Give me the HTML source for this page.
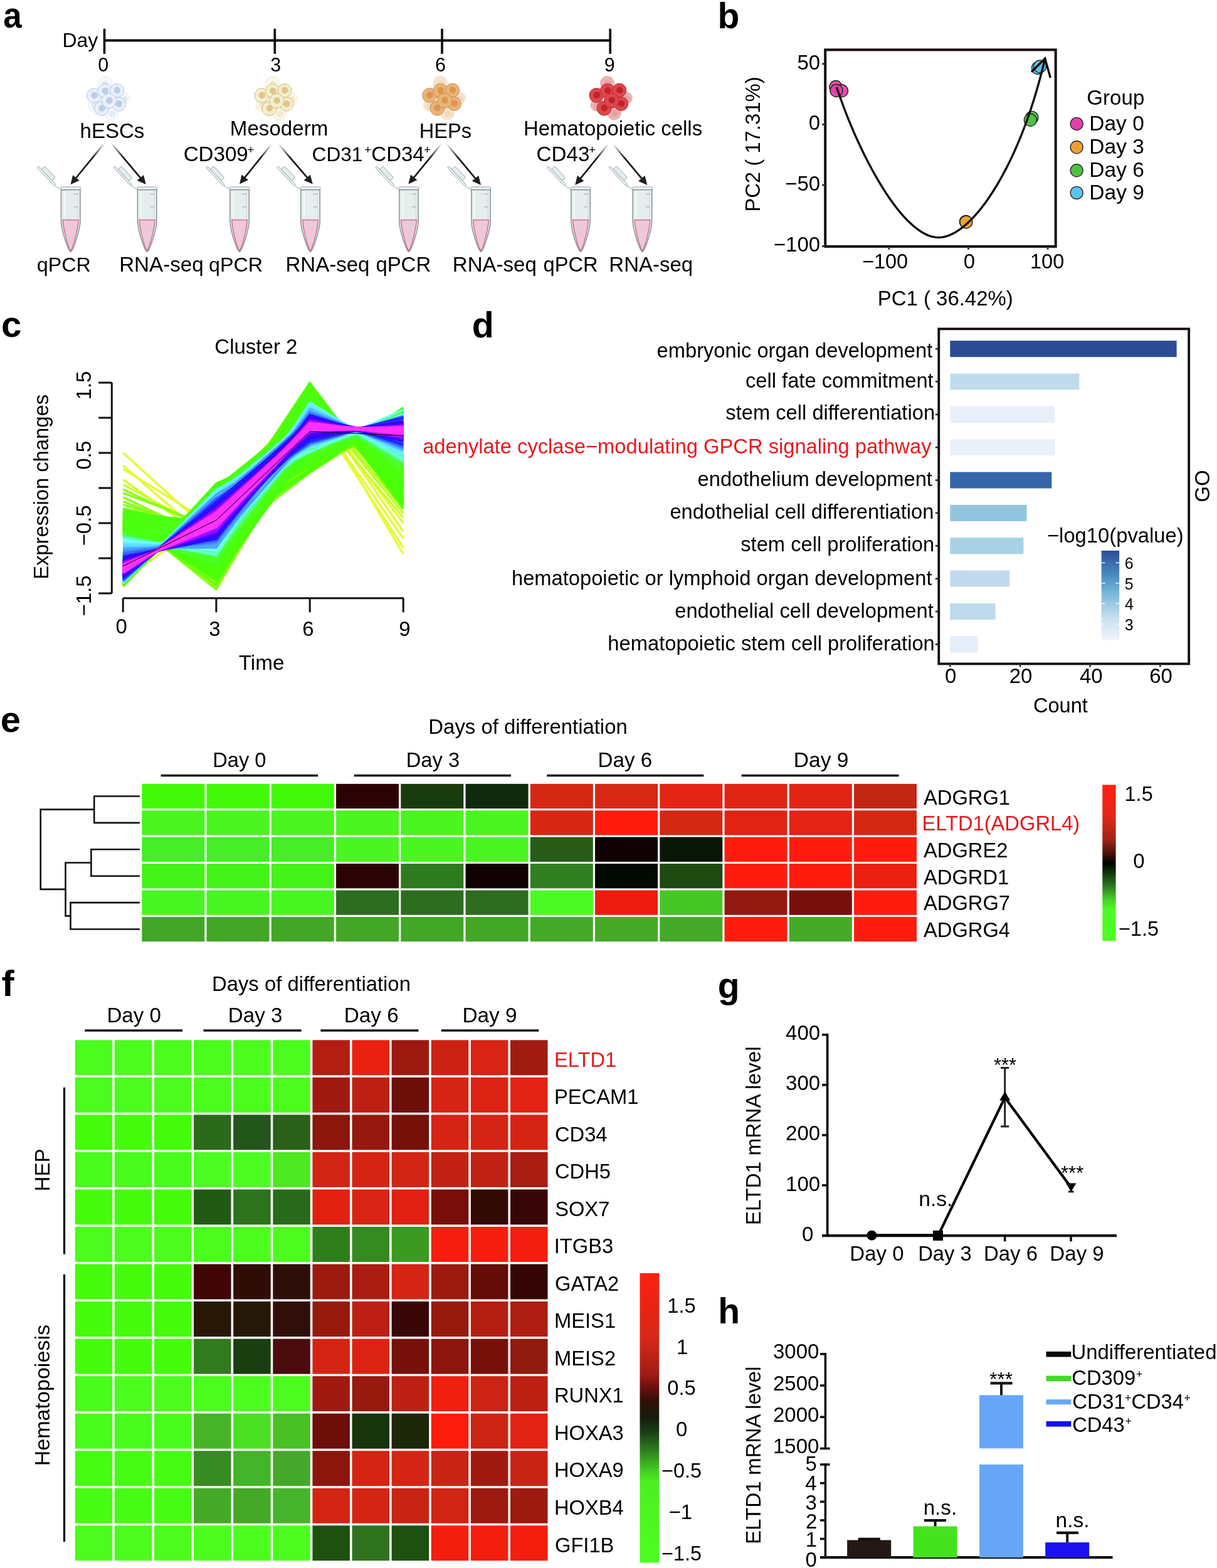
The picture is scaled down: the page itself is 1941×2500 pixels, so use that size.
<!DOCTYPE html>
<html><head><meta charset="utf-8"><title>Figure</title>
<style>
html,body{margin:0;padding:0;background:#fff;}
svg{display:block;}
text{font-family:"Liberation Sans", Arial, Helvetica, sans-serif;}
</style></head><body>
<svg width="1941" height="2500" viewBox="0 0 1941 2500">
<defs><linearGradient id="ag0" gradientUnits="userSpaceOnUse" x1="167.3" y1="227.4" x2="112.5" y2="294.3"><stop offset="0" stop-color="#1a1a1a" stop-opacity="0"/><stop offset="0.35" stop-color="#1a1a1a" stop-opacity="1"/></linearGradient><linearGradient id="ag1" gradientUnits="userSpaceOnUse" x1="176.7" y1="227.4" x2="232.8" y2="294"><stop offset="0" stop-color="#1a1a1a" stop-opacity="0"/><stop offset="0.35" stop-color="#1a1a1a" stop-opacity="1"/></linearGradient><linearGradient id="ag2" gradientUnits="userSpaceOnUse" x1="433.4" y1="229.5" x2="382" y2="293.6"><stop offset="0" stop-color="#1a1a1a" stop-opacity="0"/><stop offset="0.35" stop-color="#1a1a1a" stop-opacity="1"/></linearGradient><linearGradient id="ag3" gradientUnits="userSpaceOnUse" x1="444" y1="229.5" x2="498.8" y2="293.6"><stop offset="0" stop-color="#1a1a1a" stop-opacity="0"/><stop offset="0.35" stop-color="#1a1a1a" stop-opacity="1"/></linearGradient><linearGradient id="ag4" gradientUnits="userSpaceOnUse" x1="704.3" y1="229.2" x2="651.3" y2="293.6"><stop offset="0" stop-color="#1a1a1a" stop-opacity="0"/><stop offset="0.35" stop-color="#1a1a1a" stop-opacity="1"/></linearGradient><linearGradient id="ag5" gradientUnits="userSpaceOnUse" x1="712" y1="229.2" x2="767" y2="295"><stop offset="0" stop-color="#1a1a1a" stop-opacity="0"/><stop offset="0.35" stop-color="#1a1a1a" stop-opacity="1"/></linearGradient><linearGradient id="ag6" gradientUnits="userSpaceOnUse" x1="970.4" y1="229.5" x2="917.3" y2="295"><stop offset="0" stop-color="#1a1a1a" stop-opacity="0"/><stop offset="0.35" stop-color="#1a1a1a" stop-opacity="1"/></linearGradient><linearGradient id="ag7" gradientUnits="userSpaceOnUse" x1="977.4" y1="229.5" x2="1032.3" y2="295"><stop offset="0" stop-color="#1a1a1a" stop-opacity="0"/><stop offset="0.35" stop-color="#1a1a1a" stop-opacity="1"/></linearGradient><linearGradient id="gob" x1="0" y1="1" x2="0" y2="0"><stop offset="0" stop-color="#f0f4fb"/><stop offset="0.25" stop-color="#c9def0"/><stop offset="0.5" stop-color="#7fbcdb"/><stop offset="0.72" stop-color="#4a8dc2"/><stop offset="1" stop-color="#2b4d99"/></linearGradient><linearGradient id="rgb1" x1="0" y1="0" x2="0" y2="1"><stop offset="0" stop-color="#ff2010"/><stop offset="0.2" stop-color="#e42818"/><stop offset="0.35" stop-color="#a02418"/><stop offset="0.45" stop-color="#401008"/><stop offset="0.5" stop-color="#000000"/><stop offset="0.55" stop-color="#0a2a08"/><stop offset="0.65" stop-color="#2e7a20"/><stop offset="0.74" stop-color="#48d428"/><stop offset="0.8" stop-color="#50fa28"/><stop offset="1" stop-color="#4cff20"/></linearGradient><linearGradient id="rgb2" x1="0" y1="0" x2="0" y2="1"><stop offset="0" stop-color="#ff2010"/><stop offset="0.23" stop-color="#d62818"/><stop offset="0.35" stop-color="#a01c14"/><stop offset="0.39" stop-color="#701010"/><stop offset="0.445" stop-color="#301008"/><stop offset="0.5" stop-color="#141c0c"/><stop offset="0.55" stop-color="#1a4016"/><stop offset="0.61" stop-color="#2e7c20"/><stop offset="0.67" stop-color="#40c020"/><stop offset="0.72" stop-color="#4cf020"/><stop offset="1" stop-color="#4cff20"/></linearGradient></defs>
<rect width="1941" height="2500" fill="#fff"/>
<text x="5.21" y="44.3" font-size="57" font-weight="bold" textLength="29.42" lengthAdjust="spacingAndGlyphs">a</text>
<text x="99.44" y="74.9" font-size="31.94">Day</text>
<line x1="166.5" y1="64.6" x2="973.2" y2="64.6" stroke="#140c0c" stroke-width="4"/>
<line x1="166.5" y1="45.8" x2="166.5" y2="85.8" stroke="#140c0c" stroke-width="3.7"/>
<line x1="438.3" y1="45.8" x2="438.3" y2="85.8" stroke="#140c0c" stroke-width="3.7"/>
<line x1="705" y1="45.8" x2="705" y2="85.8" stroke="#140c0c" stroke-width="3.7"/>
<line x1="973.2" y1="45.8" x2="973.2" y2="85.8" stroke="#140c0c" stroke-width="3.7"/>
<text x="156.26" y="113.6" font-size="30.5">0</text>
<text x="431.34" y="113.6" font-size="30.5">3</text>
<text x="693.98" y="113.6" font-size="30.5">6</text>
<text x="963.64" y="113.6" font-size="30.5">9</text>
<g><g opacity="0.385"><circle cx="167" cy="133" r="11.0" fill="#e9f0f8" stroke="#a9c1de" stroke-width="0.8"/><circle cx="168" cy="134" r="5.2" fill="#bccde7"/></g><g opacity="0.385"><circle cx="197.5" cy="157" r="9.5" fill="#e9f0f8" stroke="#a9c1de" stroke-width="0.8"/><circle cx="198.5" cy="158" r="5.2" fill="#bccde7"/></g><g opacity="0.385"><circle cx="178" cy="180.5" r="11.0" fill="#e9f0f8" stroke="#a9c1de" stroke-width="0.8"/><circle cx="179" cy="181.5" r="5.2" fill="#bccde7"/></g><g opacity="0.385"><circle cx="150" cy="168" r="9.5" fill="#e9f0f8" stroke="#a9c1de" stroke-width="0.8"/><circle cx="151" cy="169" r="5.2" fill="#bccde7"/></g><circle cx="150" cy="152.5" r="11.5" fill="#e9f0f8" stroke="#a9c1de" stroke-width="0.9"/><circle cx="150.4" cy="151.9" r="5.3" fill="#bccde7"/><circle cx="167.4" cy="145.3" r="11.5" fill="#e9f0f8" stroke="#a9c1de" stroke-width="0.9"/><circle cx="167.8" cy="144.7" r="5.3" fill="#bccde7"/><circle cx="186.4" cy="144.5" r="11.0" fill="#e9f0f8" stroke="#a9c1de" stroke-width="0.9"/><circle cx="186.8" cy="143.9" r="5.3" fill="#bccde7"/><circle cx="162.1" cy="173.1" r="11.5" fill="#e9f0f8" stroke="#a9c1de" stroke-width="0.9"/><circle cx="162.5" cy="172.5" r="5.3" fill="#bccde7"/><circle cx="189.3" cy="166" r="11.0" fill="#e9f0f8" stroke="#a9c1de" stroke-width="0.9"/><circle cx="189.7" cy="165.4" r="5.3" fill="#bccde7"/><circle cx="173.9" cy="160.9" r="11.8" fill="#e9f0f8" stroke="#a9c1de" stroke-width="0.9"/><circle cx="174.3" cy="160.3" r="5.3" fill="#bccde7"/></g>
<g><g opacity="0.385"><circle cx="434.5" cy="133" r="11.0" fill="#f1f0c8" stroke="#cfb07f" stroke-width="0.8"/><circle cx="435.5" cy="134" r="5.2" fill="#e3c48f"/></g><g opacity="0.385"><circle cx="465" cy="157" r="9.5" fill="#f1f0c8" stroke="#cfb07f" stroke-width="0.8"/><circle cx="466" cy="158" r="5.2" fill="#e3c48f"/></g><g opacity="0.385"><circle cx="445.5" cy="180.5" r="11.0" fill="#f1f0c8" stroke="#cfb07f" stroke-width="0.8"/><circle cx="446.5" cy="181.5" r="5.2" fill="#e3c48f"/></g><g opacity="0.385"><circle cx="417.5" cy="168" r="9.5" fill="#f1f0c8" stroke="#cfb07f" stroke-width="0.8"/><circle cx="418.5" cy="169" r="5.2" fill="#e3c48f"/></g><circle cx="417.5" cy="152.5" r="11.5" fill="#f1f0c8" stroke="#cfb07f" stroke-width="0.9"/><circle cx="417.9" cy="151.9" r="5.3" fill="#e3c48f"/><circle cx="434.9" cy="145.3" r="11.5" fill="#f1f0c8" stroke="#cfb07f" stroke-width="0.9"/><circle cx="435.3" cy="144.7" r="5.3" fill="#e3c48f"/><circle cx="453.9" cy="144.5" r="11.0" fill="#f1f0c8" stroke="#cfb07f" stroke-width="0.9"/><circle cx="454.3" cy="143.9" r="5.3" fill="#e3c48f"/><circle cx="429.6" cy="173.1" r="11.5" fill="#f1f0c8" stroke="#cfb07f" stroke-width="0.9"/><circle cx="430" cy="172.5" r="5.3" fill="#e3c48f"/><circle cx="456.8" cy="166" r="11.0" fill="#f1f0c8" stroke="#cfb07f" stroke-width="0.9"/><circle cx="457.2" cy="165.4" r="5.3" fill="#e3c48f"/><circle cx="441.4" cy="160.9" r="11.8" fill="#f1f0c8" stroke="#cfb07f" stroke-width="0.9"/><circle cx="441.8" cy="160.3" r="5.3" fill="#e3c48f"/></g>
<g><g opacity="0.35"><circle cx="702.2" cy="132.5" r="11.0" fill="#eab476" stroke="#c08a52" stroke-width="0.8"/><circle cx="703.2" cy="133.5" r="5.2" fill="#df9452"/></g><g opacity="0.35"><circle cx="732.7" cy="156.5" r="9.5" fill="#eab476" stroke="#c08a52" stroke-width="0.8"/><circle cx="733.7" cy="157.5" r="5.2" fill="#df9452"/></g><g opacity="0.35"><circle cx="713.2" cy="180" r="11.0" fill="#eab476" stroke="#c08a52" stroke-width="0.8"/><circle cx="714.2" cy="181" r="5.2" fill="#df9452"/></g><g opacity="0.35"><circle cx="685.2" cy="167.5" r="9.5" fill="#eab476" stroke="#c08a52" stroke-width="0.8"/><circle cx="686.2" cy="168.5" r="5.2" fill="#df9452"/></g><circle cx="685.2" cy="152" r="11.5" fill="#eab476" stroke="#c08a52" stroke-width="0.9"/><circle cx="685.6" cy="151.4" r="5.3" fill="#df9452"/><circle cx="702.6" cy="144.8" r="11.5" fill="#eab476" stroke="#c08a52" stroke-width="0.9"/><circle cx="703" cy="144.2" r="5.3" fill="#df9452"/><circle cx="721.6" cy="144" r="11.0" fill="#eab476" stroke="#c08a52" stroke-width="0.9"/><circle cx="722" cy="143.4" r="5.3" fill="#df9452"/><circle cx="697.3" cy="172.6" r="11.5" fill="#eab476" stroke="#c08a52" stroke-width="0.9"/><circle cx="697.7" cy="172" r="5.3" fill="#df9452"/><circle cx="724.5" cy="165.5" r="11.0" fill="#eab476" stroke="#c08a52" stroke-width="0.9"/><circle cx="724.9" cy="164.9" r="5.3" fill="#df9452"/><circle cx="709.1" cy="160.4" r="11.8" fill="#eab476" stroke="#c08a52" stroke-width="0.9"/><circle cx="709.5" cy="159.8" r="5.3" fill="#df9452"/></g>
<g><g opacity="0.42"><circle cx="968.4" cy="132.5" r="11.0" fill="#dd474b" stroke="#b4282e" stroke-width="0.8"/><circle cx="969.4" cy="133.5" r="5.2" fill="#c2232b"/></g><g opacity="0.42"><circle cx="998.9" cy="156.5" r="9.5" fill="#dd474b" stroke="#b4282e" stroke-width="0.8"/><circle cx="999.9" cy="157.5" r="5.2" fill="#c2232b"/></g><g opacity="0.42"><circle cx="979.4" cy="180" r="11.0" fill="#dd474b" stroke="#b4282e" stroke-width="0.8"/><circle cx="980.4" cy="181" r="5.2" fill="#c2232b"/></g><g opacity="0.42"><circle cx="951.4" cy="167.5" r="9.5" fill="#dd474b" stroke="#b4282e" stroke-width="0.8"/><circle cx="952.4" cy="168.5" r="5.2" fill="#c2232b"/></g><circle cx="951.4" cy="152" r="11.5" fill="#dd474b" stroke="#b4282e" stroke-width="0.9"/><circle cx="951.8" cy="151.4" r="5.3" fill="#c2232b"/><circle cx="968.8" cy="144.8" r="11.5" fill="#dd474b" stroke="#b4282e" stroke-width="0.9"/><circle cx="969.2" cy="144.2" r="5.3" fill="#c2232b"/><circle cx="987.8" cy="144" r="11.0" fill="#dd474b" stroke="#b4282e" stroke-width="0.9"/><circle cx="988.2" cy="143.4" r="5.3" fill="#c2232b"/><circle cx="963.5" cy="172.6" r="11.5" fill="#dd474b" stroke="#b4282e" stroke-width="0.9"/><circle cx="963.9" cy="172" r="5.3" fill="#c2232b"/><circle cx="990.7" cy="165.5" r="11.0" fill="#dd474b" stroke="#b4282e" stroke-width="0.9"/><circle cx="991.1" cy="164.9" r="5.3" fill="#c2232b"/><circle cx="975.3" cy="160.4" r="11.8" fill="#dd474b" stroke="#b4282e" stroke-width="0.9"/><circle cx="975.7" cy="159.8" r="5.3" fill="#c2232b"/></g>
<text x="127.59" y="220.1" font-size="32.98">hESCs</text>
<text x="366.85" y="216.3" font-size="33.14">Mesoderm</text>
<text x="668.79" y="220" font-size="32.62">HEPs</text>
<text x="835.07" y="215.8" font-size="32.88">Hematopoietic cells</text>
<text x="292.64" y="256.5" font-size="33.13">CD309</text>
<text x="394.46" y="245.29" font-size="18.76">+</text>
<text x="497.62" y="256.5" font-size="31.63">CD31</text>
<text x="581.26" y="245.29" font-size="18.76">+</text>
<text x="592.35" y="256.5" font-size="32.97">CD34</text>
<text x="676.06" y="245.29" font-size="18.76">+</text>
<text x="855.54" y="256.5" font-size="33.18">CD43</text>
<text x="939.05" y="245.31" font-size="18.97">+</text>
<line x1="167.3" y1="227.4" x2="120.74" y2="284.24" stroke="url(#ag0)" stroke-width="2.7"/>
<path d="M112.5,294.3 L116.11,279.16 L126.63,287.78 Z" fill="#1f1f1f"/>
<line x1="176.7" y1="227.4" x2="224.42" y2="284.06" stroke="url(#ag1)" stroke-width="2.7"/>
<path d="M232.8,294 L218.58,287.67 L228.98,278.91 Z" fill="#1f1f1f"/>
<line x1="433.4" y1="229.5" x2="390.13" y2="283.46" stroke="url(#ag2)" stroke-width="2.7"/>
<path d="M382,293.6 L385.45,278.42 L396.06,286.93 Z" fill="#1f1f1f"/>
<line x1="444" y1="229.5" x2="490.35" y2="283.72" stroke="url(#ag3)" stroke-width="2.7"/>
<path d="M498.8,293.6 L484.53,287.38 L494.87,278.54 Z" fill="#1f1f1f"/>
<line x1="704.3" y1="229.2" x2="659.56" y2="283.56" stroke="url(#ag4)" stroke-width="2.7"/>
<path d="M651.3,293.6 L654.95,278.47 L665.45,287.11 Z" fill="#1f1f1f"/>
<line x1="712" y1="229.2" x2="758.66" y2="285.03" stroke="url(#ag5)" stroke-width="2.7"/>
<path d="M767,295 L752.8,288.62 L763.24,279.9 Z" fill="#1f1f1f"/>
<line x1="970.4" y1="229.5" x2="925.49" y2="284.9" stroke="url(#ag6)" stroke-width="2.7"/>
<path d="M917.3,295 L920.83,279.84 L931.4,288.41 Z" fill="#1f1f1f"/>
<line x1="977.4" y1="229.5" x2="1023.95" y2="285.04" stroke="url(#ag7)" stroke-width="2.7"/>
<path d="M1032.3,295 L1018.1,288.64 L1028.52,279.9 Z" fill="#1f1f1f"/>
<path d="M95.9,300.6 Q91.3,300.3 88.3,295.8" fill="none" stroke="#8d9ea3" stroke-width="1"/><g transform="translate(88.3,295.8) rotate(-133.2)"><rect x="0" y="-1.6" width="41" height="3.2" rx="1.6" fill="#eef2f2" stroke="#8d9ea3" stroke-width="0.9"/><rect x="9" y="1.6" width="25" height="7.2" rx="2" fill="#e4ecec" stroke="#8d9ea3" stroke-width="0.9"/></g><path d="M97.5,302 L97.5,353.5 C98.1,368 108.2,398.5 112.7,401.5 C117.2,398.5 127.3,368 127.9,353.5 L127.9,302 Z" fill="#e6eded" stroke="#7d8d91" stroke-width="1.4"/><path d="M100.3,350.6 L125.1,350.6 C124.5,366 115.9,397 112.7,399.6 C109.5,397 100.9,366 100.3,350.6 Z" fill="#edc8d9" stroke="#cf5f88" stroke-width="1.3"/><line x1="102.7" y1="306" x2="102.7" y2="346" stroke="#f6f9f9" stroke-width="2"/><line x1="124.2" y1="305" x2="124.2" y2="350" stroke="#c8d4d6" stroke-width="0.8"/><line x1="117.7" y1="309.5" x2="123.7" y2="309.5" stroke="#8d9ea3" stroke-width="0.9"/><line x1="117.7" y1="329.8" x2="123.7" y2="329.8" stroke="#8d9ea3" stroke-width="0.9"/><rect x="96.7" y="298.2" width="32" height="4.2" rx="1.5" fill="#f4f7f7" stroke="#8d9ea3" stroke-width="1"/><line x1="97.2" y1="302.6" x2="128.2" y2="302.6" stroke="#6f7f83" stroke-width="1.2"/>
<path d="M217.8,300.6 Q213.2,300.3 210.2,295.8" fill="none" stroke="#8d9ea3" stroke-width="1"/><g transform="translate(210.2,295.8) rotate(-133.2)"><rect x="0" y="-1.6" width="41" height="3.2" rx="1.6" fill="#eef2f2" stroke="#8d9ea3" stroke-width="0.9"/><rect x="9" y="1.6" width="25" height="7.2" rx="2" fill="#e4ecec" stroke="#8d9ea3" stroke-width="0.9"/></g><path d="M219.4,302 L219.4,353.5 C220,368 230.1,398.5 234.6,401.5 C239.1,398.5 249.2,368 249.8,353.5 L249.8,302 Z" fill="#e6eded" stroke="#7d8d91" stroke-width="1.4"/><path d="M222.2,350.6 L247,350.6 C246.4,366 237.8,397 234.6,399.6 C231.4,397 222.8,366 222.2,350.6 Z" fill="#edc8d9" stroke="#cf5f88" stroke-width="1.3"/><line x1="224.6" y1="306" x2="224.6" y2="346" stroke="#f6f9f9" stroke-width="2"/><line x1="246.1" y1="305" x2="246.1" y2="350" stroke="#c8d4d6" stroke-width="0.8"/><line x1="239.6" y1="309.5" x2="245.6" y2="309.5" stroke="#8d9ea3" stroke-width="0.9"/><line x1="239.6" y1="329.8" x2="245.6" y2="329.8" stroke="#8d9ea3" stroke-width="0.9"/><rect x="218.6" y="298.2" width="32" height="4.2" rx="1.5" fill="#f4f7f7" stroke="#8d9ea3" stroke-width="1"/><line x1="219.1" y1="302.6" x2="250.1" y2="302.6" stroke="#6f7f83" stroke-width="1.2"/>
<path d="M365.2,300.6 Q360.6,300.3 357.6,295.8" fill="none" stroke="#8d9ea3" stroke-width="1"/><g transform="translate(357.6,295.8) rotate(-133.2)"><rect x="0" y="-1.6" width="41" height="3.2" rx="1.6" fill="#eef2f2" stroke="#8d9ea3" stroke-width="0.9"/><rect x="9" y="1.6" width="25" height="7.2" rx="2" fill="#e4ecec" stroke="#8d9ea3" stroke-width="0.9"/></g><path d="M366.8,302 L366.8,353.5 C367.4,368 377.5,398.5 382,401.5 C386.5,398.5 396.6,368 397.2,353.5 L397.2,302 Z" fill="#e6eded" stroke="#7d8d91" stroke-width="1.4"/><path d="M369.6,350.6 L394.4,350.6 C393.8,366 385.2,397 382,399.6 C378.8,397 370.2,366 369.6,350.6 Z" fill="#edc8d9" stroke="#cf5f88" stroke-width="1.3"/><line x1="372" y1="306" x2="372" y2="346" stroke="#f6f9f9" stroke-width="2"/><line x1="393.5" y1="305" x2="393.5" y2="350" stroke="#c8d4d6" stroke-width="0.8"/><line x1="387" y1="309.5" x2="393" y2="309.5" stroke="#8d9ea3" stroke-width="0.9"/><line x1="387" y1="329.8" x2="393" y2="329.8" stroke="#8d9ea3" stroke-width="0.9"/><rect x="366" y="298.2" width="32" height="4.2" rx="1.5" fill="#f4f7f7" stroke="#8d9ea3" stroke-width="1"/><line x1="366.5" y1="302.6" x2="397.5" y2="302.6" stroke="#6f7f83" stroke-width="1.2"/>
<path d="M478.2,300.6 Q473.6,300.3 470.6,295.8" fill="none" stroke="#8d9ea3" stroke-width="1"/><g transform="translate(470.6,295.8) rotate(-133.2)"><rect x="0" y="-1.6" width="41" height="3.2" rx="1.6" fill="#eef2f2" stroke="#8d9ea3" stroke-width="0.9"/><rect x="9" y="1.6" width="25" height="7.2" rx="2" fill="#e4ecec" stroke="#8d9ea3" stroke-width="0.9"/></g><path d="M479.8,302 L479.8,353.5 C480.4,368 490.5,398.5 495,401.5 C499.5,398.5 509.6,368 510.2,353.5 L510.2,302 Z" fill="#e6eded" stroke="#7d8d91" stroke-width="1.4"/><path d="M482.6,350.6 L507.4,350.6 C506.8,366 498.2,397 495,399.6 C491.8,397 483.2,366 482.6,350.6 Z" fill="#edc8d9" stroke="#cf5f88" stroke-width="1.3"/><line x1="485" y1="306" x2="485" y2="346" stroke="#f6f9f9" stroke-width="2"/><line x1="506.5" y1="305" x2="506.5" y2="350" stroke="#c8d4d6" stroke-width="0.8"/><line x1="500" y1="309.5" x2="506" y2="309.5" stroke="#8d9ea3" stroke-width="0.9"/><line x1="500" y1="329.8" x2="506" y2="329.8" stroke="#8d9ea3" stroke-width="0.9"/><rect x="479" y="298.2" width="32" height="4.2" rx="1.5" fill="#f4f7f7" stroke="#8d9ea3" stroke-width="1"/><line x1="479.5" y1="302.6" x2="510.5" y2="302.6" stroke="#6f7f83" stroke-width="1.2"/>
<path d="M635.2,300.6 Q630.6,300.3 627.6,295.8" fill="none" stroke="#8d9ea3" stroke-width="1"/><g transform="translate(627.6,295.8) rotate(-133.2)"><rect x="0" y="-1.6" width="41" height="3.2" rx="1.6" fill="#eef2f2" stroke="#8d9ea3" stroke-width="0.9"/><rect x="9" y="1.6" width="25" height="7.2" rx="2" fill="#e4ecec" stroke="#8d9ea3" stroke-width="0.9"/></g><path d="M636.8,302 L636.8,353.5 C637.4,368 647.5,398.5 652,401.5 C656.5,398.5 666.6,368 667.2,353.5 L667.2,302 Z" fill="#e6eded" stroke="#7d8d91" stroke-width="1.4"/><path d="M639.6,350.6 L664.4,350.6 C663.8,366 655.2,397 652,399.6 C648.8,397 640.2,366 639.6,350.6 Z" fill="#edc8d9" stroke="#cf5f88" stroke-width="1.3"/><line x1="642" y1="306" x2="642" y2="346" stroke="#f6f9f9" stroke-width="2"/><line x1="663.5" y1="305" x2="663.5" y2="350" stroke="#c8d4d6" stroke-width="0.8"/><line x1="657" y1="309.5" x2="663" y2="309.5" stroke="#8d9ea3" stroke-width="0.9"/><line x1="657" y1="329.8" x2="663" y2="329.8" stroke="#8d9ea3" stroke-width="0.9"/><rect x="636" y="298.2" width="32" height="4.2" rx="1.5" fill="#f4f7f7" stroke="#8d9ea3" stroke-width="1"/><line x1="636.5" y1="302.6" x2="667.5" y2="302.6" stroke="#6f7f83" stroke-width="1.2"/>
<path d="M750.2,300.6 Q745.6,300.3 742.6,295.8" fill="none" stroke="#8d9ea3" stroke-width="1"/><g transform="translate(742.6,295.8) rotate(-133.2)"><rect x="0" y="-1.6" width="41" height="3.2" rx="1.6" fill="#eef2f2" stroke="#8d9ea3" stroke-width="0.9"/><rect x="9" y="1.6" width="25" height="7.2" rx="2" fill="#e4ecec" stroke="#8d9ea3" stroke-width="0.9"/></g><path d="M751.8,302 L751.8,353.5 C752.4,368 762.5,398.5 767,401.5 C771.5,398.5 781.6,368 782.2,353.5 L782.2,302 Z" fill="#e6eded" stroke="#7d8d91" stroke-width="1.4"/><path d="M754.6,350.6 L779.4,350.6 C778.8,366 770.2,397 767,399.6 C763.8,397 755.2,366 754.6,350.6 Z" fill="#edc8d9" stroke="#cf5f88" stroke-width="1.3"/><line x1="757" y1="306" x2="757" y2="346" stroke="#f6f9f9" stroke-width="2"/><line x1="778.5" y1="305" x2="778.5" y2="350" stroke="#c8d4d6" stroke-width="0.8"/><line x1="772" y1="309.5" x2="778" y2="309.5" stroke="#8d9ea3" stroke-width="0.9"/><line x1="772" y1="329.8" x2="778" y2="329.8" stroke="#8d9ea3" stroke-width="0.9"/><rect x="751" y="298.2" width="32" height="4.2" rx="1.5" fill="#f4f7f7" stroke="#8d9ea3" stroke-width="1"/><line x1="751.5" y1="302.6" x2="782.5" y2="302.6" stroke="#6f7f83" stroke-width="1.2"/>
<path d="M909.2,300.6 Q904.6,300.3 901.6,295.8" fill="none" stroke="#8d9ea3" stroke-width="1"/><g transform="translate(901.6,295.8) rotate(-133.2)"><rect x="0" y="-1.6" width="41" height="3.2" rx="1.6" fill="#eef2f2" stroke="#8d9ea3" stroke-width="0.9"/><rect x="9" y="1.6" width="25" height="7.2" rx="2" fill="#e4ecec" stroke="#8d9ea3" stroke-width="0.9"/></g><path d="M910.8,302 L910.8,353.5 C911.4,368 921.5,398.5 926,401.5 C930.5,398.5 940.6,368 941.2,353.5 L941.2,302 Z" fill="#e6eded" stroke="#7d8d91" stroke-width="1.4"/><path d="M913.6,350.6 L938.4,350.6 C937.8,366 929.2,397 926,399.6 C922.8,397 914.2,366 913.6,350.6 Z" fill="#edc8d9" stroke="#cf5f88" stroke-width="1.3"/><line x1="916" y1="306" x2="916" y2="346" stroke="#f6f9f9" stroke-width="2"/><line x1="937.5" y1="305" x2="937.5" y2="350" stroke="#c8d4d6" stroke-width="0.8"/><line x1="931" y1="309.5" x2="937" y2="309.5" stroke="#8d9ea3" stroke-width="0.9"/><line x1="931" y1="329.8" x2="937" y2="329.8" stroke="#8d9ea3" stroke-width="0.9"/><rect x="910" y="298.2" width="32" height="4.2" rx="1.5" fill="#f4f7f7" stroke="#8d9ea3" stroke-width="1"/><line x1="910.5" y1="302.6" x2="941.5" y2="302.6" stroke="#6f7f83" stroke-width="1.2"/>
<path d="M1007.7,300.6 Q1003.1,300.3 1000.1,295.8" fill="none" stroke="#8d9ea3" stroke-width="1"/><g transform="translate(1000.1,295.8) rotate(-133.2)"><rect x="0" y="-1.6" width="41" height="3.2" rx="1.6" fill="#eef2f2" stroke="#8d9ea3" stroke-width="0.9"/><rect x="9" y="1.6" width="25" height="7.2" rx="2" fill="#e4ecec" stroke="#8d9ea3" stroke-width="0.9"/></g><path d="M1009.3,302 L1009.3,353.5 C1009.9,368 1020,398.5 1024.5,401.5 C1029,398.5 1039.1,368 1039.7,353.5 L1039.7,302 Z" fill="#e6eded" stroke="#7d8d91" stroke-width="1.4"/><path d="M1012.1,350.6 L1036.9,350.6 C1036.3,366 1027.7,397 1024.5,399.6 C1021.3,397 1012.7,366 1012.1,350.6 Z" fill="#edc8d9" stroke="#cf5f88" stroke-width="1.3"/><line x1="1014.5" y1="306" x2="1014.5" y2="346" stroke="#f6f9f9" stroke-width="2"/><line x1="1036" y1="305" x2="1036" y2="350" stroke="#c8d4d6" stroke-width="0.8"/><line x1="1029.5" y1="309.5" x2="1035.5" y2="309.5" stroke="#8d9ea3" stroke-width="0.9"/><line x1="1029.5" y1="329.8" x2="1035.5" y2="329.8" stroke="#8d9ea3" stroke-width="0.9"/><rect x="1008.5" y="298.2" width="32" height="4.2" rx="1.5" fill="#f4f7f7" stroke="#8d9ea3" stroke-width="1"/><line x1="1009" y1="302.6" x2="1040" y2="302.6" stroke="#6f7f83" stroke-width="1.2"/>
<text x="58.81" y="433.4" font-size="32.25">qPCR</text>
<text x="190.14" y="433.4" font-size="33.2">RNA-seq</text>
<text x="333.01" y="433.4" font-size="32.25">qPCR</text>
<text x="455.46" y="433.4" font-size="33.04">RNA-seq</text>
<text x="599.38" y="433.4" font-size="32.91">qPCR</text>
<text x="721.86" y="433.4" font-size="33.02">RNA-seq</text>
<text x="866.49" y="433.4" font-size="32.64">qPCR</text>
<text x="971.36" y="433.4" font-size="32.99">RNA-seq</text>
<text x="1144.39" y="44.5" font-size="57" font-weight="bold">b</text>
<rect x="1316.2" y="79.4" width="367.5" height="313.6" fill="none" stroke="#140c0c" stroke-width="4"/>
<line x1="1311.2" y1="101.8" x2="1316" y2="101.8" stroke="#333" stroke-width="3"/>
<line x1="1311.2" y1="198.4" x2="1316" y2="198.4" stroke="#333" stroke-width="3"/>
<line x1="1311.2" y1="295.1" x2="1316" y2="295.1" stroke="#333" stroke-width="3"/>
<line x1="1311.2" y1="392.5" x2="1316" y2="392.5" stroke="#333" stroke-width="3"/>
<line x1="1417.8" y1="393" x2="1417.8" y2="397.8" stroke="#333" stroke-width="3"/>
<line x1="1544.5" y1="393" x2="1544.5" y2="397.8" stroke="#333" stroke-width="3"/>
<line x1="1671" y1="393" x2="1671" y2="397.8" stroke="#333" stroke-width="3"/>
<text x="1271.43" y="110.7" font-size="33">50</text>
<text x="1289.74" y="207.3" font-size="33">0</text>
<text x="1252.12" y="304" font-size="33">−50</text>
<text x="1233.81" y="401.4" font-size="33">−100</text>
<text x="1374.97" y="427.8" font-size="32.52">−100</text>
<text x="1536.71" y="427.8" font-size="33">0</text>
<text x="1643.06" y="427.8" font-size="32.48">100</text>
<text x="1399.87" y="487.2" font-size="32.92">PC1 ( 36.42%)</text>
<text transform="translate(1211.7,229.8) rotate(-90)" x="-107.98" y="0" font-size="33" textLength="215.42" lengthAdjust="spacingAndGlyphs">PC2 ( 17.31%)</text>
<circle cx="1333" cy="138.5" r="10" fill="#e83dae" stroke="#1e2a1e" stroke-width="1.4" fill-opacity="0.92"/>
<circle cx="1342.5" cy="144.8" r="10" fill="#e83dae" stroke="#1e2a1e" stroke-width="1.4" fill-opacity="0.92"/>
<circle cx="1334" cy="144.5" r="10" fill="#e83dae" stroke="#1e2a1e" stroke-width="1.4" fill-opacity="0.92"/>
<circle cx="1540.4" cy="353.4" r="10" fill="#eba22e" stroke="#1e2a1e" stroke-width="1.4" fill-opacity="0.92"/>
<circle cx="1541" cy="354" r="10" fill="#eba22e" stroke="#1e2a1e" stroke-width="1.4" fill-opacity="0.92"/>
<circle cx="1645.8" cy="187.4" r="10" fill="#4ec144" stroke="#1e2a1e" stroke-width="1.4" fill-opacity="0.92"/>
<circle cx="1643.4" cy="191.3" r="10" fill="#4ec144" stroke="#1e2a1e" stroke-width="1.4" fill-opacity="0.92"/>
<circle cx="1655.5" cy="108.4" r="10" fill="#5cc2ee" stroke="#1e2a1e" stroke-width="1.4" fill-opacity="0.92"/>
<circle cx="1658.5" cy="106" r="10" fill="#5cc2ee" stroke="#1e2a1e" stroke-width="1.4" fill-opacity="0.92"/>
<path d="M1334.9,140.46 L1340.52,156.83 L1346.15,172.21 L1351.77,186.72 L1357.39,200.48 L1363.02,213.57 L1368.64,226.06 L1374.27,238 L1379.89,249.44 L1385.51,260.41 L1391.14,270.93 L1396.76,281.01 L1402.38,290.66 L1408.01,299.87 L1413.63,308.65 L1419.26,316.98 L1424.88,324.84 L1430.5,332.24 L1436.13,339.15 L1441.75,345.57 L1447.37,351.48 L1453,356.89 L1458.62,361.78 L1464.25,366.14 L1469.87,369.92 L1475.49,373.08 L1481.12,375.58 L1486.74,377.36 L1492.36,378.38 L1497.99,378.61 L1503.61,378.07 L1509.24,376.78 L1514.86,374.79 L1520.48,372.15 L1526.11,368.91 L1531.73,365.12 L1537.35,360.78 L1542.98,355.92 L1548.6,350.54 L1554.23,344.65 L1559.85,338.23 L1565.47,331.31 L1571.1,323.88 L1576.72,315.93 L1582.34,307.49 L1587.97,298.52 L1593.59,289.04 L1599.22,279.01 L1604.84,268.42 L1610.46,257.22 L1616.09,245.36 L1621.71,232.79 L1627.33,219.44 L1632.96,205.2 L1638.58,189.97 L1644.21,173.62 L1649.83,156.01 L1655.45,136.95 L1661.08,116.26 L1666.7,93.7" fill="none" stroke="#140c0c" stroke-width="3.4" stroke-linecap="round" stroke-linejoin="round"/>
<path d="M1645.0,114.8 L1666.7,93.2 L1675.3,124.0" fill="none" stroke="#140c0c" stroke-width="3.4" stroke-linejoin="miter"/>
<text x="1733.35" y="167" font-size="33.09">Group</text>
<circle cx="1717.2" cy="197.4" r="10" fill="#e83dae" stroke="#2a2a2a" stroke-width="1.4"/>
<text x="1737.32" y="208" font-size="33.47">Day 0</text>
<circle cx="1717.2" cy="234.8" r="10" fill="#eba22e" stroke="#2a2a2a" stroke-width="1.4"/>
<text x="1737.32" y="245.4" font-size="33.53">Day 3</text>
<circle cx="1717.2" cy="271.8" r="10" fill="#4ec144" stroke="#2a2a2a" stroke-width="1.4"/>
<text x="1737.32" y="282.4" font-size="33.53">Day 6</text>
<circle cx="1717.2" cy="307.4" r="10" fill="#5cc2ee" stroke="#2a2a2a" stroke-width="1.4"/>
<text x="1737.31" y="318" font-size="33.6">Day 9</text>
<text x="2.07" y="536.6" font-size="57" font-weight="bold" textLength="32.45" lengthAdjust="spacingAndGlyphs">c</text>
<text x="342.35" y="563.6" font-size="33">Cluster 2</text>
<line x1="178.3" y1="610.1" x2="178.3" y2="946" stroke="#111" stroke-width="3"/>
<line x1="157.2" y1="610.1" x2="178.3" y2="610.1" stroke="#111" stroke-width="3"/>
<line x1="157.2" y1="666.09" x2="178.3" y2="666.09" stroke="#111" stroke-width="3"/>
<line x1="157.2" y1="722.07" x2="178.3" y2="722.07" stroke="#111" stroke-width="3"/>
<line x1="157.2" y1="778.06" x2="178.3" y2="778.06" stroke="#111" stroke-width="3"/>
<line x1="157.2" y1="834.04" x2="178.3" y2="834.04" stroke="#111" stroke-width="3"/>
<line x1="157.2" y1="890.03" x2="178.3" y2="890.03" stroke="#111" stroke-width="3"/>
<line x1="157.2" y1="946.01" x2="178.3" y2="946.01" stroke="#111" stroke-width="3"/>
<line x1="196.2" y1="953.8" x2="643.8" y2="953.8" stroke="#111" stroke-width="3"/>
<line x1="196.2" y1="953.8" x2="196.2" y2="976.2" stroke="#111" stroke-width="3"/>
<line x1="344.9" y1="953.8" x2="344.9" y2="976.2" stroke="#111" stroke-width="3"/>
<line x1="494.2" y1="953.8" x2="494.2" y2="976.2" stroke="#111" stroke-width="3"/>
<line x1="643.2" y1="953.8" x2="643.2" y2="976.2" stroke="#111" stroke-width="3"/>
<text x="184.51" y="1009.6" font-size="33">0</text>
<text x="333.29" y="1013.6" font-size="33">3</text>
<text x="482.13" y="1013.6" font-size="33">6</text>
<text x="636.19" y="1013.6" font-size="33">9</text>
<text transform="translate(145.3,613.9) rotate(-90)" x="-23.51" y="0" font-size="33">1.5</text>
<text transform="translate(145.3,725.87) rotate(-90)" x="-22.94" y="0" font-size="33">0.5</text>
<text transform="translate(145.3,837.84) rotate(-90)" x="-32.75" y="0" font-size="33">−0.5</text>
<text transform="translate(145.3,949.81) rotate(-90)" x="-32.75" y="0" font-size="33">−1.5</text>
<text x="380.73" y="1068.2" font-size="33.25">Time</text>
<text transform="translate(77.3,775.7) rotate(-90)" x="-148.17" y="0" font-size="33" textLength="294.89" lengthAdjust="spacingAndGlyphs">Expression changes</text>
<g fill="none" stroke-width="3.4" stroke-linejoin="round"><polyline points="196.2,906.58 344.9,803.87 494.2,630.33 643.2,883.31" stroke="#e6fa36"/><polyline points="196.2,922.33 344.9,824.13 494.2,643.7 643.2,873.23" stroke="#e4fa35"/><polyline points="196.2,722.07 344.9,856.66 494.2,671.51 643.2,711.39" stroke="#e3fa34"/><polyline points="196.2,742.22 344.9,870.89 494.2,697.55 643.2,682.49" stroke="#e3fa34"/><polyline points="196.2,747.82 344.9,839.7 494.2,712.03 643.2,669.84" stroke="#e3fa34"/><polyline points="196.2,904.57 344.9,803.36 494.2,644.27 643.2,858.67" stroke="#e3fa34"/><polyline points="196.2,904.31 344.9,831.51 494.2,630.78 643.2,847.48" stroke="#e2fa33"/><polyline points="196.2,869.2 344.9,861.4 494.2,705.23 643.2,712.93" stroke="#e0fa31"/><polyline points="196.2,869.52 344.9,861.02 494.2,729.68 643.2,684.94" stroke="#dffa31"/><polyline points="196.2,920.17 344.9,791.68 494.2,703.55 643.2,714.56" stroke="#dffa31"/><polyline points="196.2,897.91 344.9,822.89 494.2,734.42 643.2,683.9" stroke="#defa31"/><polyline points="196.2,899.95 344.9,809.95 494.2,635.89 643.2,834.04" stroke="#defa31"/><polyline points="196.2,914.92 344.9,804.79 494.2,697.12 643.2,733" stroke="#ddfa30"/><polyline points="196.2,835.91 344.9,905.66 494.2,655.03 643.2,768.33" stroke="#ddfa30"/><polyline points="196.2,851.43 344.9,886.9 494.2,648.7 643.2,771.87" stroke="#dcfa30"/><polyline points="196.2,820.49 344.9,931.93 494.2,640.08 643.2,782.42" stroke="#dbfa30"/><polyline points="196.2,819.56 344.9,931.02 494.2,680.07 643.2,736.96" stroke="#dbfa30"/><polyline points="196.2,845.91 344.9,896.05 494.2,684.02 643.2,737.93" stroke="#dafa2f"/><polyline points="196.2,852.97 344.9,890.85 494.2,708.21 643.2,708.86" stroke="#d9fa2f"/><polyline points="196.2,914.04 344.9,803.71 494.2,690.02 643.2,729.16" stroke="#d9fa2f"/><polyline points="196.2,857.47 344.9,879.79 494.2,689.93 643.2,729.95" stroke="#d8fa2f"/><polyline points="196.2,889.56 344.9,835.68 494.2,651.81 643.2,766.19" stroke="#d7fa2e"/><polyline points="196.2,862.31 344.9,867 494.2,737.78 643.2,676.74" stroke="#d7fa2e"/><polyline points="196.2,860.24 344.9,882.9 494.2,634.12 643.2,788.51" stroke="#d6fa2e"/><polyline points="196.2,837.11 344.9,907.24 494.2,628.21 643.2,795.09" stroke="#d5fa2e"/><polyline points="196.2,872.9 344.9,865.87 494.2,664.58 643.2,748.96" stroke="#d5fa2e"/><polyline points="196.2,857.86 344.9,883.83 494.2,660.22 643.2,760.86" stroke="#d4fa2d"/><polyline points="196.2,900.22 344.9,826.17 494.2,712.21 643.2,702.93" stroke="#d3fa2d"/><polyline points="196.2,895.42 344.9,830.63 494.2,720.99 643.2,692.82" stroke="#d3fa2d"/><polyline points="196.2,824 344.9,927.64 494.2,687.72 643.2,730.6" stroke="#d2fa2d"/><polyline points="196.2,907.21 344.9,815.97 494.2,702.65 643.2,712.66" stroke="#d1fb2c"/><polyline points="196.2,934.25 344.9,780.72 494.2,681.01 643.2,739.34" stroke="#d1fb2c"/><polyline points="196.2,864.31 344.9,864.33 494.2,665.48 643.2,760.75" stroke="#d0fb2c"/><polyline points="196.2,851.08 344.9,890.12 494.2,706.98 643.2,713.33" stroke="#cffb2c"/><polyline points="196.2,890.35 344.9,839.12 494.2,692.49 643.2,727.63" stroke="#cffb2c"/><polyline points="196.2,870.31 344.9,860.56 494.2,655.71 643.2,764.49" stroke="#cefb2b"/><polyline points="196.2,764.62 344.9,870.41 494.2,694.17 643.2,684.44" stroke="#cefb2b"/><polyline points="196.2,772.46 344.9,852.02 494.2,684.65 643.2,699.06" stroke="#cefb2b"/><polyline points="196.2,833.49 344.9,913.68 494.2,674.56 643.2,744.74" stroke="#cdfb2b"/><polyline points="196.2,921.92 344.9,795.26 494.2,676.08 643.2,736.39" stroke="#cdfb2b"/><polyline points="196.2,886.24 344.9,843.9 494.2,651.36 643.2,772.76" stroke="#ccfb2b"/><polyline points="196.2,916.38 344.9,815.12 494.2,648.46 643.2,825.08" stroke="#ccfb2b"/><polyline points="196.2,855.41 344.9,884.1 494.2,654.45 643.2,770.62" stroke="#cbfb2a"/><polyline points="196.2,823.98 344.9,927.25 494.2,615.64 643.2,809.7" stroke="#cbfb2a"/><polyline points="196.2,864.86 344.9,871.5 494.2,732.86 643.2,685.17" stroke="#cafb2a"/><polyline points="196.2,920.92 344.9,795.83 494.2,695.58 643.2,724.11" stroke="#c9fb2a"/><polyline points="196.2,883.64 344.9,840.37 494.2,696.52 643.2,723.28" stroke="#c9fb2a"/><polyline points="196.2,879.89 344.9,851.17 494.2,734.31 643.2,680" stroke="#c8fb29"/><polyline points="196.2,909.44 344.9,803.85 494.2,667.36 643.2,755.55" stroke="#c7fb29"/><polyline points="196.2,916.86 344.9,801.31 494.2,646.1 643.2,781.56" stroke="#c7fb29"/><polyline points="196.2,826.72 344.9,925.98 494.2,618.6 643.2,805.3" stroke="#c6fb29"/><polyline points="196.2,917.35 344.9,800.6 494.2,640.28 643.2,786.43" stroke="#c5fb28"/><polyline points="196.2,849.77 344.9,887.12 494.2,644 643.2,779.5" stroke="#c5fb28"/><polyline points="196.2,850.84 344.9,891.96 494.2,619.82 643.2,810.04" stroke="#c4fb28"/><polyline points="196.2,837.78 344.9,907.41 494.2,697.65 643.2,719.11" stroke="#c3fb28"/><polyline points="196.2,871.72 344.9,863.07 494.2,637.89 643.2,784.36" stroke="#c3fb28"/><polyline points="196.2,902.9 344.9,819.34 494.2,706.56 643.2,708.17" stroke="#c2fc27"/><polyline points="196.2,917.24 344.9,796.8 494.2,660.38 643.2,757.03" stroke="#c1fc27"/><polyline points="196.2,825.99 344.9,921.91 494.2,626.92 643.2,805.33" stroke="#c1fc27"/><polyline points="196.2,853.12 344.9,894.18 494.2,643.29 643.2,777.34" stroke="#c0fc27"/><polyline points="196.2,823.08 344.9,924.44 494.2,699.3 643.2,712.14" stroke="#bffc26"/><polyline points="196.2,891.94 344.9,803.1 494.2,636.09 643.2,818.36" stroke="#bffc26"/><polyline points="196.2,850.18 344.9,890.72 494.2,690.22 643.2,730.16" stroke="#bffc26"/><polyline points="196.2,869.25 344.9,865.03 494.2,704.79 643.2,712.09" stroke="#befc26"/><polyline points="196.2,893.08 344.9,831.77 494.2,747.38 643.2,662.43" stroke="#bdfc26"/><polyline points="196.2,930.3 344.9,781.49 494.2,747.55 643.2,661.17" stroke="#bdfc26"/><polyline points="196.2,876.8 344.9,857.89 494.2,679.18 643.2,747.27" stroke="#bcfc25"/><polyline points="196.2,830.9 344.9,916.78 494.2,676.68 643.2,739.6" stroke="#bbfc25"/><polyline points="196.2,865.49 344.9,865.31 494.2,647.37 643.2,778.86" stroke="#bbfc25"/><polyline points="196.2,879.05 344.9,849.25 494.2,630.4 643.2,788.29" stroke="#bafc25"/><polyline points="196.2,880.83 344.9,853.64 494.2,681.46 643.2,741.52" stroke="#b9fc24"/><polyline points="196.2,883.34 344.9,846.06 494.2,684.72 643.2,735.7" stroke="#b9fc24"/><polyline points="196.2,838.38 344.9,907.31 494.2,649.4 643.2,773.12" stroke="#b8fc24"/><polyline points="196.2,842.32 344.9,906.97 494.2,657.9 643.2,769.43" stroke="#b7fc24"/><polyline points="196.2,890.65 344.9,833.78 494.2,727.3 643.2,691.95" stroke="#b7fc24"/><polyline points="196.2,915.37 344.9,800.12 494.2,656.38 643.2,765.07" stroke="#b6fc23"/><polyline points="196.2,929.99 344.9,775.81 494.2,733.06 643.2,680.76" stroke="#b5fc23"/><polyline points="196.2,833.89 344.9,916.33 494.2,651.76 643.2,768.75" stroke="#b5fc23"/><polyline points="196.2,855.48 344.9,879.29 494.2,677.95 643.2,740.02" stroke="#b4fc23"/><polyline points="196.2,897.45 344.9,825.78 494.2,714.64 643.2,700.12" stroke="#b3fd22"/><polyline points="196.2,855.53 344.9,875.88 494.2,626.91 643.2,799.35" stroke="#b3fd22"/><polyline points="196.2,928.82 344.9,784.14 494.2,714.5 643.2,701.39" stroke="#b2fd22"/><polyline points="196.2,908.43 344.9,809.18 494.2,632.78 643.2,811.65" stroke="#b2fd22"/><polyline points="196.2,870.15 344.9,867.61 494.2,680.09 643.2,737.08" stroke="#b1fd22"/><polyline points="196.2,912.66 344.9,803.81 494.2,737.32 643.2,673.55" stroke="#b1fd22"/><polyline points="196.2,874.16 344.9,857.36 494.2,682.24 643.2,735.68" stroke="#b0fd21"/><polyline points="196.2,932.07 344.9,776.6 494.2,713.29 643.2,697.27" stroke="#affd21"/><polyline points="196.2,828.29 344.9,923.73 494.2,628.92 643.2,794.1" stroke="#affd21"/><polyline points="196.2,841.29 344.9,906.59 494.2,727.2 643.2,688.14" stroke="#aefd21"/><polyline points="196.2,896.54 344.9,834.46 494.2,739.18 643.2,674.51" stroke="#adfd20"/><polyline points="196.2,935.08 344.9,778.73 494.2,696.58 643.2,720.82" stroke="#adfd20"/><polyline points="196.2,825.79 344.9,924.59 494.2,707.97 643.2,714.31" stroke="#acfd20"/><polyline points="196.2,910.62 344.9,811.04 494.2,657.9 643.2,767.79" stroke="#abfd20"/><polyline points="196.2,819.37 344.9,928.86 494.2,646.13 643.2,778.05" stroke="#abfd20"/><polyline points="196.2,921.66 344.9,793.43 494.2,700.01 643.2,712.19" stroke="#aafd1f"/><polyline points="196.2,896.37 344.9,834.2 494.2,649.31 643.2,777.38" stroke="#a9fd1f"/><polyline points="196.2,918.67 344.9,798.43 494.2,708.5 643.2,708" stroke="#a9fd1f"/><polyline points="196.2,840.13 344.9,907.97 494.2,631.09 643.2,795.08" stroke="#a8fd1f"/><polyline points="196.2,890.58 344.9,832.33 494.2,680.61 643.2,735.78" stroke="#a7fd1e"/><polyline points="196.2,824.43 344.9,921.13 494.2,691.51 643.2,732.22" stroke="#a7fd1e"/><polyline points="196.2,926.81 344.9,791.11 494.2,753.39 643.2,658.49" stroke="#a6fd1e"/><polyline points="196.2,935.28 344.9,778.41 494.2,659.06 643.2,759.1" stroke="#a5fd1e"/><polyline points="196.2,893.08 344.9,833.62 494.2,680.51 643.2,736.95" stroke="#a5fd1e"/><polyline points="196.2,924.97 344.9,787.07 494.2,699.21 643.2,714.87" stroke="#a4fe1d"/><polyline points="196.2,817.72 344.9,934.38 494.2,616.64 643.2,807.76" stroke="#a3fe1d"/><polyline points="196.2,846.49 344.9,896.06 494.2,636.69 643.2,789.07" stroke="#a3fe1d"/><polyline points="196.2,863.7 344.9,872.53 494.2,647.23 643.2,779.45" stroke="#a2fe1d"/><polyline points="196.2,862.5 344.9,875.19 494.2,647.67 643.2,776.07" stroke="#a1fe1c"/><polyline points="196.2,854.29 344.9,879.52 494.2,682.83 643.2,740.9" stroke="#a1fe1c"/><polyline points="196.2,886.53 344.9,842.58 494.2,674.78 643.2,743.92" stroke="#a0fe1c"/><polyline points="196.2,882.99 344.9,847.2 494.2,630.88 643.2,793.21" stroke="#9ffe1c"/><polyline points="196.2,817.37 344.9,938.97 494.2,688.73 643.2,728.39" stroke="#9ffe1c"/><polyline points="196.2,863.18 344.9,874.19 494.2,717.23 643.2,696.34" stroke="#9efe1b"/><polyline points="196.2,923.38 344.9,789.31 494.2,739.48 643.2,675.12" stroke="#9dfe1b"/><polyline points="196.2,865.32 344.9,874.06 494.2,659.38 643.2,762.74" stroke="#9dfe1b"/><polyline points="196.2,854.38 344.9,886.17 494.2,688.73 643.2,727.91" stroke="#9cfe1b"/><polyline points="196.2,929.5 344.9,783.08 494.2,706.25 643.2,712.46" stroke="#9bfe1a"/><polyline points="196.2,932 344.9,784.22 494.2,706.81 643.2,701.15" stroke="#9bfe1a"/><polyline points="196.2,891.24 344.9,837.04 494.2,651.74 643.2,770.91" stroke="#9afe1a"/><polyline points="196.2,835.71 344.9,917.56 494.2,667.21 643.2,750.37" stroke="#99fe1a"/><polyline points="196.2,933.28 344.9,776.54 494.2,743.64 643.2,672.55" stroke="#99fe1a"/><polyline points="196.2,876.98 344.9,854.04 494.2,632.66 643.2,791.56" stroke="#98fe19"/><polyline points="196.2,902.08 344.9,819.65 494.2,664.68 643.2,754.08" stroke="#97fe19"/><polyline points="196.2,862 344.9,875 494.2,724.98 643.2,689.94" stroke="#97fe19"/><polyline points="196.2,866.27 344.9,870.96 494.2,674.71 643.2,745.32" stroke="#96fe19"/><polyline points="196.2,846.05 344.9,893.11 494.2,642.96 643.2,781.87" stroke="#95ff18"/><polyline points="196.2,918.36 344.9,792.54 494.2,641.71 643.2,781.58" stroke="#95ff18"/><polyline points="196.2,872.74 344.9,860.69 494.2,631.65 643.2,796.16" stroke="#94ff18"/><polyline points="196.2,839.49 344.9,910.31 494.2,701.56 643.2,712.45" stroke="#94ff18"/><polyline points="196.2,915.36 344.9,800.36 494.2,723.69 643.2,696.31" stroke="#93ff18"/><polyline points="196.2,857.89 344.9,879.78 494.2,705.46 643.2,710.94" stroke="#93ff18"/><polyline points="196.2,906.11 344.9,816.23 494.2,684.43 643.2,732.83" stroke="#92ff18"/><polyline points="196.2,884.77 344.9,845.91 494.2,725.26 643.2,688.98" stroke="#91ff17"/><polyline points="196.2,928.02 344.9,782.4 494.2,661.94 643.2,751.72" stroke="#91ff17"/><polyline points="196.2,877.21 344.9,855.52 494.2,673.64 643.2,745.18" stroke="#90ff17"/><polyline points="196.2,922.54 344.9,794.19 494.2,742.56 643.2,666.9" stroke="#90ff17"/><polyline points="196.2,883.13 344.9,850.09 494.2,738.57 643.2,676.92" stroke="#8fff17"/><polyline points="196.2,921.88 344.9,794.12 494.2,734.17 643.2,679.29" stroke="#8fff17"/><polyline points="196.2,873.93 344.9,861.65 494.2,666.86 643.2,760.75" stroke="#8eff17"/><polyline points="196.2,862.33 344.9,876.31 494.2,651.72 643.2,771.47" stroke="#8eff16"/><polyline points="196.2,844.44 344.9,900.48 494.2,675.06 643.2,744.71" stroke="#8dff16"/><polyline points="196.2,868.74 344.9,869.95 494.2,648.28 643.2,770.25" stroke="#8dff16"/><polyline points="196.2,895.44 344.9,829.44 494.2,680.68 643.2,742.02" stroke="#8cff16"/><polyline points="196.2,862.75 344.9,873.12 494.2,633.75 643.2,788.06" stroke="#8cff16"/><polyline points="196.2,884.98 344.9,840.96 494.2,644.11 643.2,780.19" stroke="#8bff16"/><polyline points="196.2,865.19 344.9,876.21 494.2,644.6 643.2,779.33" stroke="#8bff16"/><polyline points="196.2,900.56 344.9,823.63 494.2,679.68 643.2,743.04" stroke="#8aff15"/><polyline points="196.2,914.56 344.9,802.18 494.2,728.15 643.2,688.26" stroke="#89ff15"/><polyline points="196.2,912.14 344.9,806.51 494.2,675.47 643.2,744.58" stroke="#89ff15"/><polyline points="196.2,904.09 344.9,819.2 494.2,708.9 643.2,705.95" stroke="#88ff15"/><polyline points="196.2,831.72 344.9,918.13 494.2,625.48 643.2,801.94" stroke="#88ff15"/><polyline points="196.2,844.49 344.9,894.93 494.2,654.61 643.2,763.46" stroke="#87ff15"/><polyline points="196.2,876.47 344.9,853.83 494.2,687.94 643.2,729.07" stroke="#87ff15"/><polyline points="196.2,780.29 344.9,849.46 494.2,685.91 643.2,696.04" stroke="#87ff15"/><polyline points="196.2,785.89 344.9,841.99 494.2,689.68 643.2,694.78" stroke="#87ff15"/><polyline points="196.2,792.61 344.9,863.96 494.2,696.79 643.2,681" stroke="#87ff15"/><polyline points="196.2,799.33 344.9,859.15 494.2,714.42 643.2,663.41" stroke="#87ff15"/><polyline points="196.2,804.93 344.9,847.45 494.2,673.44 643.2,706.74" stroke="#87ff15"/><polyline points="196.2,810.53 344.9,842.97 494.2,709.04 643.2,669.6" stroke="#87ff15"/><polyline points="196.2,815.01 344.9,872.12 494.2,668.06 643.2,717.52" stroke="#87ff15"/><polyline points="196.2,819.48 344.9,868.42 494.2,691.46 643.2,689.43" stroke="#87ff15"/><polyline points="196.2,885.57 344.9,841.86 494.2,676.76 643.2,745.5" stroke="#86ff14"/><polyline points="196.2,870.08 344.9,865.09 494.2,668.92 643.2,748.92" stroke="#86ff14"/><polyline points="196.2,835.38 344.9,835.51 494.2,634.03 643.2,789.48" stroke="#85ff14"/><polyline points="196.2,890.51 344.9,835.94 494.2,634 643.2,791.78" stroke="#85ff14"/><polyline points="196.2,847.98 344.9,899.24 494.2,683.46 643.2,736.44" stroke="#85ff14"/><polyline points="196.2,912.93 344.9,807.79 494.2,717.5 643.2,698.94" stroke="#84ff14"/><polyline points="196.2,844.79 344.9,842.55 494.2,626.39 643.2,797.74" stroke="#84ff14"/><polyline points="196.2,819.73 344.9,940.01 494.2,663.58 643.2,760.02" stroke="#84ff14"/><polyline points="196.2,834.09 344.9,914.9 494.2,710.18 643.2,704.35" stroke="#83ff14"/><polyline points="196.2,922.68 344.9,796.26 494.2,689.4 643.2,731.72" stroke="#82ff13"/><polyline points="196.2,920.41 344.9,789.82 494.2,650.31 643.2,772.82" stroke="#82ff13"/><polyline points="196.2,836.01 344.9,907.96 494.2,656.38 643.2,761.77" stroke="#81ff13"/><polyline points="196.2,823.23 344.9,855.97 494.2,637.83 643.2,784.72" stroke="#81ff13"/><polyline points="196.2,898.79 344.9,827.21 494.2,676.96 643.2,751.05" stroke="#81ff13"/><polyline points="196.2,894.6 344.9,836.23 494.2,637.43 643.2,788.26" stroke="#80ff13"/><polyline points="196.2,814.4 344.9,867.6 494.2,753.6 643.2,656.11" stroke="#80ff13"/><polyline points="196.2,856 344.9,836.78 494.2,665.58 643.2,753.81" stroke="#80ff13"/><polyline points="196.2,825.03 344.9,851.45 494.2,732.67 643.2,679.34" stroke="#80ff13"/><polyline points="196.2,855.46 344.9,834.17 494.2,672.11 643.2,746.52" stroke="#80ff13"/><polyline points="196.2,882.65 344.9,841.72 494.2,674.65 643.2,744.79" stroke="#80ff13"/><polyline points="196.2,813.87 344.9,841.29 494.2,633.92 643.2,788.88" stroke="#80ff13"/><polyline points="196.2,860.49 344.9,876.41 494.2,721.36 643.2,692.21" stroke="#7fff13"/><polyline points="196.2,916.16 344.9,812.33 494.2,746.35 643.2,656.42" stroke="#7fff12"/><polyline points="196.2,859.73 344.9,862.74 494.2,620.49 643.2,803.66" stroke="#7fff12"/><polyline points="196.2,913.22 344.9,804.42 494.2,690.58 643.2,727.61" stroke="#7eff12"/><polyline points="196.2,827.22 344.9,927.4 494.2,692.12 643.2,723.15" stroke="#7eff12"/><polyline points="196.2,889.39 344.9,843.01 494.2,688.2 643.2,731.09" stroke="#7dff12"/><polyline points="196.2,816.55 344.9,835.21 494.2,720.28 643.2,692.74" stroke="#7dff12"/><polyline points="196.2,848.54 344.9,892.74 494.2,722.68 643.2,689.29" stroke="#7dff12"/><polyline points="196.2,853.78 344.9,829.96 494.2,751.2 643.2,658.38" stroke="#7cff12"/><polyline points="196.2,899.8 344.9,823.35 494.2,647.33 643.2,772.94" stroke="#7cff12"/><polyline points="196.2,922.11 344.9,792.48 494.2,732.31 643.2,676.1" stroke="#7cff12"/><polyline points="196.2,816.73 344.9,846.94 494.2,683.86 643.2,732.93" stroke="#7bff11"/><polyline points="196.2,859.65 344.9,883.07 494.2,658.79 643.2,763.87" stroke="#7bff11"/><polyline points="196.2,893.09 344.9,829.9 494.2,692.58 643.2,723.46" stroke="#7aff11"/><polyline points="196.2,865.68 344.9,833.18 494.2,693.94 643.2,721.65" stroke="#7aff11"/><polyline points="196.2,859.32 344.9,881.59 494.2,663.66 643.2,755.05" stroke="#7aff11"/><polyline points="196.2,919.96 344.9,800.46 494.2,752.28 643.2,657.09" stroke="#79ff11"/><polyline points="196.2,907.51 344.9,811.04 494.2,738.41 643.2,680.45" stroke="#79ff11"/><polyline points="196.2,816.04 344.9,866.54 494.2,656.96 643.2,762.44" stroke="#79ff11"/><polyline points="196.2,839.97 344.9,907.74 494.2,704.99 643.2,703.41" stroke="#78ff11"/><polyline points="196.2,840.34 344.9,910.5 494.2,668.28 643.2,749.12" stroke="#78ff11"/><polyline points="196.2,836.42 344.9,908.94 494.2,632.39 643.2,793.37" stroke="#77ff10"/><polyline points="196.2,864.41 344.9,870.32 494.2,653.27 643.2,763.48" stroke="#77ff10"/><polyline points="196.2,839.15 344.9,904.66 494.2,720.49 643.2,688.43" stroke="#76ff10"/><polyline points="196.2,847.33 344.9,895.95 494.2,725.93 643.2,687.16" stroke="#76ff10"/><polyline points="196.2,851.62 344.9,839.64 494.2,730.6 643.2,680.5" stroke="#76ff10"/><polyline points="196.2,920.02 344.9,796.73 494.2,653.48 643.2,765.47" stroke="#75ff10"/><polyline points="196.2,858.45 344.9,862.42 494.2,684.93 643.2,731" stroke="#75ff10"/><polyline points="196.2,837.22 344.9,903.96 494.2,636.15 643.2,784.5" stroke="#75ff10"/><polyline points="196.2,880.61 344.9,843.23 494.2,701.2 643.2,710.15" stroke="#74ff10"/><polyline points="196.2,841.26 344.9,830.6 494.2,702.71 643.2,711.21" stroke="#74ff10"/><polyline points="196.2,888.18 344.9,839.27 494.2,683.48 643.2,734.86" stroke="#73ff0f"/><polyline points="196.2,830.11 344.9,861.64 494.2,627.09 643.2,794.86" stroke="#73ff0f"/><polyline points="196.2,858 344.9,887.99 494.2,641.64 643.2,777.67" stroke="#73ff0f"/><polyline points="196.2,897.38 344.9,822.82 494.2,717.58 643.2,693.22" stroke="#72ff0f"/><polyline points="196.2,872.59 344.9,861.91 494.2,732.6 643.2,680.68" stroke="#72ff0f"/><polyline points="196.2,858.2 344.9,854.58 494.2,626.86 643.2,794.89" stroke="#71ff0f"/><polyline points="196.2,920.82 344.9,797.92 494.2,665.83 643.2,750.78" stroke="#71ff0f"/><polyline points="196.2,864.68 344.9,875.1 494.2,680.45 643.2,736.14" stroke="#71ff0f"/><polyline points="196.2,906.22 344.9,814.05 494.2,746.18 643.2,664.9" stroke="#70ff0f"/><polyline points="196.2,826.82 344.9,854 494.2,737.8 643.2,671.93" stroke="#70ff0f"/><polyline points="196.2,851.33 344.9,853.96 494.2,618.3 643.2,804.18" stroke="#70ff0e"/><polyline points="196.2,847 344.9,895.78 494.2,673.81 643.2,744.19" stroke="#70ff0e"/><polyline points="196.2,829.35 344.9,919.11 494.2,710.74 643.2,697.3" stroke="#6fff0e"/><polyline points="196.2,900.24 344.9,826.17 494.2,678.75 643.2,738.79" stroke="#6fff0e"/><polyline points="196.2,832.55 344.9,865.4 494.2,687.58 643.2,727.34" stroke="#6fff0e"/><polyline points="196.2,835.79 344.9,915.46 494.2,721.02 643.2,696.6" stroke="#6eff0e"/><polyline points="196.2,842.13 344.9,864.1 494.2,715.04 643.2,696.88" stroke="#6eff0e"/><polyline points="196.2,854.88 344.9,831.7 494.2,617.72 643.2,804.55" stroke="#6eff0e"/><polyline points="196.2,929.21 344.9,776.39 494.2,675.6 643.2,741.14" stroke="#6eff0e"/><polyline points="196.2,849.21 344.9,891.34 494.2,640.02 643.2,781.25" stroke="#6dff0e"/><polyline points="196.2,878.71 344.9,849.65 494.2,655.4 643.2,762.09" stroke="#6dff0e"/><polyline points="196.2,851.06 344.9,896.62 494.2,626.7 643.2,798.18" stroke="#6cff0d"/><polyline points="196.2,917.61 344.9,800.15 494.2,693.95 643.2,720.63" stroke="#6bff0d"/><polyline points="196.2,828.57 344.9,861.12 494.2,641.93 643.2,777.44" stroke="#6bff0d"/><polyline points="196.2,859.79 344.9,880.61 494.2,649.19 643.2,769.45" stroke="#6bff0d"/><polyline points="196.2,898.36 344.9,825.03 494.2,731.58 643.2,682.44" stroke="#6aff0d"/><polyline points="196.2,877.88 344.9,857 494.2,658.54 643.2,754.96" stroke="#6aff0d"/><polyline points="196.2,919.95 344.9,794.97 494.2,702.21 643.2,709.01" stroke="#69ff0d"/><polyline points="196.2,932.87 344.9,780.47 494.2,720.53 643.2,691.83" stroke="#69ff0d"/><polyline points="196.2,822.02 344.9,933.01 494.2,654.75 643.2,761.73" stroke="#68ff0c"/><polyline points="196.2,876.91 344.9,855.7 494.2,649.92 643.2,771.05" stroke="#68ff0c"/><polyline points="196.2,908.71 344.9,811.84 494.2,701.29 643.2,707.61" stroke="#67ff0c"/><polyline points="196.2,824 344.9,933.2 494.2,661.91 643.2,753.73" stroke="#67ff0c"/><polyline points="196.2,880.31 344.9,848.83 494.2,694.86 643.2,716.54" stroke="#66ff0c"/><polyline points="196.2,866.25 344.9,838.36 494.2,620.58 643.2,800.35" stroke="#66ff0c"/><polyline points="196.2,814.34 344.9,865.94 494.2,611.23 643.2,810.67" stroke="#66ff0c"/><polyline points="196.2,888.73 344.9,837.02 494.2,681.83 643.2,736.01" stroke="#66ff0c"/><polyline points="196.2,929.73 344.9,787.21 494.2,726.91 643.2,685.08" stroke="#65ff0c"/><polyline points="196.2,867.05 344.9,831.67 494.2,649.34 643.2,768.45" stroke="#65ff0c"/><polyline points="196.2,862.16 344.9,876.9 494.2,664.51 643.2,754.65" stroke="#64ff0b"/><polyline points="196.2,924.6 344.9,794.63 494.2,730.17 643.2,680.42" stroke="#64ff0b"/><polyline points="196.2,841.74 344.9,902.04 494.2,635.56 643.2,777.07" stroke="#63ff0b"/><polyline points="196.2,921.49 344.9,794.43 494.2,688.53 643.2,731.26" stroke="#63ff0b"/><polyline points="196.2,854.37 344.9,832.84 494.2,616.92 643.2,803.98" stroke="#63ff0b"/><polyline points="196.2,842.73 344.9,906.47 494.2,634.29 643.2,784.28" stroke="#62ff0b"/><polyline points="196.2,923.72 344.9,791.96 494.2,687.08 643.2,724.62" stroke="#62ff0b"/><polyline points="196.2,925.76 344.9,790.74 494.2,707.29 643.2,695" stroke="#61ff0b"/><polyline points="196.2,832.58 344.9,838.49 494.2,640.99 643.2,777.17" stroke="#61ff0a"/><polyline points="196.2,855.37 344.9,885.22 494.2,654.65 643.2,761.67" stroke="#61ff0a"/><polyline points="196.2,855.89 344.9,859.75 494.2,621.04 643.2,799.16" stroke="#61ff0a"/><polyline points="196.2,898.75 344.9,821.42 494.2,715.57 643.2,699.15" stroke="#60ff0a"/><polyline points="196.2,837.25 344.9,856.13 494.2,733.91 643.2,674.52" stroke="#60ff0a"/><polyline points="196.2,839.85 344.9,908.08 494.2,648.32 643.2,769.79" stroke="#60ff0a"/><polyline points="196.2,863.95 344.9,873.24 494.2,674.12 643.2,743.64" stroke="#5fff0a"/><polyline points="196.2,831.71 344.9,829.13 494.2,614.6 643.2,806.06" stroke="#5fff0a"/><polyline points="196.2,881.15 344.9,851.33 494.2,724.98 643.2,680.86" stroke="#5fff0a"/><polyline points="196.2,903.66 344.9,812.41 494.2,734.43 643.2,667.81" stroke="#5eff0a"/><polyline points="196.2,909.68 344.9,806.76 494.2,713.49 643.2,703.63" stroke="#5eff0a"/><polyline points="196.2,854.79 344.9,834.64 494.2,610.26 643.2,810.62" stroke="#5dff0a"/><polyline points="196.2,928.2 344.9,785.65 494.2,648.68 643.2,767.52" stroke="#5dff09"/><polyline points="196.2,837.39 344.9,908.76 494.2,672.6 643.2,743.76" stroke="#5cff09"/><polyline points="196.2,858.02 344.9,828.73 494.2,644.08 643.2,773.21" stroke="#5cff09"/><polyline points="196.2,926.65 344.9,785.58 494.2,656.03 643.2,761.27" stroke="#5cff09"/><polyline points="196.2,839.23 344.9,831.67 494.2,674.62 643.2,739.45" stroke="#5cff09"/><polyline points="196.2,828.3 344.9,854.13 494.2,684.59 643.2,728.42" stroke="#5bff09"/><polyline points="196.2,912.64 344.9,809.74 494.2,692.6 643.2,718.95" stroke="#5bff09"/><polyline points="196.2,861.02 344.9,832.57 494.2,740.32 643.2,666.96" stroke="#5bff09"/><polyline points="196.2,883.3 344.9,853.05 494.2,711.92 643.2,696.74" stroke="#5bff09"/><polyline points="196.2,841.11 344.9,906.72 494.2,640.84 643.2,776.92" stroke="#5aff09"/><polyline points="196.2,894.48 344.9,828.31 494.2,720.86 643.2,687.56" stroke="#5aff09"/><polyline points="196.2,819.01 344.9,860.97 494.2,643.39 643.2,773.59" stroke="#59ff08"/><polyline points="196.2,894.71 344.9,832.12 494.2,710.13 643.2,698.78" stroke="#59ff08"/><polyline points="196.2,863.26 344.9,860.23 494.2,682.92 643.2,729.96" stroke="#59ff08"/><polyline points="196.2,926.37 344.9,781.08 494.2,668.03 643.2,743.37" stroke="#59ff08"/><polyline points="196.2,843.36 344.9,835.34 494.2,630.27 643.2,787.91" stroke="#58ff08"/><polyline points="196.2,829.29 344.9,920.82 494.2,623.05 643.2,791.78" stroke="#58ff08"/><polyline points="196.2,847.77 344.9,852.36 494.2,735.88 643.2,671.48" stroke="#58ff08"/><polyline points="196.2,829.7 344.9,917.89 494.2,707.64 643.2,701.53" stroke="#58ff08"/><polyline points="196.2,812.17 344.9,847.4 494.2,717.08 643.2,692.15" stroke="#57ff08"/><polyline points="196.2,876.78 344.9,856.65 494.2,714.02 643.2,691.05" stroke="#57ff08"/><polyline points="196.2,885.95 344.9,846.58 494.2,674.29 643.2,741.42" stroke="#57ff08"/><polyline points="196.2,874.46 344.9,863.57 494.2,695.54 643.2,717.09" stroke="#56ff08"/><polyline points="196.2,830.08 344.9,919.8 494.2,677.23 643.2,735.14" stroke="#55ff07"/><polyline points="196.2,831.39 344.9,914.83 494.2,638.42 643.2,777.04" stroke="#55ff07"/><polyline points="196.2,828.26 344.9,859.16 494.2,624.98 643.2,793.26" stroke="#55ff07"/><polyline points="196.2,867.56 344.9,871.5 494.2,685.47 643.2,726.41" stroke="#54ff07"/><polyline points="196.2,903.6 344.9,819.63 494.2,641.51 643.2,777.74" stroke="#54ff07"/><polyline points="196.2,834.06 344.9,914.13 494.2,714.55 643.2,693.81" stroke="#53ff07"/><polyline points="196.2,887.84 344.9,844.66 494.2,639.59 643.2,779.16" stroke="#53ff07"/><polyline points="196.2,830.79 344.9,857.35 494.2,686.63 643.2,725.12" stroke="#52ff07"/><polyline points="196.2,893.98 344.9,828.03 494.2,667.03 643.2,747.49" stroke="#52ff07"/><polyline points="196.2,861.56 344.9,834.77 494.2,719.89 643.2,688.45" stroke="#52ff06"/><polyline points="196.2,908.9 344.9,804.79 494.2,712.19 643.2,697.54" stroke="#52ff06"/><polyline points="196.2,847.29 344.9,833.97 494.2,627.91 643.2,789.66" stroke="#52ff06"/><polyline points="196.2,929.86 344.9,785.14 494.2,735.31 643.2,675.45" stroke="#51ff06"/><polyline points="196.2,841.79 344.9,841.91 494.2,635.73 643.2,780.93" stroke="#51ff06"/><polyline points="196.2,863.66 344.9,868.01 494.2,698.83 643.2,713.8" stroke="#51ff06"/><polyline points="196.2,927.95 344.9,786.38 494.2,718.03 643.2,689.23" stroke="#50ff06"/><polyline points="196.2,841 344.9,905.06 494.2,669.48 643.2,737.69" stroke="#50ff06"/><polyline points="196.2,888.46 344.9,840.03 494.2,721.6 643.2,689.29" stroke="#4fff06"/><polyline points="196.2,829.85 344.9,834.63 494.2,730.5 643.2,676.47" stroke="#4fff06"/><polyline points="196.2,857.14 344.9,879.96 494.2,663.35 643.2,749.79" stroke="#4fff06"/><polyline points="196.2,822.43 344.9,836.41 494.2,693.37 643.2,717.25" stroke="#4eff06"/><polyline points="196.2,898.58 344.9,824.72 494.2,717.5 643.2,686.67" stroke="#4eff05"/><polyline points="196.2,885.72 344.9,840.46 494.2,720.98 643.2,683.35" stroke="#4dff05"/><polyline points="196.2,925.88 344.9,791.35 494.2,684.35 643.2,726.91" stroke="#4dff05"/><polyline points="196.2,859.85 344.9,883.59 494.2,693.42 643.2,713.91" stroke="#4cff05"/><polyline points="196.2,909.57 344.9,812.58 494.2,709.73 643.2,697.24" stroke="#4cff05"/><polyline points="196.2,906.24 344.9,821.38 494.2,677.07 643.2,735.28" stroke="#4bff05"/><polyline points="196.2,838.41 344.9,909.93 494.2,707.09 643.2,702.77" stroke="#4bff05"/><polyline points="196.2,921.76 344.9,796.91 494.2,676.5 643.2,737.56" stroke="#4bff05"/><polyline points="196.2,854.23 344.9,887.5 494.2,674.13 643.2,734.9" stroke="#4bff05"/><polyline points="196.2,894.67 344.9,828.38 494.2,712.41 643.2,699.78" stroke="#4bff05"/><polyline points="196.2,848.05 344.9,847.67 494.2,612.16 643.2,805.8" stroke="#4bff05"/><polyline points="196.2,848.29 344.9,893.5 494.2,666.11 643.2,746.66" stroke="#4bff05"/><polyline points="196.2,858.55 344.9,880.49 494.2,705.74 643.2,701.64" stroke="#4bff05"/><polyline points="196.2,853.66 344.9,881.52 494.2,710.62 643.2,697.61" stroke="#4bff05"/><polyline points="196.2,829.52 344.9,861.86 494.2,628.28 643.2,787.94" stroke="#4bff05"/><polyline points="196.2,889.92 344.9,840.58 494.2,713.87 643.2,699.26" stroke="#4bff05"/><polyline points="196.2,844.23 344.9,903.76 494.2,619.41 643.2,801.88" stroke="#4bff05"/><polyline points="196.2,823.27 344.9,835.08 494.2,623.52 643.2,792.98" stroke="#4bff05"/><polyline points="196.2,919.62 344.9,798.42 494.2,697.27 643.2,713.06" stroke="#4bff05"/><polyline points="196.2,931.47 344.9,776.79 494.2,724.97 643.2,684.44" stroke="#4bff05"/><polyline points="196.2,901.3 344.9,823.69 494.2,719.6 643.2,689.59" stroke="#4bff05"/><polyline points="196.2,832.53 344.9,921.18 494.2,676.71 643.2,733.18" stroke="#4bff05"/><polyline points="196.2,861.13 344.9,862.03 494.2,673.14 643.2,738.26" stroke="#4bff05"/><polyline points="196.2,830.01 344.9,917.62 494.2,713.84 643.2,694.6" stroke="#4bff05"/><polyline points="196.2,861.18 344.9,873.12 494.2,654.34 643.2,757.4" stroke="#4bff05"/><polyline points="196.2,895.45 344.9,832.68 494.2,661.13 643.2,751.01" stroke="#4bff05"/><polyline points="196.2,839.97 344.9,849 494.2,637.83 643.2,776.8" stroke="#4bff05"/><polyline points="196.2,833.59 344.9,915.91 494.2,647.27 643.2,772.01" stroke="#4bff05"/><polyline points="196.2,894.98 344.9,830.93 494.2,678.69 643.2,735.06" stroke="#4bff05"/><polyline points="196.2,891.46 344.9,836.54 494.2,710.16 643.2,696.68" stroke="#4bff05"/><polyline points="196.2,837.25 344.9,909.1 494.2,675.61 643.2,735.85" stroke="#4bff05"/><polyline points="196.2,866.4 344.9,872.72 494.2,708.53 643.2,704.58" stroke="#4bff05"/><polyline points="196.2,847.83 344.9,838.53 494.2,696.82 643.2,711.77" stroke="#4bff05"/><polyline points="196.2,872.9 344.9,862.03 494.2,701.28 643.2,708.98" stroke="#4bff05"/><polyline points="196.2,865 344.9,871.95 494.2,678.48 643.2,729.48" stroke="#4bff05"/><polyline points="196.2,913.8 344.9,801.6 494.2,686.03 643.2,727.08" stroke="#4bff05"/><polyline points="196.2,933.11 344.9,780.27 494.2,721.35 643.2,690.17" stroke="#4bff05"/><polyline points="196.2,931.21 344.9,781.54 494.2,720.09 643.2,687.71" stroke="#4bff05"/><polyline points="196.2,911.88 344.9,813.27 494.2,643.79 643.2,767.79" stroke="#4bff05"/><polyline points="196.2,847.3 344.9,900.69 494.2,621.85 643.2,795.9" stroke="#4bff05"/><polyline points="196.2,856.41 344.9,843.33 494.2,750.44 643.2,652.64" stroke="#4bff05"/><polyline points="196.2,828.85 344.9,924.42 494.2,712.11 643.2,695.57" stroke="#4bff06"/><polyline points="196.2,853.67 344.9,890.31 494.2,668.97 643.2,741.93" stroke="#4bff06"/><polyline points="196.2,850.15 344.9,834.51 494.2,713.9 643.2,692.55" stroke="#4bff06"/><polyline points="196.2,895.88 344.9,830.01 494.2,701.6 643.2,701.04" stroke="#4bff06"/><polyline points="196.2,829.81 344.9,849.17 494.2,749.21 643.2,653.8" stroke="#4bff06"/><polyline points="196.2,843.02 344.9,831.98 494.2,724.98 643.2,680.31" stroke="#4bff06"/><polyline points="196.2,868.75 344.9,871.07 494.2,647.78 643.2,766.58" stroke="#4bff06"/><polyline points="196.2,865.68 344.9,872.12 494.2,667.02 643.2,744.1" stroke="#4bff06"/><polyline points="196.2,832.04 344.9,918.24 494.2,652.64 643.2,758.2" stroke="#4bff06"/><polyline points="196.2,907.63 344.9,814.46 494.2,700.1 643.2,705.12" stroke="#4bff06"/><polyline points="196.2,884.83 344.9,844.08 494.2,670.54 643.2,737.48" stroke="#4bff06"/><polyline points="196.2,838.56 344.9,912.01 494.2,695.01 643.2,712.87" stroke="#4bff06"/><polyline points="196.2,888.85 344.9,844.43 494.2,667.31 643.2,742.99" stroke="#4bff06"/><polyline points="196.2,908.8 344.9,809.19 494.2,690.95 643.2,717.74" stroke="#4bff06"/><polyline points="196.2,880.76 344.9,852.61 494.2,692.46 643.2,710.67" stroke="#4bff06"/><polyline points="196.2,850.49 344.9,855.28 494.2,752.32 643.2,649.9" stroke="#4bff06"/><polyline points="196.2,917 344.9,798.48 494.2,699 643.2,705.45" stroke="#4bff06"/><polyline points="196.2,839.17 344.9,848.77 494.2,613.38 643.2,801.86" stroke="#4bff06"/><polyline points="196.2,882.78 344.9,850.3 494.2,698.75 643.2,705.6" stroke="#4bff06"/><polyline points="196.2,902.91 344.9,821.93 494.2,732.6 643.2,674" stroke="#4bff06"/><polyline points="196.2,897.09 344.9,826.17 494.2,679.58 643.2,729.5" stroke="#4bff06"/><polyline points="196.2,825.06 344.9,866.74 494.2,706.04 643.2,700.32" stroke="#4bff06"/><polyline points="196.2,862.25 344.9,874.86 494.2,678.08 643.2,733.22" stroke="#4bff06"/><polyline points="196.2,851.36 344.9,896.6 494.2,650.2 643.2,758.46" stroke="#4bff06"/><polyline points="196.2,856.47 344.9,885.24 494.2,679.52 643.2,733.64" stroke="#4bff06"/><polyline points="196.2,860.85 344.9,876.69 494.2,649.2 643.2,761.45" stroke="#4bff06"/><polyline points="196.2,859.32 344.9,853 494.2,728.49 643.2,675.53" stroke="#4bff06"/><polyline points="196.2,915.51 344.9,805.51 494.2,693.38 643.2,717.48" stroke="#4bff06"/><polyline points="196.2,933.71 344.9,780.9 494.2,731.66 643.2,674.93" stroke="#4bff06"/><polyline points="196.2,838.5 344.9,907.99 494.2,701.98 643.2,702.43" stroke="#4bff06"/><polyline points="196.2,927.92 344.9,789.25 494.2,650.22 643.2,756.16" stroke="#4bff06"/><polyline points="196.2,899.77 344.9,826.04 494.2,690.17 643.2,716.16" stroke="#4bff06"/><polyline points="196.2,870.84 344.9,864.26 494.2,674.69 643.2,731.73" stroke="#4bff06"/><polyline points="196.2,823.57 344.9,854.69 494.2,617.28 643.2,796.64" stroke="#4bff06"/><polyline points="196.2,857.48 344.9,886.43 494.2,700.24 643.2,708.59" stroke="#4bff06"/><polyline points="196.2,859.96 344.9,840.59 494.2,731.54 643.2,671.78" stroke="#4bff06"/><polyline points="196.2,851.63 344.9,890.62 494.2,624.44 643.2,784.4" stroke="#4bff07"/><polyline points="196.2,892.53 344.9,827.94 494.2,700.26 643.2,700.35" stroke="#4bff07"/><polyline points="196.2,871.43 344.9,863.84 494.2,685.04 643.2,722.09" stroke="#4bff07"/><polyline points="196.2,836.6 344.9,910.23 494.2,653.44 643.2,754.85" stroke="#4bff07"/><polyline points="196.2,896.7 344.9,828.06 494.2,676.51 643.2,726.59" stroke="#4bff07"/><polyline points="196.2,843.03 344.9,842.68 494.2,622.25 643.2,790.83" stroke="#4bff07"/><polyline points="196.2,822.3 344.9,835.73 494.2,682.62 643.2,724.89" stroke="#4bff07"/><polyline points="196.2,879.46 344.9,854.17 494.2,671.3 643.2,738.49" stroke="#4bff07"/><polyline points="196.2,933.8 344.9,777.66 494.2,734.07 643.2,673.37" stroke="#4bff07"/><polyline points="196.2,845.05 344.9,895.91 494.2,672.93 643.2,732.25" stroke="#4bff07"/><polyline points="196.2,871.01 344.9,863.39 494.2,638.38 643.2,772.8" stroke="#4bff07"/><polyline points="196.2,840.81 344.9,911.6 494.2,617.33 643.2,791.65" stroke="#4bff07"/><polyline points="196.2,852.52 344.9,888.87 494.2,622.48 643.2,789.12" stroke="#4bff07"/><polyline points="196.2,877.61 344.9,853.86 494.2,672.97 643.2,733.07" stroke="#4bff07"/><polyline points="196.2,867.01 344.9,870.71 494.2,716.14 643.2,684.54" stroke="#4bff07"/><polyline points="196.2,929.61 344.9,784.15 494.2,726.46 643.2,674.55" stroke="#4bff07"/><polyline points="196.2,914.46 344.9,804.68 494.2,664.66 643.2,741.12" stroke="#4bff07"/><polyline points="196.2,846.68 344.9,848.99 494.2,727.22 643.2,675.65" stroke="#4bff07"/><polyline points="196.2,895.95 344.9,836.63 494.2,681.98 643.2,723.37" stroke="#4bff07"/><polyline points="196.2,865.72 344.9,828.86 494.2,718.6 643.2,684.98" stroke="#4bff07"/><polyline points="196.2,874.26 344.9,855.16 494.2,684.51 643.2,722.32" stroke="#4bff07"/><polyline points="196.2,838.87 344.9,909.78 494.2,671.51 643.2,734.21" stroke="#4bff07"/><polyline points="196.2,912.84 344.9,809.64 494.2,724.63 643.2,673.81" stroke="#4bff07"/><polyline points="196.2,871.95 344.9,865.17 494.2,631.84 643.2,776.79" stroke="#4bff07"/><polyline points="196.2,853.45 344.9,833.24 494.2,721.51 643.2,681.57" stroke="#4bff07"/><polyline points="196.2,895.57 344.9,833.71 494.2,663.69 643.2,749.75" stroke="#4bff07"/><polyline points="196.2,902.59 344.9,823.25 494.2,715.1 643.2,684.7" stroke="#4bff07"/><polyline points="196.2,871.24 344.9,862.7 494.2,650.59 643.2,757.47" stroke="#4bff07"/><polyline points="196.2,856.41 344.9,882.09 494.2,699.37 643.2,705.26" stroke="#4bff07"/><polyline points="196.2,912.42 344.9,804.12 494.2,655.19 643.2,755.16" stroke="#4bff07"/><polyline points="196.2,922.98 344.9,789.99 494.2,697.83 643.2,708.81" stroke="#4bff07"/><polyline points="196.2,932.52 344.9,775.5 494.2,681.79 643.2,722.88" stroke="#4bff07"/><polyline points="196.2,910.94 344.9,810.11 494.2,718.83 643.2,685.85" stroke="#4bff08"/><polyline points="196.2,861.72 344.9,875.22 494.2,636.28 643.2,768.37" stroke="#4bff08"/><polyline points="196.2,932.85 344.9,784.65 494.2,718.35 643.2,687.1" stroke="#4bff08"/><polyline points="196.2,860.88 344.9,878.77 494.2,710.39 643.2,689.67" stroke="#4bff08"/><polyline points="196.2,904.11 344.9,811.09 494.2,710.65 643.2,699.5" stroke="#4bff08"/><polyline points="196.2,909.36 344.9,812.03 494.2,645.26 643.2,770.04" stroke="#4bff08"/><polyline points="196.2,843.34 344.9,901.84 494.2,644.5 643.2,769.23" stroke="#4bff08"/><polyline points="196.2,867.62 344.9,868.88 494.2,654.09 643.2,756.05" stroke="#4bff08"/><polyline points="196.2,868.04 344.9,866.12 494.2,699.63 643.2,707.68" stroke="#4bff08"/><polyline points="196.2,930.29 344.9,782.43 494.2,698.96 643.2,698.85" stroke="#4bff08"/><polyline points="196.2,812.34 344.9,854.3 494.2,695.89 643.2,708.48" stroke="#4bff08"/><polyline points="196.2,854.81 344.9,889.21 494.2,676.13 643.2,729.42" stroke="#4bff08"/><polyline points="196.2,837.54 344.9,907.52 494.2,700.17 643.2,703.83" stroke="#4bff08"/><polyline points="196.2,899.33 344.9,820.62 494.2,719.48 643.2,675.48" stroke="#4bff08"/><polyline points="196.2,858.84 344.9,883.76 494.2,695.94 643.2,707.45" stroke="#4bff08"/><polyline points="196.2,888.38 344.9,844.59 494.2,639.45 643.2,768.97" stroke="#4bff08"/><polyline points="196.2,849.15 344.9,861.35 494.2,674.33 643.2,731.6" stroke="#4bff08"/><polyline points="196.2,912.6 344.9,805.19 494.2,650.31 643.2,755.05" stroke="#4bff08"/><polyline points="196.2,871.35 344.9,866.94 494.2,722.5 643.2,683.2" stroke="#4bff08"/><polyline points="196.2,889.4 344.9,832.25 494.2,719.89 643.2,681.14" stroke="#4bff08"/><polyline points="196.2,909.25 344.9,813.4 494.2,728.73 643.2,675.93" stroke="#4bff08"/><polyline points="196.2,911.51 344.9,807.87 494.2,722.42 643.2,680.32" stroke="#4bff08"/><polyline points="196.2,891.49 344.9,837.63 494.2,722.06 643.2,680.55" stroke="#4bff08"/><polyline points="196.2,876.57 344.9,852.04 494.2,671.21 643.2,731.42" stroke="#4bff08"/><polyline points="196.2,872.04 344.9,862.24 494.2,724.37 643.2,676.63" stroke="#4bff08"/><polyline points="196.2,856.78 344.9,881.17 494.2,718.52 643.2,687.22" stroke="#4bff08"/><polyline points="196.2,833.33 344.9,917.69 494.2,692.03 643.2,717.44" stroke="#4bff08"/><polyline points="196.2,836.2 344.9,841.2 494.2,694.44 643.2,709.12" stroke="#4bff08"/><polyline points="196.2,841.64 344.9,904.75 494.2,678.17 643.2,731.96" stroke="#4bff08"/><polyline points="196.2,813.95 344.9,840.02 494.2,665.11 643.2,740.93" stroke="#4bff08"/><polyline points="196.2,927.66 344.9,787.49 494.2,737.6 643.2,657.35" stroke="#4bff08"/><polyline points="196.2,909.22 344.9,811.79 494.2,729.11 643.2,671.02" stroke="#4bff09"/><polyline points="196.2,849.45 344.9,832.12 494.2,739.28 643.2,660.33" stroke="#4bff09"/><polyline points="196.2,873.82 344.9,862.25 494.2,720.08 643.2,677.58" stroke="#4bff09"/><polyline points="196.2,908.48 344.9,810.38 494.2,683.98 643.2,715.48" stroke="#4bff09"/><polyline points="196.2,830.55 344.9,855.81 494.2,686.21 643.2,717.76" stroke="#4bff09"/><polyline points="196.2,853.95 344.9,885.58 494.2,712.28 643.2,684.65" stroke="#4bff09"/><polyline points="196.2,917.52 344.9,796.71 494.2,729.67 643.2,668.47" stroke="#4bff09"/><polyline points="196.2,901.4 344.9,823.8 494.2,736.01 643.2,665.5" stroke="#4bff09"/><polyline points="196.2,925.1 344.9,794.25 494.2,666.37 643.2,741.88" stroke="#4bff09"/><polyline points="196.2,815.36 344.9,853.98 494.2,621.03 643.2,788.16" stroke="#4bff09"/><polyline points="196.2,931.24 344.9,786.03 494.2,658.87 643.2,751.21" stroke="#4bff09"/><polyline points="196.2,928.26 344.9,782.98 494.2,695.27 643.2,708" stroke="#4bff09"/><polyline points="196.2,864.43 344.9,828.93 494.2,743.79 643.2,655.02" stroke="#4bff09"/><polyline points="196.2,840.52 344.9,911.04 494.2,621.51 643.2,792.99" stroke="#4bff09"/><polyline points="196.2,904.55 344.9,815.68 494.2,720.63 643.2,679.78" stroke="#4bff09"/><polyline points="196.2,855.21 344.9,842.81 494.2,729.88 643.2,669.95" stroke="#4bff09"/><polyline points="196.2,904.95 344.9,816.69 494.2,659.31 643.2,748.79" stroke="#4bff09"/><polyline points="196.2,852.73 344.9,864.49 494.2,633.48 643.2,774.33" stroke="#4bff09"/><polyline points="196.2,901.67 344.9,817.12 494.2,723.6 643.2,676.78" stroke="#4bff09"/><polyline points="196.2,816.52 344.9,867.14 494.2,629.62 643.2,778.45" stroke="#4bff09"/><polyline points="196.2,883.15 344.9,851 494.2,684.18 643.2,719.49" stroke="#4bff09"/><polyline points="196.2,868.99 344.9,869.66 494.2,709.4 643.2,692.82" stroke="#4bff09"/><polyline points="196.2,842.56 344.9,907.37 494.2,664.24 643.2,741.19" stroke="#4bff09"/><polyline points="196.2,859.8 344.9,873.8 494.2,667.17 643.2,738.81" stroke="#4bff09"/><polyline points="196.2,916.63 344.9,798.38 494.2,740.66 643.2,657.04" stroke="#4bff09"/><polyline points="196.2,896.07 344.9,830.14 494.2,707.01 643.2,696.97" stroke="#4bff09"/><polyline points="196.2,841 344.9,905.37 494.2,709.59 643.2,694.42" stroke="#4bff09"/><polyline points="196.2,919.28 344.9,790.01 494.2,742.49 643.2,659.37" stroke="#4bff09"/><polyline points="196.2,853.74 344.9,847.51 494.2,719.99 643.2,680.12" stroke="#4bff09"/><polyline points="196.2,852 344.9,837.54 494.2,698.24 643.2,703.64" stroke="#4bff09"/><polyline points="196.2,929.31 344.9,785.49 494.2,732.26 643.2,670.49" stroke="#4bff09"/><polyline points="196.2,845.05 344.9,897.69 494.2,696.1 643.2,713.29" stroke="#4bff09"/><polyline points="196.2,862.49 344.9,874.96 494.2,643.68 643.2,765.4" stroke="#4bff09"/><polyline points="196.2,833.27 344.9,918.26 494.2,642.41 643.2,763.94" stroke="#4bff09"/><polyline points="196.2,932.44 344.9,777.77 494.2,658.06 643.2,748.55" stroke="#4bff09"/><polyline points="196.2,883.24 344.9,846.49 494.2,684.66 643.2,715.46" stroke="#4bff09"/><polyline points="196.2,880.1 344.9,851.82 494.2,724.97 643.2,673.34" stroke="#4bff0a"/><polyline points="196.2,894.03 344.9,832.66 494.2,681.56 643.2,723.95" stroke="#4bff0a"/><polyline points="196.2,844.85 344.9,857.86 494.2,666.17 643.2,737.81" stroke="#4bff0a"/><polyline points="196.2,828.4 344.9,866.34 494.2,681.29 643.2,721.47" stroke="#4bff0a"/><polyline points="196.2,835.8 344.9,840.24 494.2,720.83 643.2,678.73" stroke="#4bff0a"/><polyline points="196.2,839.5 344.9,905.04 494.2,666.17 643.2,733.79" stroke="#4bff0a"/><polyline points="196.2,882.8 344.9,849.56 494.2,729.31 643.2,671.47" stroke="#4bff0a"/><polyline points="196.2,853.17 344.9,889.3 494.2,695.65 643.2,706.02" stroke="#4bff0a"/><polyline points="196.2,867.6 344.9,873.12 494.2,688.84 643.2,710.12" stroke="#4bff0a"/><polyline points="196.2,881.77 344.9,851.99 494.2,726.13 643.2,672.12" stroke="#4bff0a"/><polyline points="196.2,932.74 344.9,770.9 494.2,703.15 643.2,701.76" stroke="#4bff0a"/><polyline points="196.2,884.21 344.9,844.82 494.2,711.38 643.2,690.06" stroke="#4bff0a"/><polyline points="196.2,923.31 344.9,787.15 494.2,672.95 643.2,730.29" stroke="#4bff0a"/><polyline points="196.2,902.9 344.9,817.11 494.2,735.12 643.2,658.51" stroke="#4bff0a"/><polyline points="196.2,814.32 344.9,840.63 494.2,694.08 643.2,707.07" stroke="#4bff0a"/><polyline points="196.2,869.98 344.9,866.29 494.2,633.53 643.2,778.89" stroke="#4bff0a"/><polyline points="196.2,881.84 344.9,850.18 494.2,698.84 643.2,699.28" stroke="#4bff0a"/><polyline points="196.2,871.95 344.9,858.68 494.2,690.14 643.2,711.11" stroke="#4bff0a"/><polyline points="196.2,818.93 344.9,858.03 494.2,655.3 643.2,748.74" stroke="#4bff0a"/><polyline points="196.2,843.61 344.9,900.08 494.2,665.56 643.2,739.13" stroke="#4bff0a"/><polyline points="196.2,907.31 344.9,816.03 494.2,657.41 643.2,748.16" stroke="#4bff0a"/><polyline points="196.2,885.48 344.9,844.29 494.2,655.24 643.2,749.63" stroke="#4bff0a"/><polyline points="196.2,884.28 344.9,844.32 494.2,691 643.2,711.59" stroke="#4bff0a"/><polyline points="196.2,851.9 344.9,886.18 494.2,717.09 643.2,678.9" stroke="#4bff0a"/><polyline points="196.2,882.95 344.9,851.36 494.2,646.01 643.2,760.82" stroke="#4bff0a"/><polyline points="196.2,874.83 344.9,860.12 494.2,711.18 643.2,686.64" stroke="#4bff0a"/><polyline points="196.2,838.41 344.9,854.25 494.2,634.92 643.2,770.24" stroke="#4bff0a"/><polyline points="196.2,843.66 344.9,858.57 494.2,622.39 643.2,783.74" stroke="#4bff0a"/><polyline points="196.2,873.86 344.9,857.63 494.2,687.75 643.2,712.68" stroke="#4bff0a"/><polyline points="196.2,926.27 344.9,786.81 494.2,659.75 643.2,743.22" stroke="#4bff0a"/><polyline points="196.2,875.61 344.9,858.84 494.2,641.31 643.2,762.63" stroke="#4bff0a"/><polyline points="196.2,865.34 344.9,870.01 494.2,687.6 643.2,706.91" stroke="#4bff0a"/><polyline points="196.2,825.11 344.9,836.72 494.2,658.12 643.2,744.97" stroke="#4bff0a"/><polyline points="196.2,915.89 344.9,803.04 494.2,714.74 643.2,681.78" stroke="#4bff0a"/><polyline points="196.2,904.81 344.9,816.31 494.2,680.56 643.2,724.34" stroke="#4bff0a"/><polyline points="196.2,867.74 344.9,871.89 494.2,660.2 643.2,745.85" stroke="#4bff0b"/><polyline points="196.2,824.58 344.9,842.01 494.2,628.84 643.2,776.33" stroke="#4bff0b"/><polyline points="196.2,888.58 344.9,840.95 494.2,709.36 643.2,688.46" stroke="#4bff0b"/><polyline points="196.2,914.75 344.9,805.13 494.2,671.86 643.2,734.14" stroke="#4bff0b"/><polyline points="196.2,820.75 344.9,862.09 494.2,733.51 643.2,663.48" stroke="#4bff0b"/><polyline points="196.2,844.35 344.9,904.18 494.2,629.34 643.2,778.84" stroke="#4bff0b"/><polyline points="196.2,855.6 344.9,885.47 494.2,716 643.2,685.29" stroke="#4bff0b"/><polyline points="196.2,857.75 344.9,879.46 494.2,664.72 643.2,734.2" stroke="#4bff0b"/><polyline points="196.2,906.49 344.9,816.42 494.2,724 643.2,673.63" stroke="#4bff0b"/><polyline points="196.2,896.68 344.9,829.75 494.2,671.99 643.2,729.98" stroke="#4bff0b"/><polyline points="196.2,892.79 344.9,833.26 494.2,665.77 643.2,739.8" stroke="#4bff0b"/><polyline points="196.2,873.92 344.9,857.35 494.2,680.08 643.2,723.13" stroke="#4bff0b"/><polyline points="196.2,853.91 344.9,887.61 494.2,636.83 643.2,769.2" stroke="#4bff0b"/><polyline points="196.2,922.22 344.9,788.55 494.2,675.84 643.2,722.05" stroke="#4bff0b"/><polyline points="196.2,835.9 344.9,834.9 494.2,733.69 643.2,662.8" stroke="#4bff0b"/><polyline points="196.2,852.65 344.9,890.9 494.2,628.61 643.2,779.42" stroke="#4bff0b"/><polyline points="196.2,841.82 344.9,842.06 494.2,648.35 643.2,754.46" stroke="#4bff0b"/><polyline points="196.2,845.41 344.9,892.09 494.2,688.39 643.2,714.05" stroke="#4bff0b"/><polyline points="196.2,835.7 344.9,910.33 494.2,638.68 643.2,767.04" stroke="#4bff0b"/><polyline points="196.2,841.7 344.9,909.43 494.2,636.36 643.2,774.53" stroke="#4bff0b"/><polyline points="196.2,858.99 344.9,878.44 494.2,668.47 643.2,731.29" stroke="#4bff0b"/><polyline points="196.2,909.73 344.9,811.26 494.2,726.59 643.2,672.14" stroke="#4bff0b"/><polyline points="196.2,891.31 344.9,839.41 494.2,704.97 643.2,696.07" stroke="#4bff0b"/><polyline points="196.2,897.9 344.9,827.13 494.2,677.55 643.2,725.73" stroke="#4bff0b"/><polyline points="196.2,883.65 344.9,848.26 494.2,727.9 643.2,667.79" stroke="#4bff0b"/><polyline points="196.2,905.53 344.9,818.26 494.2,733.91 643.2,661.44" stroke="#4bff0b"/><polyline points="196.2,926.41 344.9,786.65 494.2,683.79 643.2,711.67" stroke="#4bff0b"/><polyline points="196.2,859.14 344.9,864.91 494.2,661.94 643.2,739.23" stroke="#4bff0b"/><polyline points="196.2,880.38 344.9,854.95 494.2,643.92 643.2,756.52" stroke="#4bff0b"/><polyline points="196.2,926.86 344.9,785.21 494.2,705.64 643.2,699.01" stroke="#4bff0b"/><polyline points="196.2,836.7 344.9,902.97 494.2,704.61 643.2,695.46" stroke="#4bff0b"/><polyline points="196.2,917.09 344.9,798.98 494.2,655.18 643.2,745.48" stroke="#4bff0b"/><polyline points="196.2,818.87 344.9,845.77 494.2,730.59 643.2,665.32" stroke="#4bff0b"/><polyline points="196.2,875.5 344.9,862.26 494.2,638.35 643.2,764.13" stroke="#4bff0c"/><polyline points="196.2,900.59 344.9,820.75 494.2,704.69 643.2,689.02" stroke="#4bff0c"/><polyline points="196.2,896.72 344.9,835.21 494.2,651.83 643.2,749.51" stroke="#4bff0c"/><polyline points="196.2,921.15 344.9,799.47 494.2,713.35 643.2,684.8" stroke="#4bff0c"/><polyline points="196.2,868.34 344.9,867.92 494.2,714.29 643.2,681.42" stroke="#4bff0c"/><polyline points="196.2,890.72 344.9,839.47 494.2,708.16 643.2,689.06" stroke="#4bff0c"/><polyline points="196.2,902.23 344.9,815.94 494.2,656.74 643.2,745.23" stroke="#4bff0c"/><polyline points="196.2,867.22 344.9,873.64 494.2,665.02 643.2,737.74" stroke="#4bff0c"/><polyline points="196.2,829.07 344.9,855.22 494.2,732.6 643.2,662.73" stroke="#4bff0c"/><polyline points="196.2,861.73 344.9,848.65 494.2,689.94 643.2,708.41" stroke="#4bff0c"/><polyline points="196.2,847.28 344.9,896.07 494.2,649.44 643.2,749.43" stroke="#4bff0c"/><polyline points="196.2,924.49 344.9,790.64 494.2,663.81 643.2,737.75" stroke="#4bff0c"/><polyline points="196.2,864.21 344.9,871.5 494.2,712.95 643.2,678.11" stroke="#4bff0c"/><polyline points="196.2,858.75 344.9,880.45 494.2,636.72 643.2,770.99" stroke="#4bff0c"/><polyline points="196.2,855.92 344.9,884.64 494.2,663.7 643.2,740.3" stroke="#4bff0c"/><polyline points="196.2,841.8 344.9,841.64 494.2,629.48 643.2,772.84" stroke="#4bff0c"/><polyline points="196.2,899.09 344.9,824.2 494.2,670.44 643.2,724.59" stroke="#4bff0c"/><polyline points="196.2,861.12 344.9,834.78 494.2,709.55 643.2,687.06" stroke="#4bff0c"/><polyline points="196.2,932.53 344.9,775.88 494.2,672.31 643.2,729.09" stroke="#4bff0c"/><polyline points="196.2,829.47 344.9,843.48 494.2,648.59 643.2,752.23" stroke="#4bff0c"/><polyline points="196.2,900.25 344.9,827.45 494.2,679.78 643.2,717" stroke="#4bff0c"/><polyline points="196.2,840.69 344.9,863.14 494.2,648.95 643.2,751.82" stroke="#4bff0c"/><polyline points="196.2,854.23 344.9,885.79 494.2,702.74 643.2,686" stroke="#4bff0c"/><polyline points="196.2,898.18 344.9,825.08 494.2,701.95 643.2,699.36" stroke="#4bff0c"/><polyline points="196.2,841.23 344.9,904.93 494.2,625.32 643.2,778.58" stroke="#4bff0c"/><polyline points="196.2,853.58 344.9,836.22 494.2,736.04 643.2,658.44" stroke="#4bff0c"/><polyline points="196.2,847.61 344.9,901.24 494.2,677.48 643.2,719.41" stroke="#4bff0c"/><polyline points="196.2,890.36 344.9,833.64 494.2,699.06 643.2,697.42" stroke="#4bff0c"/><polyline points="196.2,848.17 344.9,896.06 494.2,669.31 643.2,728.3" stroke="#4bff0c"/><polyline points="196.2,847.52 344.9,898.1 494.2,711.2 643.2,683.26" stroke="#4bff0c"/><polyline points="196.2,916.96 344.9,801.61 494.2,709.88 643.2,690.06" stroke="#4bff0c"/><polyline points="196.2,867.02 344.9,873.13 494.2,696.91 643.2,701.88" stroke="#4bff0c"/><polyline points="196.2,877.81 344.9,855.18 494.2,697.12 643.2,700.75" stroke="#4bff0c"/><polyline points="196.2,903 344.9,820.62 494.2,715.55 643.2,680.7" stroke="#4bff0c"/><polyline points="196.2,846.23 344.9,894.48 494.2,690.21 643.2,710.62" stroke="#4bff0c"/><polyline points="196.2,845.45 344.9,898.86 494.2,703.94 643.2,694.49" stroke="#4bff0d"/><polyline points="196.2,862.43 344.9,877.89 494.2,641.59 643.2,757.89" stroke="#4bff0d"/><polyline points="196.2,836.37 344.9,843.54 494.2,688.97 643.2,708.13" stroke="#4bff0d"/><polyline points="196.2,853.43 344.9,888.69 494.2,703.27 643.2,691.23" stroke="#4bff0d"/><polyline points="196.2,864.97 344.9,846.81 494.2,669.81 643.2,728.49" stroke="#4bff0d"/><polyline points="196.2,843.57 344.9,903.49 494.2,676.46 643.2,721.51" stroke="#4bff0d"/><polyline points="196.2,925.92 344.9,794.37 494.2,727.52 643.2,667.41" stroke="#4bff0d"/><polyline points="196.2,827.31 344.9,828.76 494.2,638.52 643.2,761.75" stroke="#4bff0d"/><polyline points="196.2,925.64 344.9,791.5 494.2,654.81 643.2,743.28" stroke="#4bff0d"/><polyline points="196.2,860.07 344.9,880.21 494.2,705.59 643.2,689.96" stroke="#4bff0d"/><polyline points="196.2,876.71 344.9,854.34 494.2,679.8 643.2,716.43" stroke="#4bff0d"/><polyline points="196.2,910.09 344.9,809.6 494.2,654.89 643.2,741.69" stroke="#4bff0d"/><polyline points="196.2,875.08 344.9,859.93 494.2,678.73 643.2,720.33" stroke="#4bff0d"/><polyline points="196.2,867.88 344.9,868.29 494.2,657.51 643.2,735.77" stroke="#4bff0d"/><polyline points="196.2,868.54 344.9,866.91 494.2,662.22 643.2,739.79" stroke="#4bff0d"/><polyline points="196.2,839.41 344.9,904.51 494.2,669.87 643.2,729.05" stroke="#4bff0d"/><polyline points="196.2,864.13 344.9,869.99 494.2,696.33 643.2,698.07" stroke="#4bff0d"/><polyline points="196.2,932.76 344.9,781.07 494.2,682.7 643.2,711.76" stroke="#4bff0d"/><polyline points="196.2,844.7 344.9,906.92 494.2,698.56 643.2,694.7" stroke="#4bff0d"/><polyline points="196.2,842 344.9,846.33 494.2,634.59 643.2,765.19" stroke="#4bff0d"/><polyline points="196.2,853.43 344.9,842.06 494.2,674.36 643.2,722.79" stroke="#4bff0d"/><polyline points="196.2,889.22 344.9,840.87 494.2,688.25 643.2,704.95" stroke="#4bff0d"/><polyline points="196.2,885.52 344.9,843.3 494.2,642.53 643.2,754.02" stroke="#4bff0d"/><polyline points="196.2,883.3 344.9,848.98 494.2,685.39 643.2,711.44" stroke="#4bff0d"/><polyline points="196.2,856.9 344.9,830.2 494.2,629.28 643.2,770.6" stroke="#4bff0d"/><polyline points="196.2,903.23 344.9,821.87 494.2,717.91 643.2,677.21" stroke="#4bff0d"/><polyline points="196.2,860.77 344.9,873.47 494.2,693.5 643.2,700.56" stroke="#4bff0d"/><polyline points="196.2,874.2 344.9,859.16 494.2,699.48 643.2,694.78" stroke="#4bff0d"/><polyline points="196.2,883.17 344.9,842.75 494.2,718.95 643.2,672.62" stroke="#4bff0d"/><polyline points="196.2,916.63 344.9,798.65 494.2,661.36 643.2,737.06" stroke="#4bff0d"/><polyline points="196.2,863.9 344.9,868.04 494.2,708.15 643.2,685.81" stroke="#4bff0d"/><polyline points="196.2,847.23 344.9,896.59 494.2,647.24 643.2,746.63" stroke="#4bff0d"/><polyline points="196.2,888.96 344.9,840.44 494.2,665.02 643.2,736.94" stroke="#4bff0d"/><polyline points="196.2,846.2 344.9,829.19 494.2,623.36 643.2,776.39" stroke="#4bff0d"/><polyline points="196.2,907.49 344.9,813.18 494.2,695.6 643.2,698.61" stroke="#4bff0e"/><polyline points="196.2,849.25 344.9,891.3 494.2,647.22 643.2,747.87" stroke="#4bff0e"/><polyline points="196.2,840.72 344.9,906.28 494.2,649.65 643.2,747.97" stroke="#4bff0e"/><polyline points="196.2,813.28 344.9,841.74 494.2,734.05 643.2,658.47" stroke="#4bff0e"/><polyline points="196.2,887.65 344.9,838.15 494.2,689.89 643.2,707.62" stroke="#4bff0e"/><polyline points="196.2,856.63 344.9,834.7 494.2,673.7 643.2,722.53" stroke="#4bff0e"/><polyline points="196.2,853.75 344.9,888.26 494.2,702.05 643.2,699.88" stroke="#4bff0e"/><polyline points="196.2,858.9 344.9,830.97 494.2,688.05 643.2,707.28" stroke="#4bff0e"/><polyline points="196.2,922.24 344.9,792.39 494.2,668.76 643.2,727.09" stroke="#4bff0e"/><polyline points="196.2,819.51 344.9,848.96 494.2,673.96 643.2,722.15" stroke="#4bff0e"/><polyline points="196.2,925.16 344.9,787.34 494.2,667.55 643.2,736.14" stroke="#4bff0e"/><polyline points="196.2,831.82 344.9,841.91 494.2,681.97 643.2,713.57" stroke="#4bff0e"/><polyline points="196.2,913.14 344.9,801.44 494.2,715.32 643.2,676.4" stroke="#4bff0e"/><polyline points="196.2,855.32 344.9,832.81 494.2,633.85 643.2,764.63" stroke="#4bff0e"/><polyline points="196.2,819.06 344.9,858.82 494.2,700.69 643.2,693.62" stroke="#4bff0e"/><polyline points="196.2,840.16 344.9,903.59 494.2,698.1 643.2,699.71" stroke="#4bff0e"/><polyline points="196.2,845.12 344.9,902.07 494.2,673.14 643.2,716.65" stroke="#4bff0e"/><polyline points="196.2,836.81 344.9,829.48 494.2,662.49 643.2,734.05" stroke="#4bff0e"/><polyline points="196.2,881.47 344.9,852.87 494.2,645.64 643.2,752.91" stroke="#4bff0e"/><polyline points="196.2,858.52 344.9,863.23 494.2,716.96 643.2,676.2" stroke="#4bff0e"/><polyline points="196.2,910.12 344.9,808.35 494.2,654.74 643.2,732.69" stroke="#4bff0e"/><polyline points="196.2,860.06 344.9,843.18 494.2,640.08 643.2,757.75" stroke="#4bff0e"/><polyline points="196.2,819.31 344.9,832.06 494.2,631.29 643.2,767.06" stroke="#4bff0e"/><polyline points="196.2,929.18 344.9,783.55 494.2,668.95 643.2,730.47" stroke="#4bff0e"/><polyline points="196.2,818.89 344.9,849.92 494.2,657.51 643.2,739.16" stroke="#4bff0e"/><polyline points="196.2,922.52 344.9,795.93 494.2,736.62 643.2,657.34" stroke="#4bff0e"/><polyline points="196.2,845.24 344.9,835.16 494.2,638.3 643.2,759.45" stroke="#4bff0e"/><polyline points="196.2,843.43 344.9,906.84 494.2,691.61 643.2,702.09" stroke="#4bff0e"/><polyline points="196.2,874.76 344.9,857.14 494.2,688.99 643.2,704.17" stroke="#4bff0e"/><polyline points="196.2,931.02 344.9,780.86 494.2,698.27 643.2,695.82" stroke="#4bff0e"/><polyline points="196.2,906.13 344.9,819.22 494.2,672.28 643.2,726.55" stroke="#4bff0e"/><polyline points="196.2,852.2 344.9,892.38 494.2,631.5 643.2,764.75" stroke="#4bff0e"/><polyline points="196.2,846.08 344.9,899.9 494.2,674.11 643.2,720.67" stroke="#4bff0e"/><polyline points="196.2,824.6 344.9,843.28 494.2,662.99 643.2,732.86" stroke="#4bff0e"/><polyline points="196.2,855.47 344.9,886.13 494.2,684.55 643.2,710.73" stroke="#4bff0e"/><polyline points="196.2,885.41 344.9,840.13 494.2,672.01 643.2,722.5" stroke="#4bff0e"/><polyline points="196.2,841.78 344.9,898.41 494.2,637 643.2,764.77" stroke="#4bff0e"/><polyline points="196.2,925.02 344.9,793.39 494.2,714.57 643.2,675.78" stroke="#4bff0e"/><polyline points="196.2,866.6 344.9,834.29 494.2,632.44 643.2,765.01" stroke="#4bff0e"/><polyline points="196.2,914.62 344.9,805.95 494.2,703.5 643.2,689.95" stroke="#4bff0e"/><polyline points="196.2,869.75 344.9,868.97 494.2,710.46 643.2,683.94" stroke="#4bff0e"/><polyline points="196.2,858.76 344.9,854.57 494.2,721.26 643.2,670.79" stroke="#4bff0e"/><polyline points="196.2,889.47 344.9,837.39 494.2,666.64 643.2,732.97" stroke="#4bff0e"/><polyline points="196.2,880.46 344.9,849.6 494.2,677.43 643.2,713.9" stroke="#4bff0f"/><polyline points="196.2,910.78 344.9,809.7 494.2,724.07 643.2,667.31" stroke="#4bff0f"/><polyline points="196.2,842.29 344.9,909.01 494.2,649.64 643.2,743.55" stroke="#4bff0f"/><polyline points="196.2,847.37 344.9,850.24 494.2,719.02 643.2,672.97" stroke="#4bff0f"/><polyline points="196.2,925.01 344.9,788.87 494.2,684.2 643.2,713.23" stroke="#4bff0f"/><polyline points="196.2,879.13 344.9,853.13 494.2,660.6 643.2,735.08" stroke="#4bff0f"/><polyline points="196.2,900.37 344.9,823.38 494.2,710.21 643.2,683.03" stroke="#4bff0f"/><polyline points="196.2,894.95 344.9,832.13 494.2,692.2 643.2,704.5" stroke="#4bff0f"/><polyline points="196.2,868.74 344.9,868.63 494.2,715.02 643.2,677.6" stroke="#4bff0f"/><polyline points="196.2,897.53 344.9,828.17 494.2,659.9 643.2,734.93" stroke="#4bff0f"/><polyline points="196.2,830.59 344.9,841.82 494.2,629.28 643.2,767.48" stroke="#4bff0f"/><polyline points="196.2,861.61 344.9,875.01 494.2,703.71 643.2,691.32" stroke="#4bff0f"/><polyline points="196.2,923.65 344.9,791.61 494.2,664.98 643.2,732.81" stroke="#4bff0f"/><polyline points="196.2,867.24 344.9,866.66 494.2,720.03 643.2,671.45" stroke="#4bff0f"/><polyline points="196.2,855.58 344.9,885.5 494.2,702.72 643.2,686.09" stroke="#4bff0f"/><polyline points="196.2,916.43 344.9,799.19 494.2,659.82 643.2,732.98" stroke="#4bff0f"/><polyline points="196.2,883.59 344.9,843.92 494.2,651.25 643.2,744.15" stroke="#4bff0f"/><polyline points="196.2,856.63 344.9,850.84 494.2,664.86 643.2,729.52" stroke="#4bff0f"/><polyline points="196.2,921.45 344.9,792.33 494.2,727.06 643.2,659.78" stroke="#4bff0f"/><polyline points="196.2,812.58 344.9,860.72 494.2,627.05 643.2,769.34" stroke="#4bff0f"/><polyline points="196.2,861.58 344.9,877.19 494.2,686.2 643.2,705.38" stroke="#4bff0f"/><polyline points="196.2,841.76 344.9,901.47 494.2,694.07 643.2,700.99" stroke="#4bff0f"/><polyline points="196.2,890.97 344.9,835.5 494.2,645.76 643.2,749.78" stroke="#4bff0f"/><polyline points="196.2,876.13 344.9,853.84 494.2,662.8 643.2,734.12" stroke="#4bff0f"/><polyline points="196.2,867.96 344.9,872.76 494.2,677.63 643.2,718.45" stroke="#4bff0f"/><polyline points="196.2,889.92 344.9,835.08 494.2,681.97 643.2,708.85" stroke="#4bff0f"/><polyline points="196.2,821.52 344.9,845.21 494.2,689.52 643.2,703.07" stroke="#4bff0f"/><polyline points="196.2,893.6 344.9,830.39 494.2,643.49 643.2,752.64" stroke="#4bff0f"/><polyline points="196.2,901.83 344.9,817.94 494.2,671.21 643.2,722.99" stroke="#4bff0f"/><polyline points="196.2,824.31 344.9,858.45 494.2,712.3 643.2,678.9" stroke="#4bff0f"/><polyline points="196.2,872.68 344.9,859.79 494.2,708.22 643.2,681.86" stroke="#4bff0f"/><polyline points="196.2,871.8 344.9,859.72 494.2,641.13 643.2,752.6" stroke="#4bff0f"/><polyline points="196.2,857.04 344.9,847.66 494.2,653 643.2,741.33" stroke="#4bff0f"/><polyline points="196.2,906.36 344.9,815.9 494.2,653.53 643.2,738.28" stroke="#4bff0f"/><polyline points="196.2,847.19 344.9,837.89 494.2,736.47 643.2,653.3" stroke="#4bff0f"/><polyline points="196.2,897.37 344.9,829.25 494.2,726.33 643.2,664.36" stroke="#4bff0f"/><polyline points="196.2,910.74 344.9,806.68 494.2,695.88 643.2,699.55" stroke="#4bff10"/><polyline points="196.2,876.26 344.9,855.28 494.2,660.63 643.2,732.84" stroke="#4bff10"/><polyline points="196.2,863 344.9,860.31 494.2,694.69 643.2,697.12" stroke="#4bff10"/><polyline points="196.2,921.63 344.9,794.52 494.2,721.49 643.2,669.78" stroke="#4bff10"/><polyline points="196.2,910.99 344.9,806.67 494.2,660.74 643.2,734.39" stroke="#4bff10"/><polyline points="196.2,922.34 344.9,795.94 494.2,693.92 643.2,700.77" stroke="#4bff10"/><polyline points="196.2,844.87 344.9,834.6 494.2,686.63 643.2,705.42" stroke="#4bff10"/><polyline points="196.2,857.99 344.9,881.13 494.2,654.73 643.2,737.59" stroke="#4bff10"/><polyline points="196.2,856.05 344.9,849.92 494.2,736.52 643.2,652.88" stroke="#4bff10"/><polyline points="196.2,902.6 344.9,821.91 494.2,683.37 643.2,708.72" stroke="#4bff10"/><polyline points="196.2,842.93 344.9,901.01 494.2,704.32 643.2,685.03" stroke="#4bff10"/><polyline points="196.2,902.74 344.9,820.65 494.2,674.51 643.2,716.5" stroke="#4bff10"/><polyline points="196.2,853.54 344.9,887.9 494.2,659.24 643.2,731.02" stroke="#4bff10"/><polyline points="196.2,862.53 344.9,872.87 494.2,698.94 643.2,692" stroke="#4bff10"/><polyline points="196.2,884.06 344.9,845.42 494.2,700.46 643.2,692.22" stroke="#4bff10"/><polyline points="196.2,907.29 344.9,815.79 494.2,682.42 643.2,709.77" stroke="#4bff10"/><polyline points="196.2,852.91 344.9,889.02 494.2,643.82 643.2,745.31" stroke="#4bff10"/><polyline points="196.2,925.07 344.9,794.5 494.2,708.94 643.2,680.08" stroke="#4bff10"/><polyline points="196.2,923.07 344.9,793.67 494.2,703.91 643.2,687.68" stroke="#4bff10"/><polyline points="196.2,857.29 344.9,846.03 494.2,646.17 643.2,747.27" stroke="#4bff10"/><polyline points="196.2,869.89 344.9,864.52 494.2,697.88 643.2,691.85" stroke="#4bff10"/><polyline points="196.2,847.52 344.9,902 494.2,647.4 643.2,747.23" stroke="#4bff10"/><polyline points="196.2,886.28 344.9,844.6 494.2,692.32 643.2,693.07" stroke="#4bff10"/><polyline points="196.2,929.16 344.9,781.39 494.2,678.75 643.2,712.28" stroke="#4bff10"/><polyline points="196.2,835.25 344.9,839.64 494.2,678.1 643.2,713.42" stroke="#4bff10"/><polyline points="196.2,867.06 344.9,869.24 494.2,680.9 643.2,710.47" stroke="#4bff10"/><polyline points="196.2,888.9 344.9,840.31 494.2,677.73 643.2,708.94" stroke="#4bff10"/><polyline points="196.2,916.82 344.9,798.12 494.2,724.23 643.2,666.49" stroke="#4bff10"/><polyline points="196.2,929.6 344.9,782.87 494.2,726.74 643.2,660.75" stroke="#4bff10"/><polyline points="196.2,851.01 344.9,847.58 494.2,634.76 643.2,758.62" stroke="#4bff10"/><polyline points="196.2,889.52 344.9,840.42 494.2,645.06 643.2,745.59" stroke="#4bff10"/><polyline points="196.2,895.54 344.9,832.49 494.2,715.93 643.2,675.8" stroke="#4bff10"/><polyline points="196.2,922.29 344.9,795.38 494.2,705.08 643.2,688.29" stroke="#4bff10"/><polyline points="196.2,898.49 344.9,827.51 494.2,724.68 643.2,665.98" stroke="#4bff11"/><polyline points="196.2,904.36 344.9,820.55 494.2,686.29 643.2,703.92" stroke="#4bff11"/><polyline points="196.2,844.35 344.9,900.81 494.2,680.67 643.2,710.58" stroke="#4bff11"/><polyline points="196.2,853.75 344.9,888.45 494.2,656.32 643.2,736.69" stroke="#4bff11"/><polyline points="196.2,842.96 344.9,853.75 494.2,722.51 643.2,666.25" stroke="#4bff11"/><polyline points="196.2,909.37 344.9,809.88 494.2,719.14 643.2,674.7" stroke="#4bff11"/><polyline points="196.2,919.25 344.9,796.47 494.2,654.67 643.2,733.71" stroke="#4bff11"/><polyline points="196.2,849.43 344.9,890.93 494.2,695.76 643.2,695.7" stroke="#4bff11"/><polyline points="196.2,867.54 344.9,869.69 494.2,685.06 643.2,706.54" stroke="#4bff11"/><polyline points="196.2,897.29 344.9,832.43 494.2,677.42 643.2,711.42" stroke="#4bff11"/><polyline points="196.2,917.48 344.9,795.06 494.2,731.1 643.2,655.98" stroke="#4bff11"/><polyline points="196.2,862.95 344.9,831.35 494.2,733.93 643.2,654.02" stroke="#4bff11"/><polyline points="196.2,855.83 344.9,887.61 494.2,650.91 643.2,742.16" stroke="#4bff11"/><polyline points="196.2,850.46 344.9,890.24 494.2,657.03 643.2,734.58" stroke="#4bff11"/><polyline points="196.2,865.61 344.9,874.8 494.2,645.42 643.2,746.68" stroke="#4bff11"/><polyline points="196.2,847.57 344.9,830.85 494.2,653.21 643.2,738.18" stroke="#4bff11"/><polyline points="196.2,870.02 344.9,864.22 494.2,685.43 643.2,702.45" stroke="#4bff11"/><polyline points="196.2,850.5 344.9,893.2 494.2,660.89 643.2,732.17" stroke="#4bff11"/><polyline points="196.2,859.15 344.9,881.55 494.2,673.1 643.2,717.03" stroke="#4bff11"/><polyline points="196.2,921.06 344.9,794.38 494.2,664.11 643.2,723.79" stroke="#4bff11"/><polyline points="196.2,817.93 344.9,843.23 494.2,647.05 643.2,744.34" stroke="#4bff11"/><polyline points="196.2,902.55 344.9,822.06 494.2,668.12 643.2,723.04" stroke="#4bff11"/><polyline points="196.2,851.64 344.9,888.67 494.2,687.61 643.2,701.91" stroke="#4bff11"/><polyline points="196.2,855.98 344.9,886.15 494.2,684.05 643.2,706.92" stroke="#4bff11"/><polyline points="196.2,860.38 344.9,875.7 494.2,638.82 643.2,755.53" stroke="#4bff11"/><polyline points="196.2,895.32 344.9,836.37 494.2,675.43 643.2,715.97" stroke="#4bff11"/><polyline points="196.2,920.32 344.9,796.42 494.2,716.87 643.2,664.61" stroke="#4bff11"/><polyline points="196.2,894.82 344.9,830.56 494.2,714.2 643.2,671.85" stroke="#4bff11"/><polyline points="196.2,900.74 344.9,822.54 494.2,706.89 643.2,681.05" stroke="#4bff11"/><polyline points="196.2,845.74 344.9,896.89 494.2,684.69 643.2,707.25" stroke="#4bff11"/><polyline points="196.2,858.97 344.9,843.15 494.2,667.43 643.2,722.47" stroke="#4bff11"/><polyline points="196.2,921.64 344.9,796.44 494.2,709.76 643.2,682.82" stroke="#4bff11"/><polyline points="196.2,871.58 344.9,859.96 494.2,700.97 643.2,689.97" stroke="#4bff12"/><polyline points="196.2,854.83 344.9,853.83 494.2,660.5 643.2,729.58" stroke="#4bff12"/><polyline points="196.2,847.41 344.9,894.38 494.2,632.44 643.2,756.48" stroke="#4bff12"/><polyline points="196.2,863.8 344.9,843.89 494.2,704.26 643.2,683.95" stroke="#4bff12"/><polyline points="196.2,882.09 344.9,854.2 494.2,674.67 643.2,712.72" stroke="#4bff12"/><polyline points="196.2,857.62 344.9,878.75 494.2,702.66 643.2,685.79" stroke="#4bff12"/><polyline points="196.2,850.72 344.9,887.66 494.2,691.31 643.2,698.29" stroke="#4bff12"/><polyline points="196.2,866.87 344.9,871.33 494.2,680.58 643.2,708.49" stroke="#4bff12"/><polyline points="196.2,918.33 344.9,796.68 494.2,728.47 643.2,658.81" stroke="#4bff12"/><polyline points="196.2,905.95 344.9,815.45 494.2,723.69 643.2,662.32" stroke="#4bff12"/><polyline points="196.2,886.2 344.9,841.42 494.2,657.01 643.2,729.77" stroke="#4bff12"/><polyline points="196.2,906.52 344.9,815.27 494.2,720.16 643.2,663.63" stroke="#4bff12"/><polyline points="196.2,862.32 344.9,877.08 494.2,711.08 643.2,679.38" stroke="#4bff12"/><polyline points="196.2,864.95 344.9,829.06 494.2,718.69 643.2,668.42" stroke="#4bff12"/><polyline points="196.2,851.13 344.9,864.25 494.2,692.91 643.2,695.18" stroke="#4bff12"/><polyline points="196.2,923.37 344.9,791.74 494.2,672.52 643.2,717.25" stroke="#4bff12"/><polyline points="196.2,863 344.9,863.26 494.2,698.43 643.2,689.42" stroke="#4bff12"/><polyline points="196.2,882.89 344.9,848.46 494.2,673.08 643.2,718.38" stroke="#4bff12"/><polyline points="196.2,882.38 344.9,847.37 494.2,643.68 643.2,744.05" stroke="#4bff12"/><polyline points="196.2,825.51 344.9,842.5 494.2,675.56 643.2,713.06" stroke="#4bff12"/><polyline points="196.2,925.49 344.9,793.33 494.2,710.62 643.2,677" stroke="#4bff12"/><polyline points="196.2,821.77 344.9,845.41 494.2,674.32 643.2,714.25" stroke="#4bff12"/><polyline points="196.2,854.64 344.9,885.12 494.2,696.78 643.2,692.32" stroke="#4bff12"/><polyline points="196.2,841.29 344.9,850.09 494.2,666.76 643.2,722.09" stroke="#4bff12"/><polyline points="196.2,827.19 344.9,857.95 494.2,732.14 643.2,654.15" stroke="#4bff12"/><polyline points="196.2,894.14 344.9,834.66 494.2,673.22 643.2,717.26" stroke="#4bff12"/><polyline points="196.2,856.55 344.9,880.2 494.2,699.86 643.2,684.38" stroke="#4bff12"/><polyline points="196.2,856.23 344.9,845.2 494.2,670.45 643.2,718.09" stroke="#4bff12"/><polyline points="196.2,886.2 344.9,846.29 494.2,699.05 643.2,683.44" stroke="#4bff12"/><polyline points="196.2,865.3 344.9,873.66 494.2,682.81 643.2,706.74" stroke="#4bff12"/><polyline points="196.2,853.76 344.9,835.96 494.2,717.82 643.2,668.8" stroke="#4bff12"/><polyline points="196.2,924.6 344.9,790.19 494.2,718.3 643.2,664.16" stroke="#4bff12"/><polyline points="196.2,911.99 344.9,810.67 494.2,681.94 643.2,705.3" stroke="#4bff12"/><polyline points="196.2,899.14 344.9,823.75 494.2,668.25 643.2,724.28" stroke="#4bff12"/><polyline points="196.2,873.5 344.9,864.75 494.2,683.17 643.2,703.17" stroke="#4bff12"/><polyline points="196.2,853.82 344.9,840.27 494.2,656.44 643.2,732.25" stroke="#4bff12"/><polyline points="196.2,885.58 344.9,842.31 494.2,679.52 643.2,707.99" stroke="#4bff12"/><polyline points="196.2,851.89 344.9,890.42 494.2,641.03 643.2,751.37" stroke="#4bff12"/><polyline points="196.2,924.92 344.9,792.38 494.2,669.65 643.2,720.61" stroke="#4bff12"/><polyline points="196.2,927.29 344.9,784.39 494.2,701.4 643.2,682.2" stroke="#4bff13"/><polyline points="196.2,881.36 344.9,844.73 494.2,646.14 643.2,743.16" stroke="#4bff13"/><polyline points="196.2,855.9 344.9,882.9 494.2,652.3 643.2,733.31" stroke="#4bff13"/><polyline points="196.2,919.84 344.9,798.42 494.2,692.24 643.2,694.71" stroke="#4bff13"/><polyline points="196.2,929.29 344.9,785.31 494.2,670.51 643.2,719.39" stroke="#4bff13"/><polyline points="196.2,922.85 344.9,796.3 494.2,725.93 643.2,665.75" stroke="#4bff13"/><polyline points="196.2,850.65 344.9,888.39 494.2,680.58 643.2,712.39" stroke="#4bff13"/><polyline points="196.2,872.35 344.9,856.95 494.2,708.67 643.2,681.25" stroke="#4bff13"/><polyline points="196.2,880.25 344.9,849.05 494.2,692.82 643.2,695.04" stroke="#4bff13"/><polyline points="196.2,873.68 344.9,858.81 494.2,654.89 643.2,731.35" stroke="#4bff13"/><polyline points="196.2,852.32 344.9,889.57 494.2,641.31 643.2,743.73" stroke="#4bff13"/><polyline points="196.2,898.3 344.9,827.1 494.2,694.03 643.2,695.93" stroke="#4bff13"/><polyline points="196.2,917.23 344.9,800.53 494.2,702.93 643.2,682.84" stroke="#4bff13"/><polyline points="196.2,852.21 344.9,892.35 494.2,699.93 643.2,687.73" stroke="#4bff13"/><polyline points="196.2,854.4 344.9,887.2 494.2,672.87 643.2,714.09" stroke="#4bff13"/><polyline points="196.2,850.06 344.9,889.5 494.2,670.41 643.2,719.84" stroke="#4bff13"/><polyline points="196.2,928.53 344.9,781.85 494.2,673.76 643.2,713.53" stroke="#4bff13"/><polyline points="196.2,854.96 344.9,885.92 494.2,645.1 643.2,739.96" stroke="#4bff13"/><polyline points="196.2,887.23 344.9,841.57 494.2,689.49 643.2,697.31" stroke="#4bff13"/><polyline points="196.2,894.77 344.9,829.7 494.2,678.62 643.2,702.71" stroke="#4bff13"/><polyline points="196.2,858.54 344.9,878.68 494.2,691.86 643.2,692.49" stroke="#4bff13"/><polyline points="196.2,850.37 344.9,893.95 494.2,675.57 643.2,711.76" stroke="#4bff13"/><polyline points="196.2,881.45 344.9,845.84 494.2,661.42 643.2,724.58" stroke="#4bff13"/><polyline points="196.2,912.09 344.9,808.79 494.2,715.73 643.2,670.74" stroke="#4bff13"/><polyline points="196.2,922.1 344.9,795.43 494.2,682.87 643.2,706.27" stroke="#4bff13"/><polyline points="196.2,862.68 344.9,873.95 494.2,666.8 643.2,714.99" stroke="#4bff13"/><polyline points="196.2,930.71 344.9,781.32 494.2,662.35 643.2,724.26" stroke="#4bff13"/><polyline points="196.2,919.35 344.9,797.16 494.2,712.99 643.2,670.9" stroke="#4bff14"/><polyline points="196.2,880.77 344.9,856.37 494.2,701.19 643.2,685.7" stroke="#4bff16"/><polyline points="196.2,915.79 344.9,802.58 494.2,693.4 643.2,689.34" stroke="#4bff17"/><polyline points="196.2,923.85 344.9,786.86 494.2,684.24 643.2,699.98" stroke="#4bff19"/><polyline points="196.2,887.32 344.9,841.25 494.2,698.83 643.2,687.35" stroke="#4bff1a"/><polyline points="196.2,876.63 344.9,855.44 494.2,671.65 643.2,716.99" stroke="#4bff1b"/><polyline points="196.2,854.48 344.9,889.26 494.2,655.96 643.2,727.64" stroke="#4bff1d"/><polyline points="196.2,849.7 344.9,893.72 494.2,698.85 643.2,682.09" stroke="#4bff1e"/><polyline points="196.2,869.15 344.9,866.68 494.2,664.42 643.2,721.37" stroke="#4bff20"/><polyline points="196.2,866.52 344.9,868.58 494.2,677.95 643.2,705.79" stroke="#4bff21"/><polyline points="196.2,921.47 344.9,796.81 494.2,665.68 643.2,720.92" stroke="#4bff23"/><polyline points="196.2,905.82 344.9,815.64 494.2,678.87 643.2,706.53" stroke="#4bff24"/><polyline points="196.2,851.7 344.9,889.04 494.2,668.2 643.2,721.34" stroke="#4bff25"/><polyline points="196.2,853.53 344.9,889.97 494.2,682.23 643.2,699.65" stroke="#4bff27"/><polyline points="196.2,878.95 344.9,851.04 494.2,654.85 643.2,731.42" stroke="#4bff28"/><polyline points="196.2,920.62 344.9,798.24 494.2,704.43 643.2,681.01" stroke="#4bff2a"/><polyline points="196.2,860.21 344.9,876.46 494.2,671.3 643.2,711.48" stroke="#4bff2b"/><polyline points="196.2,850.57 344.9,896.61 494.2,646.26 643.2,739.59" stroke="#4bff2d"/><polyline points="196.2,867.3 344.9,873.86 494.2,672.45 643.2,708.56" stroke="#4bff2e"/><polyline points="196.2,863.44 344.9,874.8 494.2,695.12 643.2,694.31" stroke="#4bff2f"/><polyline points="196.2,864.86 344.9,873.45 494.2,677.1 643.2,711.17" stroke="#4cff31"/><polyline points="196.2,857.13 344.9,878.88 494.2,685.73 643.2,696.34" stroke="#4cff32"/><polyline points="196.2,869.07 344.9,864.58 494.2,655.78 643.2,728.49" stroke="#4cff34"/><polyline points="196.2,865.66 344.9,869.24 494.2,688.58 643.2,694.42" stroke="#4cff35"/><polyline points="196.2,893.54 344.9,830.48 494.2,665.51 643.2,717.29" stroke="#4cff37"/><polyline points="196.2,906.26 344.9,810.56 494.2,670.41 643.2,712.57" stroke="#4cff38"/><polyline points="196.2,903.85 344.9,817.53 494.2,705.11 643.2,674.22" stroke="#4cff39"/><polyline points="196.2,895.69 344.9,830.2 494.2,690.86 643.2,694.49" stroke="#4cff3b"/><polyline points="196.2,899.42 344.9,827.97 494.2,667.21 643.2,718.87" stroke="#4cff3c"/><polyline points="196.2,856.99 344.9,885.25 494.2,639.85 643.2,746.25" stroke="#4cff3e"/><polyline points="196.2,886.22 344.9,843.55 494.2,702.62 643.2,681.12" stroke="#4cff3f"/><polyline points="196.2,916.98 344.9,801.28 494.2,695.45 643.2,690.16" stroke="#4cff41"/><polyline points="196.2,911.39 344.9,809.68 494.2,721.24 643.2,663.29" stroke="#4cff42"/><polyline points="196.2,930.94 344.9,779.28 494.2,722.56 643.2,661.08" stroke="#4cff43"/><polyline points="196.2,911.04 344.9,808.84 494.2,673.62 643.2,709.89" stroke="#4cff45"/><polyline points="196.2,903.31 344.9,816.51 494.2,719.75 643.2,658.7" stroke="#4cff46"/><polyline points="196.2,854.22 344.9,886.32 494.2,694.33 643.2,688.67" stroke="#4cff48"/><polyline points="196.2,908.79 344.9,813.09 494.2,668.32 643.2,714.79" stroke="#4cff49"/><polyline points="196.2,887.63 344.9,842.6 494.2,680.28 643.2,699.19" stroke="#4cff4b"/><polyline points="196.2,916.78 344.9,799.92 494.2,672.94 643.2,711.76" stroke="#4dff4c"/><polyline points="196.2,895.61 344.9,829.33 494.2,677.37 643.2,707.46" stroke="#4dff4d"/><polyline points="196.2,928.42 344.9,786.85 494.2,666.13 643.2,721.13" stroke="#4dff4f"/><polyline points="196.2,867.75 344.9,872.4 494.2,646.65 643.2,734.85" stroke="#4dff50"/><polyline points="196.2,881.67 344.9,846.42 494.2,673.99 643.2,708.36" stroke="#4dff52"/><polyline points="196.2,905.08 344.9,815.67 494.2,695.97 643.2,687.84" stroke="#4dff53"/><polyline points="196.2,867.91 344.9,871.67 494.2,649.61 643.2,735.6" stroke="#4dff55"/><polyline points="196.2,921.5 344.9,799 494.2,715.92 643.2,668.72" stroke="#4dff56"/><polyline points="196.2,915.24 344.9,804.65 494.2,676.26 643.2,706.51" stroke="#4dff57"/><polyline points="196.2,861.62 344.9,877.11 494.2,684.68 643.2,695.25" stroke="#4dff59"/><polyline points="196.2,914.53 344.9,806.33 494.2,665.79 643.2,719.45" stroke="#4dff5a"/><polyline points="196.2,890.74 344.9,833.65 494.2,704.27 643.2,678.38" stroke="#4dff5c"/><polyline points="196.2,908.28 344.9,810 494.2,683.39 643.2,694.76" stroke="#4dff5d"/><polyline points="196.2,858.83 344.9,882.84 494.2,647.91 643.2,738.4" stroke="#4dff5f"/><polyline points="196.2,891.69 344.9,837.17 494.2,712.66 643.2,673.25" stroke="#4dff60"/><polyline points="196.2,872.32 344.9,863.88 494.2,647.53 643.2,736" stroke="#4dff61"/><polyline points="196.2,906.83 344.9,818.12 494.2,706.82 643.2,672.68" stroke="#4dff63"/><polyline points="196.2,888.62 344.9,836.23 494.2,699.74 643.2,679.1" stroke="#4dff64"/><polyline points="196.2,916.29 344.9,800.05 494.2,704.79 643.2,676.36" stroke="#4dff66"/><polyline points="196.2,915.72 344.9,802.28 494.2,688.62 643.2,689.61" stroke="#4dff67"/><polyline points="196.2,889.42 344.9,840.17 494.2,667.42 643.2,712.33" stroke="#4eff69"/><polyline points="196.2,892.68 344.9,832.52 494.2,687.06 643.2,692.64" stroke="#4eff6a"/><polyline points="196.2,908.93 344.9,813.46 494.2,671.3 643.2,710.8" stroke="#4eff6b"/><polyline points="196.2,925.84 344.9,790.1 494.2,674.64 643.2,702.97" stroke="#4eff6d"/><polyline points="196.2,862.63 344.9,873 494.2,669.75 643.2,709.57" stroke="#4eff6e"/><polyline points="196.2,892.76 344.9,832.84 494.2,707.45 643.2,678.71" stroke="#4eff70"/><polyline points="196.2,928.86 344.9,784.4 494.2,697.11 643.2,685.31" stroke="#4eff71"/><polyline points="196.2,918.24 344.9,798.85 494.2,704.44 643.2,675.52" stroke="#4eff73"/><polyline points="196.2,861.25 344.9,871.73 494.2,696.59 643.2,681.85" stroke="#4eff74"/><polyline points="196.2,902.65 344.9,816.21 494.2,715.76 643.2,663.09" stroke="#4eff75"/><polyline points="196.2,855.64 344.9,882.96 494.2,675.93 643.2,704.81" stroke="#4eff77"/><polyline points="196.2,908.78 344.9,809.25 494.2,681.71 643.2,701.39" stroke="#4eff78"/><polyline points="196.2,862.19 344.9,876.77 494.2,671.23 643.2,709.63" stroke="#4eff7a"/><polyline points="196.2,881.24 344.9,847.82 494.2,662.13 643.2,718.73" stroke="#4eff7b"/><polyline points="196.2,901.26 344.9,822.58 494.2,666.53 643.2,714.03" stroke="#4eff7d"/><polyline points="196.2,894.99 344.9,831.43 494.2,705.38 643.2,677.82" stroke="#4eff7e"/><polyline points="196.2,926.46 344.9,786.86 494.2,700.05 643.2,682.86" stroke="#4eff7f"/><polyline points="196.2,876.58 344.9,856.51 494.2,672.21 643.2,706.8" stroke="#4eff81"/><polyline points="196.2,858.76 344.9,878.74 494.2,665.9 643.2,714.08" stroke="#4eff82"/><polyline points="196.2,908.92 344.9,813.41 494.2,684.96 643.2,691.61" stroke="#4fff84"/><polyline points="196.2,854.96 344.9,882.56 494.2,695.67 643.2,681.6" stroke="#4fff85"/><polyline points="196.2,911.48 344.9,810.89 494.2,699.16 643.2,680.76" stroke="#4fff87"/><polyline points="196.2,907.51 344.9,813.82 494.2,702.89 643.2,677.21" stroke="#4fff88"/><polyline points="196.2,899.34 344.9,824.69 494.2,662.81 643.2,718.45" stroke="#4fff89"/><polyline points="196.2,919.45 344.9,793.96 494.2,716.89 643.2,662.92" stroke="#4fff8b"/><polyline points="196.2,920.5 344.9,794.05 494.2,685.44 643.2,695.28" stroke="#4fff8c"/><polyline points="196.2,859 344.9,884.63 494.2,664.68 643.2,715.47" stroke="#4fff8e"/><polyline points="196.2,910.79 344.9,810.49 494.2,704.69 643.2,678.52" stroke="#4fff8f"/><polyline points="196.2,900.43 344.9,823.66 494.2,705.31 643.2,676.75" stroke="#4fff91"/><polyline points="196.2,898.23 344.9,824.73 494.2,683.43 643.2,699.89" stroke="#4fff92"/><polyline points="196.2,856.9 344.9,880.72 494.2,659.88 643.2,723.88" stroke="#4fff93"/><polyline points="196.2,898.33 344.9,828.44 494.2,704.67 643.2,673.59" stroke="#4fff95"/><polyline points="196.2,916.24 344.9,804.58 494.2,697.77 643.2,684.8" stroke="#4fff96"/><polyline points="196.2,912.69 344.9,810.93 494.2,670.41 643.2,712.1" stroke="#4fff98"/><polyline points="196.2,895.19 344.9,832.46 494.2,710.51 643.2,668.66" stroke="#4fff99"/><polyline points="196.2,870.05 344.9,864.47 494.2,646.52 643.2,733.42" stroke="#4fff9b"/><polyline points="196.2,891.48 344.9,837.25 494.2,675.86 643.2,703.68" stroke="#4fff9c"/><polyline points="196.2,867.7 344.9,868.43 494.2,675.21 643.2,708.76" stroke="#4fff9d"/><polyline points="196.2,864.86 344.9,873.51 494.2,674.32 643.2,705.74" stroke="#4fff9f"/><polyline points="196.2,905.74 344.9,817.15 494.2,671.38 643.2,709.51" stroke="#50ffa0"/><polyline points="196.2,874.27 344.9,859.6 494.2,653.8 643.2,729.16" stroke="#50ffa1"/><polyline points="196.2,895.3 344.9,832.07 494.2,713.72 643.2,667.68" stroke="#51ffa2"/><polyline points="196.2,868.6 344.9,867.3 494.2,650.13 643.2,728.86" stroke="#51ffa3"/><polyline points="196.2,890.86 344.9,840.36 494.2,677.65 643.2,702.18" stroke="#52ffa5"/><polyline points="196.2,886 344.9,840.46 494.2,666.29 643.2,712.43" stroke="#52ffa6"/><polyline points="196.2,920.57 344.9,795.52 494.2,664.46 643.2,713.35" stroke="#53ffa7"/><polyline points="196.2,920.56 344.9,795.24 494.2,672.04 643.2,705.49" stroke="#53ffa8"/><polyline points="196.2,870.09 344.9,864.54 494.2,643.85 643.2,734.17" stroke="#54ffa9"/><polyline points="196.2,896.26 344.9,827.61 494.2,665.72 643.2,717.22" stroke="#54ffaa"/><polyline points="196.2,894.41 344.9,830.58 494.2,682.81 643.2,696.17" stroke="#55ffab"/><polyline points="196.2,877.83 344.9,855.28 494.2,686.6 643.2,693.5" stroke="#55ffad"/><polyline points="196.2,887.27 344.9,842.36 494.2,694.43 643.2,686.59" stroke="#55ffae"/><polyline points="196.2,896.62 344.9,830.83 494.2,670.2 643.2,708.71" stroke="#56ffaf"/><polyline points="196.2,903.87 344.9,820.78 494.2,655.67 643.2,723.22" stroke="#56ffb0"/><polyline points="196.2,915.05 344.9,804.01 494.2,696.3 643.2,682.46" stroke="#57ffb1"/><polyline points="196.2,892.92 344.9,834.53 494.2,701.49 643.2,678.76" stroke="#57ffb2"/><polyline points="196.2,857.77 344.9,885.65 494.2,657.89 643.2,720.88" stroke="#58ffb3"/><polyline points="196.2,894.94 344.9,833.86 494.2,693.6 643.2,684.65" stroke="#58ffb4"/><polyline points="196.2,881.14 344.9,850.84 494.2,649.72 643.2,729.64" stroke="#59ffb6"/><polyline points="196.2,922.14 344.9,792.47 494.2,707.64 643.2,672.39" stroke="#59ffb7"/><polyline points="196.2,917.65 344.9,798.16 494.2,695.89 643.2,683.17" stroke="#5affb8"/><polyline points="196.2,930.4 344.9,783.46 494.2,707.01 643.2,675.41" stroke="#5affb9"/><polyline points="196.2,898.94 344.9,823 494.2,683.21 643.2,694.16" stroke="#5bffba"/><polyline points="196.2,926.82 344.9,788.31 494.2,667.88 643.2,709.73" stroke="#5bffbb"/><polyline points="196.2,906.25 344.9,809.86 494.2,709.96 643.2,667.57" stroke="#5cffbc"/><polyline points="196.2,925.66 344.9,788.85 494.2,696.63 643.2,680.24" stroke="#5cffbd"/><polyline points="196.2,890.29 344.9,839.02 494.2,690.56 643.2,687.2" stroke="#5dffbf"/><polyline points="196.2,874.39 344.9,859.23 494.2,688.56 643.2,690.48" stroke="#5dffc0"/><polyline points="196.2,887.5 344.9,836.82 494.2,707.88 643.2,673.22" stroke="#5effc1"/><polyline points="196.2,879.41 344.9,852.25 494.2,691.36 643.2,689.24" stroke="#5effc2"/><polyline points="196.2,919.65 344.9,798.39 494.2,670.33 643.2,708.85" stroke="#5fffc3"/><polyline points="196.2,899.29 344.9,819.89 494.2,690.46 643.2,688.28" stroke="#5fffc4"/><polyline points="196.2,889.3 344.9,836.64 494.2,668.42 643.2,711.29" stroke="#5fffc5"/><polyline points="196.2,925.53 344.9,786.08 494.2,719.17 643.2,659.61" stroke="#60ffc7"/><polyline points="196.2,888.55 344.9,839.91 494.2,711.36 643.2,664.32" stroke="#60ffc8"/><polyline points="196.2,882.36 344.9,847.6 494.2,660.35 643.2,719.53" stroke="#61ffc9"/><polyline points="196.2,878.6 344.9,854.29 494.2,685.87 643.2,692.3" stroke="#61ffca"/><polyline points="196.2,901.06 344.9,821.26 494.2,713.94 643.2,661.04" stroke="#62ffcb"/><polyline points="196.2,860.99 344.9,875.78 494.2,687.75 643.2,693.22" stroke="#62ffcc"/><polyline points="196.2,916.33 344.9,801.86 494.2,689.8 643.2,686.1" stroke="#63ffcd"/><polyline points="196.2,865.74 344.9,871.36 494.2,654.9 643.2,725.21" stroke="#63ffce"/><polyline points="196.2,884.57 344.9,849.6 494.2,671.55 643.2,705.08" stroke="#64ffd0"/><polyline points="196.2,858.02 344.9,883.69 494.2,662.09 643.2,714.57" stroke="#64ffd1"/><polyline points="196.2,863.13 344.9,871.51 494.2,669.96 643.2,706.25" stroke="#65ffd2"/><polyline points="196.2,875.86 344.9,856.67 494.2,673.8 643.2,701.19" stroke="#65ffd3"/><polyline points="196.2,873.66 344.9,859.63 494.2,644.41 643.2,734.74" stroke="#66ffd4"/><polyline points="196.2,921.67 344.9,792.72 494.2,707.83 643.2,671.47" stroke="#66ffd5"/><polyline points="196.2,869.39 344.9,871.04 494.2,674.17 643.2,702.39" stroke="#67ffd6"/><polyline points="196.2,898.9 344.9,823.14 494.2,703.63 643.2,674.56" stroke="#67ffd7"/><polyline points="196.2,866.19 344.9,870.19 494.2,641.97 643.2,732.65" stroke="#68ffd9"/><polyline points="196.2,898.42 344.9,822.79 494.2,652.88 643.2,719.59" stroke="#68ffda"/><polyline points="196.2,908.76 344.9,812.23 494.2,693.59 643.2,684.77" stroke="#69ffdb"/><polyline points="196.2,916.15 344.9,802.03 494.2,711.15 643.2,669.5" stroke="#69ffdc"/><polyline points="196.2,876.45 344.9,853.87 494.2,660.49 643.2,712.46" stroke="#69ffdd"/><polyline points="196.2,923.67 344.9,791.18 494.2,709.58 643.2,669.55" stroke="#6affde"/><polyline points="196.2,901.24 344.9,819.15 494.2,712.08 643.2,665.64" stroke="#6affdf"/><polyline points="196.2,897.98 344.9,828.73 494.2,674.04 643.2,702.13" stroke="#6bffe1"/><polyline points="196.2,923.19 344.9,794.12 494.2,720.59 643.2,653.39" stroke="#6bffe2"/><polyline points="196.2,908.38 344.9,811.72 494.2,689.96 643.2,687.13" stroke="#6cffe3"/><polyline points="196.2,904.13 344.9,816.76 494.2,657.06 643.2,718.06" stroke="#6cffe4"/><polyline points="196.2,880.08 344.9,851.88 494.2,661.7 643.2,712.83" stroke="#6dffe5"/><polyline points="196.2,868.07 344.9,868.86 494.2,677.72 643.2,701.23" stroke="#6dffe6"/><polyline points="196.2,882.5 344.9,847.82 494.2,691.43 643.2,686.39" stroke="#6effe7"/><polyline points="196.2,887.24 344.9,836.96 494.2,691.39 643.2,687.16" stroke="#6effe8"/><polyline points="196.2,915.54 344.9,801.96 494.2,694.79 643.2,680.35" stroke="#6fffea"/><polyline points="196.2,913.15 344.9,807.16 494.2,699.52 643.2,676.42" stroke="#6fffeb"/><polyline points="196.2,900.84 344.9,819.94 494.2,699.41 643.2,679.18" stroke="#70ffec"/><polyline points="196.2,907.08 344.9,809.61 494.2,708.29 643.2,672.5" stroke="#70ffed"/><polyline points="196.2,902.91 344.9,820.42 494.2,664.95 643.2,708.88" stroke="#71ffee"/><polyline points="196.2,904.3 344.9,820.68 494.2,674.59 643.2,698.09" stroke="#71ffef"/><polyline points="196.2,880.86 344.9,851.3 494.2,691.25 643.2,686.81" stroke="#72fff0"/><polyline points="196.2,891.67 344.9,840.58 494.2,693.54 643.2,683.06" stroke="#72fff1"/><polyline points="196.2,882.61 344.9,848.96 494.2,648.76 643.2,723.36" stroke="#73fff3"/><polyline points="196.2,889.53 344.9,836.48 494.2,696.36 643.2,680.54" stroke="#73fff4"/><polyline points="196.2,873.94 344.9,858.1 494.2,681.35 643.2,690.33" stroke="#73fff5"/><polyline points="196.2,869.54 344.9,864.45 494.2,665.69 643.2,709.87" stroke="#74fff6"/><polyline points="196.2,886.23 344.9,845.33 494.2,685.97 643.2,688.5" stroke="#74fff7"/><polyline points="196.2,906.14 344.9,814.92 494.2,662.29 643.2,712.34" stroke="#75fff8"/><polyline points="196.2,873.8 344.9,861.58 494.2,696.43 643.2,682.01" stroke="#75fff9"/><polyline points="196.2,897.64 344.9,832.32 494.2,692.87 643.2,681.13" stroke="#76fffb"/><polyline points="196.2,879.25 344.9,854.38 494.2,680.72 643.2,693.78" stroke="#76fffc"/><polyline points="196.2,897.87 344.9,826.65 494.2,698.38 643.2,680.16" stroke="#77fffd"/><polyline points="196.2,920.12 344.9,797.43 494.2,713.07 643.2,664.26" stroke="#77fffe"/><polyline points="196.2,920.31 344.9,797.5 494.2,663.27 643.2,715.27" stroke="#77feff"/><polyline points="196.2,886.06 344.9,843.95 494.2,653.71 643.2,719.99" stroke="#77feff"/><polyline points="196.2,861.08 344.9,877.84 494.2,654.06 643.2,721.74" stroke="#77fdff"/><polyline points="196.2,865.76 344.9,868.19 494.2,663.29 643.2,709.42" stroke="#76fdff"/><polyline points="196.2,881.12 344.9,844.88 494.2,697.36 643.2,674.23" stroke="#76fdff"/><polyline points="196.2,867.97 344.9,866.74 494.2,663.27 643.2,709.01" stroke="#76fcff"/><polyline points="196.2,881.15 344.9,847.52 494.2,683.09 643.2,691.34" stroke="#75fcff"/><polyline points="196.2,916.8 344.9,800.06 494.2,672.57 643.2,701.68" stroke="#75fbff"/><polyline points="196.2,927.65 344.9,786.71 494.2,712.89 643.2,664.18" stroke="#74fbff"/><polyline points="196.2,899.06 344.9,823.61 494.2,697.95 643.2,672.28" stroke="#74fbff"/><polyline points="196.2,920.24 344.9,796.98 494.2,679.24 643.2,692.65" stroke="#74faff"/><polyline points="196.2,884.25 344.9,846.25 494.2,692.79 643.2,677.24" stroke="#73faff"/><polyline points="196.2,869.79 344.9,868.78 494.2,680.58 643.2,694.23" stroke="#73f9ff"/><polyline points="196.2,909.74 344.9,813.73 494.2,687.91 643.2,684.91" stroke="#73f9ff"/><polyline points="196.2,907.62 344.9,816.09 494.2,700.57 643.2,675.96" stroke="#72f8ff"/><polyline points="196.2,916.65 344.9,800.51 494.2,691.75 643.2,685.12" stroke="#72f8ff"/><polyline points="196.2,892.2 344.9,837.99 494.2,699.01 643.2,676.17" stroke="#72f8ff"/><polyline points="196.2,868.87 344.9,869.88 494.2,667.29 643.2,704.77" stroke="#71f7ff"/><polyline points="196.2,903.42 344.9,822.59 494.2,708.94 643.2,669.18" stroke="#71f7ff"/><polyline points="196.2,911.17 344.9,810.9 494.2,695.51 643.2,678.98" stroke="#71f6ff"/><polyline points="196.2,898.94 344.9,824.26 494.2,687.16 643.2,688.27" stroke="#70f6ff"/><polyline points="196.2,876.66 344.9,857.54 494.2,690.47 643.2,681.86" stroke="#70f6ff"/><polyline points="196.2,887.43 344.9,842.08 494.2,702.47 643.2,669.55" stroke="#6ff5ff"/><polyline points="196.2,903.56 344.9,823.72 494.2,660.74 643.2,711.34" stroke="#6ff5ff"/><polyline points="196.2,880.85 344.9,853.69 494.2,689.77 643.2,683.51" stroke="#6ff4ff"/><polyline points="196.2,874.04 344.9,859.21 494.2,665.91 643.2,709.85" stroke="#6ef4ff"/><polyline points="196.2,916.93 344.9,802.83 494.2,707.16 643.2,668.12" stroke="#6ef3ff"/><polyline points="196.2,913.14 344.9,805.36 494.2,708.1 643.2,663.91" stroke="#6ef3ff"/><polyline points="196.2,874.74 344.9,860.8 494.2,671.28 643.2,701.44" stroke="#6df3ff"/><polyline points="196.2,866.59 344.9,870.56 494.2,697.43 643.2,676.03" stroke="#6df2ff"/><polyline points="196.2,897.36 344.9,822.93 494.2,657.13 643.2,716.12" stroke="#6df2ff"/><polyline points="196.2,893.21 344.9,836.33 494.2,675.07 643.2,695.88" stroke="#6cf1ff"/><polyline points="196.2,877.51 344.9,861.87 494.2,677.6 643.2,695.97" stroke="#6cf1ff"/><polyline points="196.2,884.28 344.9,853.82 494.2,667.21 643.2,710.7" stroke="#6cf1ff"/><polyline points="196.2,929.29 344.9,781.4 494.2,694.16 643.2,682.94" stroke="#6bf0ff"/><polyline points="196.2,911.99 344.9,811.14 494.2,691.24 643.2,680.84" stroke="#6bf0ff"/><polyline points="196.2,871.71 344.9,866.09 494.2,661.92 643.2,711.11" stroke="#6aefff"/><polyline points="196.2,894.21 344.9,834.21 494.2,694.11 643.2,681.75" stroke="#6aefff"/><polyline points="196.2,868.96 344.9,868.04 494.2,674.01 643.2,700.93" stroke="#6aeeff"/><polyline points="196.2,873.8 344.9,861.71 494.2,649.51 643.2,723.98" stroke="#69eeff"/><polyline points="196.2,895.55 344.9,832.4 494.2,694.62 643.2,680.84" stroke="#69eeff"/><polyline points="196.2,920.23 344.9,798.81 494.2,710.44 643.2,663.56" stroke="#69edff"/><polyline points="196.2,885.48 344.9,847.24 494.2,676.57 643.2,695.45" stroke="#68edff"/><polyline points="196.2,918.62 344.9,801.04 494.2,702.41 643.2,670.63" stroke="#68ecff"/><polyline points="196.2,866.52 344.9,872.8 494.2,660.86 643.2,710.31" stroke="#68ecff"/><polyline points="196.2,909.04 344.9,816.37 494.2,659.34 643.2,710.85" stroke="#67ecff"/><polyline points="196.2,870.59 344.9,868.59 494.2,685.79 643.2,687.05" stroke="#67ebff"/><polyline points="196.2,894.4 344.9,833.83 494.2,684.6 643.2,689.62" stroke="#67ebff"/><polyline points="196.2,911.83 344.9,809.82 494.2,681.3 643.2,690.84" stroke="#66eaff"/><polyline points="196.2,882.77 344.9,854.1 494.2,682.92 643.2,690.07" stroke="#66eaff"/><polyline points="196.2,866.54 344.9,873.58 494.2,645.58 643.2,725.87" stroke="#65e9ff"/><polyline points="196.2,906.1 344.9,819.74 494.2,660.97 643.2,711.66" stroke="#65e9ff"/><polyline points="196.2,880.78 344.9,855.74 494.2,664.78 643.2,707.93" stroke="#65e9ff"/><polyline points="196.2,875.09 344.9,863.02 494.2,663.37 643.2,708.91" stroke="#64e8ff"/><polyline points="196.2,876.57 344.9,858.27 494.2,701.03 643.2,674.37" stroke="#64e8ff"/><polyline points="196.2,877.36 344.9,856.4 494.2,696.49 643.2,674.62" stroke="#64e7ff"/><polyline points="196.2,879.56 344.9,857.88 494.2,671.53 643.2,703.43" stroke="#63e7ff"/><polyline points="196.2,886.75 344.9,848.22 494.2,687.72 643.2,686.83" stroke="#63e7ff"/><polyline points="196.2,912.93 344.9,806.94 494.2,686.97 643.2,685.3" stroke="#63e6ff"/><polyline points="196.2,889.71 344.9,840.27 494.2,702.93 643.2,670.74" stroke="#62e6ff"/><polyline points="196.2,869.49 344.9,870.13 494.2,667.37 643.2,704.49" stroke="#62e5ff"/><polyline points="196.2,872.79 344.9,865.81 494.2,668.34 643.2,701.98" stroke="#62e5ff"/><polyline points="196.2,874.26 344.9,864.61 494.2,664.18 643.2,705.52" stroke="#61e4ff"/><polyline points="196.2,906.11 344.9,817.6 494.2,658.82 643.2,709.96" stroke="#61e4ff"/><polyline points="196.2,898.13 344.9,831.3 494.2,668.2 643.2,703.46" stroke="#60e4ff"/><polyline points="196.2,876.62 344.9,859.51 494.2,693.05 643.2,675.93" stroke="#60e3ff"/><polyline points="196.2,904.89 344.9,821.28 494.2,703.53 643.2,670.68" stroke="#60e3ff"/><polyline points="196.2,888.11 344.9,843.26 494.2,670.8 643.2,702.13" stroke="#5fe2ff"/><polyline points="196.2,879.45 344.9,855.86 494.2,673.6 643.2,699.94" stroke="#5fe2ff"/><polyline points="196.2,896.04 344.9,832.9 494.2,662.14 643.2,711.33" stroke="#5fe2ff"/><polyline points="196.2,887.4 344.9,845.89 494.2,681.8 643.2,691.47" stroke="#5ee1ff"/><polyline points="196.2,879.16 344.9,859.98 494.2,684.19 643.2,686.28" stroke="#5ee1ff"/><polyline points="196.2,906.91 344.9,819.66 494.2,674.73 643.2,699.91" stroke="#5ee0ff"/><polyline points="196.2,887.42 344.9,845.3 494.2,683.75 643.2,688.95" stroke="#5de0ff"/><polyline points="196.2,889.38 344.9,844.94 494.2,671.91 643.2,699.98" stroke="#5ddfff"/><polyline points="196.2,892.05 344.9,841.69 494.2,658.27 643.2,715.51" stroke="#5ddfff"/><polyline points="196.2,893.74 344.9,837.28 494.2,690.14 643.2,680.53" stroke="#5cdfff"/><polyline points="196.2,869.63 344.9,872.54 494.2,685.83 643.2,689.1" stroke="#5cdeff"/><polyline points="196.2,928.33 344.9,787.31 494.2,686.85 643.2,688.51" stroke="#5bdeff"/><polyline points="196.2,915.61 344.9,806.79 494.2,678.6 643.2,695.57" stroke="#5bddff"/><polyline points="196.2,883.05 344.9,851.09 494.2,682.07 643.2,688.37" stroke="#5bddff"/><polyline points="196.2,907.68 344.9,816.57 494.2,703.47 643.2,672.58" stroke="#5addff"/><polyline points="196.2,894.31 344.9,835.09 494.2,699.66 643.2,671.19" stroke="#5adcff"/><polyline points="196.2,897.29 344.9,835.33 494.2,668.37 643.2,704.83" stroke="#5adcff"/><polyline points="196.2,883.59 344.9,849.43 494.2,672.59 643.2,696.67" stroke="#59dbff"/><polyline points="196.2,899.14 344.9,832.16 494.2,685.57 643.2,686.85" stroke="#59daff"/><polyline points="196.2,870.99 344.9,867.87 494.2,666.02 643.2,710.75" stroke="#59d9ff"/><polyline points="196.2,923.79 344.9,797 494.2,709.57 643.2,664.83" stroke="#58d7ff"/><polyline points="196.2,900.74 344.9,829.08 494.2,678.97 643.2,694.8" stroke="#58d6ff"/><polyline points="196.2,912.75 344.9,808.17 494.2,694.64 643.2,678.57" stroke="#58d5ff"/><polyline points="196.2,911.48 344.9,812.92 494.2,679.74 643.2,694.43" stroke="#57d4ff"/><polyline points="196.2,892.83 344.9,837.68 494.2,668.86 643.2,700.75" stroke="#57d3ff"/><polyline points="196.2,894.57 344.9,838.4 494.2,672.75 643.2,695.81" stroke="#56d1ff"/><polyline points="196.2,887.7 344.9,846.37 494.2,691.62 643.2,681.15" stroke="#56d0ff"/><polyline points="196.2,907.48 344.9,820.64 494.2,687.44 643.2,688.78" stroke="#56cfff"/><polyline points="196.2,913.41 344.9,807.47 494.2,709.79 643.2,662.77" stroke="#55ceff"/><polyline points="196.2,919.02 344.9,802.73 494.2,711.87 643.2,662.63" stroke="#55cdff"/><polyline points="196.2,882.92 344.9,854.18 494.2,665.44 643.2,704.89" stroke="#55cbff"/><polyline points="196.2,882.9 344.9,856.77 494.2,654.63 643.2,719.02" stroke="#54caff"/><polyline points="196.2,889.28 344.9,843.83 494.2,679.35 643.2,693.64" stroke="#54c9ff"/><polyline points="196.2,910.76 344.9,816.49 494.2,679.99 643.2,692.38" stroke="#54c8ff"/><polyline points="196.2,915.37 344.9,808.62 494.2,679.99 643.2,691.11" stroke="#53c7ff"/><polyline points="196.2,878.02 344.9,860.51 494.2,653.15 643.2,718.09" stroke="#53c5ff"/><polyline points="196.2,912.13 344.9,813.61 494.2,671.93 643.2,700.14" stroke="#53c4ff"/><polyline points="196.2,874.41 344.9,869.07 494.2,650.92 643.2,719.28" stroke="#52c3ff"/><polyline points="196.2,916.88 344.9,805.22 494.2,700.94 643.2,671.3" stroke="#52c2ff"/><polyline points="196.2,893.43 344.9,840.51 494.2,680.47 643.2,693.66" stroke="#51c1ff"/><polyline points="196.2,922.4 344.9,797.77 494.2,703.86 643.2,671.78" stroke="#51c0ff"/><polyline points="196.2,885.94 344.9,847.63 494.2,655.77 643.2,715.26" stroke="#51beff"/><polyline points="196.2,912.86 344.9,809.37 494.2,690.1 643.2,683" stroke="#50bdff"/><polyline points="196.2,918.16 344.9,805.7 494.2,700.9 643.2,671.72" stroke="#50bcff"/><polyline points="196.2,890.08 344.9,846.46 494.2,700.27 643.2,670.76" stroke="#50bbff"/><polyline points="196.2,923.53 344.9,798.31 494.2,700.03 643.2,675.69" stroke="#4fbaff"/><polyline points="196.2,876.87 344.9,862.49 494.2,657.38 643.2,715.51" stroke="#4fb8ff"/><polyline points="196.2,879.07 344.9,860.44 494.2,683.97 643.2,688.32" stroke="#4fb7ff"/><polyline points="196.2,920.17 344.9,799.76 494.2,666.86 643.2,706.52" stroke="#4eb6ff"/><polyline points="196.2,878.74 344.9,865.91 494.2,655.01 643.2,716.44" stroke="#4eb5ff"/><polyline points="196.2,923.97 344.9,794.76 494.2,688.48 643.2,681.81" stroke="#4eb4ff"/><polyline points="196.2,882.11 344.9,857.55 494.2,670.79 643.2,699.73" stroke="#4db2ff"/><polyline points="196.2,876.83 344.9,864.03 494.2,665.61 643.2,705.5" stroke="#4db1ff"/><polyline points="196.2,911.66 344.9,810.37 494.2,675.2 643.2,695.54" stroke="#4cb0ff"/><polyline points="196.2,923.63 344.9,794.38 494.2,708.93 643.2,664.89" stroke="#4cafff"/><polyline points="196.2,900.9 344.9,828.96 494.2,695.24 643.2,678.51" stroke="#4caeff"/><polyline points="196.2,891.23 344.9,844.56 494.2,685.89 643.2,684.47" stroke="#4bacff"/><polyline points="196.2,925.67 344.9,793.5 494.2,707.79 643.2,664.27" stroke="#4babff"/><polyline points="196.2,891.49 344.9,845.18 494.2,677.29 643.2,693.7" stroke="#4baaff"/><polyline points="196.2,874.34 344.9,872.95 494.2,666.73 643.2,705.27" stroke="#4aa9ff"/><polyline points="196.2,914.24 344.9,809.46 494.2,689.66 643.2,681.42" stroke="#4aa8ff"/><polyline points="196.2,877.16 344.9,867.36 494.2,674.47 643.2,694.26" stroke="#4aa7ff"/><polyline points="196.2,904.67 344.9,826.5 494.2,681.78 643.2,689.51" stroke="#49a5ff"/><polyline points="196.2,875.29 344.9,869.51 494.2,670.12 643.2,700.74" stroke="#49a4ff"/><polyline points="196.2,902.69 344.9,827.25 494.2,663.11 643.2,708.91" stroke="#49a3ff"/><polyline points="196.2,888.56 344.9,847.92 494.2,662.8 643.2,708.57" stroke="#48a2ff"/><polyline points="196.2,926.84 344.9,788.95 494.2,701.38 643.2,670.73" stroke="#48a1ff"/><polyline points="196.2,877.86 344.9,864.29 494.2,694.4 643.2,678.55" stroke="#479fff"/><polyline points="196.2,887.3 344.9,850.52 494.2,674.69 643.2,697.95" stroke="#479eff"/><polyline points="196.2,919.48 344.9,801.49 494.2,674.68 643.2,695.63" stroke="#479dff"/><polyline points="196.2,902.25 344.9,830.57 494.2,699.24 643.2,672.76" stroke="#469cff"/><polyline points="196.2,908.68 344.9,820.16 494.2,695.37 643.2,673.9" stroke="#469bff"/><polyline points="196.2,919.22 344.9,803.05 494.2,696.03 643.2,679.91" stroke="#4699ff"/><polyline points="196.2,913.58 344.9,811.24 494.2,691.82 643.2,679.81" stroke="#4598ff"/><polyline points="196.2,897.84 344.9,837.71 494.2,662.23 643.2,708.79" stroke="#4597ff"/><polyline points="196.2,911.59 344.9,815.13 494.2,670.83 643.2,697.86" stroke="#4596ff"/><polyline points="196.2,924.59 344.9,794.23 494.2,703.36 643.2,668.95" stroke="#4495ff"/><polyline points="196.2,924.23 344.9,796.99 494.2,668.6 643.2,700.76" stroke="#4493ff"/><polyline points="196.2,901.82 344.9,831.61 494.2,681.78 643.2,691.53" stroke="#4492ff"/><polyline points="196.2,894.63 344.9,842.46 494.2,662.62 643.2,713.16" stroke="#4391ff"/><polyline points="196.2,909.91 344.9,820.69 494.2,672.2 643.2,699.57" stroke="#4390ff"/><polyline points="196.2,905.3 344.9,822.4 494.2,664.21 643.2,707.93" stroke="#428fff"/><polyline points="196.2,878.83 344.9,865.56 494.2,659.95 643.2,711.71" stroke="#428eff"/><polyline points="196.2,919.26 344.9,805.98 494.2,688.06 643.2,685.12" stroke="#428cff"/><polyline points="196.2,894.23 344.9,841.55 494.2,676.98 643.2,697.65" stroke="#418bff"/><polyline points="196.2,891.22 344.9,844.47 494.2,657.5 643.2,711.95" stroke="#418aff"/><polyline points="196.2,904.64 344.9,824.98 494.2,679.4 643.2,691.89" stroke="#4189ff"/><polyline points="196.2,890.96 344.9,851.8 494.2,665.87 643.2,704.35" stroke="#4088ff"/><polyline points="196.2,889.46 344.9,852.24 494.2,689 643.2,682.14" stroke="#4086ff"/><polyline points="196.2,915.12 344.9,811.01 494.2,680.93 643.2,690.65" stroke="#4085ff"/><polyline points="196.2,881.28 344.9,863.61 494.2,665.02 643.2,708.63" stroke="#3f84ff"/><polyline points="196.2,908.47 344.9,822.92 494.2,678.5 643.2,694.31" stroke="#3f83ff"/><polyline points="196.2,901.84 344.9,832.57 494.2,674.18 643.2,694.51" stroke="#3f82ff"/><polyline points="196.2,889.07 344.9,851.55 494.2,656.93 643.2,714.27" stroke="#3e80ff"/><polyline points="196.2,894.13 344.9,845.54 494.2,668.94 643.2,701.7" stroke="#3e7fff"/><polyline points="196.2,913.86 344.9,813.79 494.2,686.26 643.2,684.71" stroke="#3d7eff"/><polyline points="196.2,915.25 344.9,809.19 494.2,695.33 643.2,676.96" stroke="#3d7dff"/><polyline points="196.2,909.38 344.9,820.12 494.2,675.41 643.2,695.78" stroke="#3d7cff"/><polyline points="196.2,918.46 344.9,805.16 494.2,691.27 643.2,680.16" stroke="#3c7aff"/><polyline points="196.2,902.45 344.9,829.44 494.2,690.14 643.2,680.6" stroke="#3c79ff"/><polyline points="196.2,916.88 344.9,808 494.2,703.41 643.2,667.84" stroke="#3c78ff"/><polyline points="196.2,895.65 344.9,843.7 494.2,694.54 643.2,675.72" stroke="#3b77ff"/><polyline points="196.2,911.35 344.9,819.39 494.2,693.83 643.2,676.71" stroke="#3b76ff"/><polyline points="196.2,911.84 344.9,818.36 494.2,682.04 643.2,690.39" stroke="#3b75ff"/><polyline points="196.2,909.78 344.9,822.94 494.2,684.89 643.2,686.43" stroke="#3a73ff"/><polyline points="196.2,904.24 344.9,826.04 494.2,679.95 643.2,689.24" stroke="#3a72ff"/><polyline points="196.2,896.68 344.9,839.39 494.2,671.13 643.2,699.07" stroke="#3a71ff"/><polyline points="196.2,893.23 344.9,849.39 494.2,668.15 643.2,702.25" stroke="#3970ff"/><polyline points="196.2,916.34 344.9,807.82 494.2,668.39 643.2,700.7" stroke="#396fff"/><polyline points="196.2,895.24 344.9,843.45 494.2,675.08 643.2,692.86" stroke="#386dff"/><polyline points="196.2,925.57 344.9,794.86 494.2,697.61 643.2,672.04" stroke="#386cff"/><polyline points="196.2,918.95 344.9,806.6 494.2,707.46 643.2,664.01" stroke="#386bff"/><polyline points="196.2,896.81 344.9,840.29 494.2,664.33 643.2,707.64" stroke="#376aff"/><polyline points="196.2,898.78 344.9,838.79 494.2,687.17 643.2,682.56" stroke="#3769ff"/><polyline points="196.2,882.29 344.9,862.42 494.2,674.45 643.2,698.57" stroke="#3767ff"/><polyline points="196.2,920.26 344.9,803.58 494.2,704.72 643.2,664.35" stroke="#3666ff"/><polyline points="196.2,912.93 344.9,815.44 494.2,703.88 643.2,664.91" stroke="#3665ff"/><polyline points="196.2,884.64 344.9,862.14 494.2,672.33 643.2,696.69" stroke="#3664ff"/><polyline points="196.2,887.53 344.9,856.33 494.2,661.28 643.2,711.93" stroke="#3563ff"/><polyline points="196.2,893.42 344.9,845.2 494.2,678.13 643.2,692.28" stroke="#3561ff"/><polyline points="196.2,918.03 344.9,806.39 494.2,695.92 643.2,674.21" stroke="#3560ff"/><polyline points="196.2,884.66 344.9,860.61 494.2,660.91 643.2,710.77" stroke="#345fff"/><polyline points="196.2,922.61 344.9,797.27 494.2,703.99 643.2,666.63" stroke="#345eff"/><polyline points="196.2,917.01 344.9,809.6 494.2,666.47 643.2,702.71" stroke="#335dff"/><polyline points="196.2,915.73 344.9,810.37 494.2,687.42 643.2,682.84" stroke="#335cff"/><polyline points="196.2,923.43 344.9,795.87 494.2,699.52 643.2,671.14" stroke="#335aff"/><polyline points="196.2,923.41 344.9,799.23 494.2,688.38 643.2,679.94" stroke="#3259ff"/><polyline points="196.2,910.61 344.9,817.55 494.2,679.27 643.2,687.68" stroke="#3258ff"/><polyline points="196.2,903.47 344.9,830.97 494.2,665.11 643.2,706.6" stroke="#3257ff"/><polyline points="196.2,896.79 344.9,844.37 494.2,689.01 643.2,681.3" stroke="#3156ff"/><polyline points="196.2,905.68 344.9,824.74 494.2,690.46 643.2,679.15" stroke="#3154ff"/><polyline points="196.2,914.28 344.9,816.06 494.2,680.26 643.2,689.1" stroke="#3153ff"/><polyline points="196.2,917.8 344.9,806.66 494.2,689.78 643.2,681.19" stroke="#3052ff"/><polyline points="196.2,893.26 344.9,849.53 494.2,668.41 643.2,701.42" stroke="#3051ff"/><polyline points="196.2,908.56 344.9,822.48 494.2,668.81 643.2,701.38" stroke="#3050ff"/><polyline points="196.2,909.43 344.9,818.26 494.2,672.02 643.2,699.55" stroke="#2f4eff"/><polyline points="196.2,911.61 344.9,815.83 494.2,679.06 643.2,688.83" stroke="#2f4dff"/><polyline points="196.2,898.97 344.9,838.4 494.2,665.76 643.2,702.63" stroke="#2e4cff"/><polyline points="196.2,895.91 344.9,842.38 494.2,677.87 643.2,694.81" stroke="#2e4bff"/><polyline points="196.2,923.62 344.9,798.18 494.2,689.98 643.2,678.83" stroke="#2e4aff"/><polyline points="196.2,921.62 344.9,802.81 494.2,682.62 643.2,685.05" stroke="#2d48ff"/><polyline points="196.2,920.47 344.9,803.69 494.2,677.19 643.2,693.2" stroke="#2d47ff"/><polyline points="196.2,917.7 344.9,808.87 494.2,688.19 643.2,682.32" stroke="#2d46ff"/><polyline points="196.2,912.27 344.9,819.57 494.2,689.32 643.2,682.05" stroke="#2c45ff"/><polyline points="196.2,907.3 344.9,829.19 494.2,696.47 643.2,672.24" stroke="#2c44ff"/><polyline points="196.2,906.26 344.9,828.98 494.2,675.89 643.2,695.21" stroke="#2c43ff"/><polyline points="196.2,910.56 344.9,819.39 494.2,683.2 643.2,688.56" stroke="#2b41ff"/><polyline points="196.2,913.04 344.9,815.65 494.2,693.33 643.2,678.41" stroke="#2b40ff"/><polyline points="196.2,906.22 344.9,826.67 494.2,667.75 643.2,701.73" stroke="#2b3fff"/><polyline points="196.2,920.61 344.9,805.22 494.2,673.37 643.2,694.3" stroke="#2a3eff"/><polyline points="196.2,910.69 344.9,821.18 494.2,694.43 643.2,677.18" stroke="#2a3dff"/><polyline points="196.2,920.62 344.9,803.32 494.2,692.85 643.2,677.31" stroke="#293bff"/><polyline points="196.2,920.78 344.9,802.47 494.2,694.49 643.2,675.99" stroke="#293aff"/><polyline points="196.2,921.53 344.9,802.43 494.2,680.85 643.2,687.62" stroke="#2939ff"/><polyline points="196.2,906.63 344.9,827.47 494.2,694.92 643.2,673.17" stroke="#2838ff"/><polyline points="196.2,898.93 344.9,841.75 494.2,696.17 643.2,673.85" stroke="#2837ff"/><polyline points="196.2,903.62 344.9,834.47 494.2,696.25 643.2,676.46" stroke="#2835ff"/><polyline points="196.2,893.35 344.9,849.52 494.2,684.13 643.2,686.44" stroke="#2734ff"/><polyline points="196.2,895.31 344.9,847.32 494.2,681.22 643.2,685.61" stroke="#2733ff"/><polyline points="196.2,915.42 344.9,813.21 494.2,679.05 643.2,691.12" stroke="#2732ff"/><polyline points="196.2,912.45 344.9,815.67 494.2,672.48 643.2,696.34" stroke="#2631ff"/><polyline points="196.2,907.29 344.9,825.56 494.2,684.29 643.2,686.53" stroke="#262fff"/><polyline points="196.2,888.13 344.9,858.86 494.2,671.3 643.2,698.6" stroke="#262eff"/><polyline points="196.2,894.47 344.9,846.78 494.2,678.28 643.2,693.11" stroke="#252dff"/><polyline points="196.2,917.96 344.9,806.29 494.2,703.62 643.2,665.39" stroke="#252cff"/><polyline points="196.2,891.59 344.9,851.59 494.2,682.63 643.2,687.35" stroke="#242bff"/><polyline points="196.2,919.63 344.9,809.52 494.2,704.1 643.2,666.97" stroke="#242aff"/><polyline points="196.2,912.58 344.9,816.28 494.2,701.45 643.2,666.93" stroke="#2428ff"/><polyline points="196.2,919.94 344.9,805.66 494.2,682.88 643.2,686.06" stroke="#2327ff"/><polyline points="196.2,916.19 344.9,810.46 494.2,684.07 643.2,686.87" stroke="#2326ff"/><polyline points="196.2,911.03 344.9,821.05 494.2,692.13 643.2,680.09" stroke="#2325ff"/><polyline points="196.2,890.06 344.9,855.81 494.2,668.37 643.2,700.74" stroke="#2224ff"/><polyline points="196.2,893.49 344.9,850.4 494.2,679.97 643.2,691.6" stroke="#2222ff"/><polyline points="196.2,897.67 344.9,839.66 494.2,669.45 643.2,702.65" stroke="#2221ff"/><polyline points="196.2,906.19 344.9,829.09 494.2,672.36 643.2,700.13" stroke="#2120ff"/><polyline points="196.2,908.17 344.9,824.99 494.2,683.99 643.2,685.35" stroke="#211fff"/><polyline points="196.2,887.73 344.9,859.2 494.2,661.45 643.2,708.94" stroke="#211eff"/><polyline points="196.2,911.96 344.9,819.1 494.2,675.84 643.2,692.97" stroke="#201cff"/><polyline points="196.2,919.71 344.9,803.7 494.2,695.92 643.2,673.65" stroke="#201bff"/><polyline points="196.2,920.51 344.9,802.8 494.2,692.1 643.2,676.54" stroke="#1f1aff"/><polyline points="196.2,922.14 344.9,800.25 494.2,674.3 643.2,695.15" stroke="#1f19ff"/><polyline points="196.2,900.44 344.9,836.29 494.2,672.22 643.2,698.92" stroke="#1f18ff"/><polyline points="196.2,893.88 344.9,850.78 494.2,668.17 643.2,703.25" stroke="#1e16ff"/><polyline points="196.2,893.65 344.9,849.35 494.2,677.81 643.2,691.6" stroke="#1e15ff"/><polyline points="196.2,895.03 344.9,848.38 494.2,690.58 643.2,678.46" stroke="#1e14ff"/><polyline points="196.2,892.4 344.9,850.87 494.2,688.21 643.2,681.14" stroke="#1e13ff"/><polyline points="196.2,906.63 344.9,826.13 494.2,675.52 643.2,693.3" stroke="#1e13ff"/><polyline points="196.2,896.26 344.9,846.9 494.2,682.1 643.2,688.79" stroke="#1f13ff"/><polyline points="196.2,896.01 344.9,846.37 494.2,677.71 643.2,691.02" stroke="#1f13ff"/><polyline points="196.2,912.69 344.9,818.31 494.2,699.71 643.2,671.6" stroke="#1f13ff"/><polyline points="196.2,899.35 344.9,840.23 494.2,682.73 643.2,687.49" stroke="#2012ff"/><polyline points="196.2,888.01 344.9,858.36 494.2,663.58 643.2,702.46" stroke="#2012ff"/><polyline points="196.2,903.47 344.9,831.85 494.2,681.14 643.2,687.38" stroke="#2112ff"/><polyline points="196.2,894.56 344.9,847.37 494.2,668.59 643.2,700.88" stroke="#2112ff"/><polyline points="196.2,894.43 344.9,847.93 494.2,688.07 643.2,681.25" stroke="#2112ff"/><polyline points="196.2,896.7 344.9,844.57 494.2,677.85 643.2,693.45" stroke="#2211ff"/><polyline points="196.2,907.47 344.9,826.58 494.2,671.18 643.2,699.17" stroke="#2211ff"/><polyline points="196.2,889.49 344.9,854.79 494.2,681.34 643.2,689.72" stroke="#2311ff"/><polyline points="196.2,899.44 344.9,839.46 494.2,670.92 643.2,698.16" stroke="#2311ff"/><polyline points="196.2,907.49 344.9,825.07 494.2,684.49 643.2,684.84" stroke="#2311ff"/><polyline points="196.2,912.19 344.9,817.38 494.2,688.64 643.2,681.21" stroke="#2410ff"/><polyline points="196.2,900.07 344.9,835.93 494.2,679.52 643.2,692.11" stroke="#2410ff"/><polyline points="196.2,917.54 344.9,810.05 494.2,677.22 643.2,690" stroke="#2510ff"/><polyline points="196.2,913.14 344.9,813.98 494.2,688.19 643.2,680.2" stroke="#2510ff"/><polyline points="196.2,916.09 344.9,809.75 494.2,678.75 643.2,689" stroke="#2510ff"/><polyline points="196.2,918.51 344.9,809.59 494.2,687.29 643.2,684.01" stroke="#260fff"/><polyline points="196.2,918.03 344.9,807.46 494.2,670.43 643.2,697.7" stroke="#260fff"/><polyline points="196.2,916.95 344.9,810.8 494.2,694.05 643.2,677.63" stroke="#270fff"/><polyline points="196.2,912.89 344.9,816.69 494.2,684.53 643.2,686.7" stroke="#270fff"/><polyline points="196.2,902.43 344.9,835.07 494.2,679.93 643.2,686.51" stroke="#270fff"/><polyline points="196.2,890.51 344.9,858.02 494.2,676.72 643.2,690.95" stroke="#280eff"/><polyline points="196.2,894.75 344.9,847.22 494.2,676.34 643.2,692.13" stroke="#280eff"/><polyline points="196.2,908.72 344.9,822.65 494.2,678.18 643.2,691.39" stroke="#290eff"/><polyline points="196.2,907.23 344.9,829.9 494.2,690.12 643.2,679.34" stroke="#290eff"/><polyline points="196.2,906.92 344.9,830.93 494.2,688.12 643.2,682.28" stroke="#2a0dff"/><polyline points="196.2,903.72 344.9,830.44 494.2,692.43 643.2,676.88" stroke="#2a0dff"/><polyline points="196.2,906.01 344.9,828.41 494.2,692.62 643.2,677.3" stroke="#2a0dff"/><polyline points="196.2,917.4 344.9,805.67 494.2,684.8 643.2,685.7" stroke="#2b0dff"/><polyline points="196.2,913.61 344.9,816.75 494.2,697.35 643.2,672.4" stroke="#2b0dff"/><polyline points="196.2,892.45 344.9,850.32 494.2,676.15 643.2,691.6" stroke="#2c0cff"/><polyline points="196.2,911.2 344.9,817.1 494.2,692 643.2,678.05" stroke="#2c0cff"/><polyline points="196.2,898.18 344.9,841.48 494.2,680.86 643.2,688.36" stroke="#2c0cff"/><polyline points="196.2,907.83 344.9,824.95 494.2,686.52 643.2,682.1" stroke="#2d0cff"/><polyline points="196.2,908.58 344.9,824.33 494.2,678.15 643.2,691.75" stroke="#2d0cff"/><polyline points="196.2,894.36 344.9,844.49 494.2,674.67 643.2,692.66" stroke="#2e0bff"/><polyline points="196.2,896.7 344.9,842.7 494.2,682.32 643.2,685.15" stroke="#2e0bff"/><polyline points="196.2,901.05 344.9,836.28 494.2,675.42 643.2,693.38" stroke="#2e0bff"/><polyline points="196.2,912.37 344.9,816.74 494.2,687.17 643.2,682.5" stroke="#2f0bff"/><polyline points="196.2,896.4 344.9,845.21 494.2,668.47 643.2,699.18" stroke="#2f0bff"/><polyline points="196.2,892.94 344.9,851.79 494.2,674.93 643.2,694.96" stroke="#300aff"/><polyline points="196.2,915.75 344.9,813.8 494.2,690.68 643.2,678.2" stroke="#300aff"/><polyline points="196.2,899.45 344.9,842.86 494.2,680.12 643.2,690.03" stroke="#300aff"/><polyline points="196.2,900.57 344.9,836.76 494.2,687.8 643.2,679.69" stroke="#310aff"/><polyline points="196.2,909.46 344.9,824.57 494.2,693.4 643.2,674.64" stroke="#310aff"/><polyline points="196.2,912.1 344.9,817.96 494.2,671.22 643.2,696.46" stroke="#3209ff"/><polyline points="196.2,893.25 344.9,849.93 494.2,677.41 643.2,690.19" stroke="#3209ff"/><polyline points="196.2,911.02 344.9,819.9 494.2,695.78 643.2,675.12" stroke="#3309ff"/><polyline points="196.2,895.08 344.9,847.39 494.2,687.05 643.2,682.9" stroke="#3309ff"/><polyline points="196.2,893.72 344.9,847.79 494.2,670.9 643.2,696.4" stroke="#3309ff"/><polyline points="196.2,916.93 344.9,811.95 494.2,695.91 643.2,672.58" stroke="#3408ff"/><polyline points="196.2,892.2 344.9,850.31 494.2,686.12 643.2,681.68" stroke="#3408ff"/><polyline points="196.2,898.81 344.9,841.88 494.2,675.54 643.2,693.48" stroke="#3508ff"/><polyline points="196.2,894.55 344.9,849.06 494.2,688.63 643.2,680.53" stroke="#3508ff"/><polyline points="196.2,919.12 344.9,805.2 494.2,696.99 643.2,673.64" stroke="#3508ff"/><polyline points="196.2,915.45 344.9,812.45 494.2,695.43 643.2,675.5" stroke="#3607ff"/><polyline points="196.2,894.58 344.9,847.67 494.2,678.44 643.2,690.49" stroke="#3607ff"/><polyline points="196.2,908.33 344.9,824.62 494.2,678.43 643.2,688.73" stroke="#3707ff"/><polyline points="196.2,898.47 344.9,840.71 494.2,684.13 643.2,686.27" stroke="#3707ff"/><polyline points="196.2,892.22 344.9,852.99 494.2,681.91 643.2,683.93" stroke="#3707ff"/><polyline points="196.2,917.41 344.9,809.37 494.2,694.86 643.2,673.36" stroke="#3806ff"/><polyline points="196.2,905.39 344.9,829.31 494.2,678.98 643.2,687.72" stroke="#3806ff"/><polyline points="196.2,903.83 344.9,831.57 494.2,672.04 643.2,694.9" stroke="#3906ff"/><polyline points="196.2,904.47 344.9,830.24 494.2,682.94 643.2,686.06" stroke="#3906ff"/><polyline points="196.2,893.54 344.9,852.72 494.2,686.64 643.2,681.15" stroke="#3906ff"/><polyline points="196.2,893.12 344.9,851.43 494.2,664.69 643.2,702.1" stroke="#3a05ff"/><polyline points="196.2,908.77 344.9,824.72 494.2,680.99 643.2,690.75" stroke="#3a05ff"/><polyline points="196.2,910.71 344.9,822.45 494.2,683.54 643.2,687.68" stroke="#3b05ff"/><polyline points="196.2,917.6 344.9,808.68 494.2,687.4 643.2,680.89" stroke="#3b05ff"/><polyline points="196.2,902.38 344.9,833.41 494.2,672.65 643.2,694.64" stroke="#3b05ff"/><polyline points="196.2,918.29 344.9,808.82 494.2,678.63 643.2,688.65" stroke="#3c04ff"/><polyline points="196.2,899.25 344.9,842.87 494.2,686.86 643.2,681.36" stroke="#3c04ff"/><polyline points="196.2,912.11 344.9,818.24 494.2,681.21 643.2,685.15" stroke="#3d04ff"/><polyline points="196.2,908.76 344.9,827.31 494.2,682.14 643.2,688.02" stroke="#3d04ff"/><polyline points="196.2,915.96 344.9,812.22 494.2,692.9 643.2,676.98" stroke="#3e03ff"/><polyline points="196.2,914.32 344.9,811.91 494.2,683.09 643.2,685.54" stroke="#3e03ff"/><polyline points="196.2,911.35 344.9,821.19 494.2,676.79 643.2,689.33" stroke="#3e03ff"/><polyline points="196.2,894.24 344.9,848.83 494.2,687.1 643.2,679.91" stroke="#3f03ff"/><polyline points="196.2,902.89 344.9,833.99 494.2,687.64 643.2,677.5" stroke="#3f03ff"/><polyline points="196.2,913.06 344.9,814.62 494.2,693.63 643.2,678.44" stroke="#4002ff"/><polyline points="196.2,916.1 344.9,808.57 494.2,686.65 643.2,683.59" stroke="#4002ff"/><polyline points="196.2,901.27 344.9,836.37 494.2,687.2 643.2,679.78" stroke="#4002ff"/><polyline points="196.2,907.38 344.9,827.58 494.2,686.02 643.2,682.08" stroke="#4102ff"/><polyline points="196.2,907.36 344.9,825.4 494.2,670.91 643.2,696.64" stroke="#4102ff"/><polyline points="196.2,899.15 344.9,839.41 494.2,669.9 643.2,695.48" stroke="#4201ff"/><polyline points="196.2,897.5 344.9,847.84 494.2,668.89 643.2,694.68" stroke="#4201ff"/><polyline points="196.2,917.04 344.9,811.86 494.2,678.61 643.2,687.72" stroke="#4201ff"/><polyline points="196.2,895.75 344.9,847.28 494.2,674.06 643.2,693.85" stroke="#4301ff"/><polyline points="196.2,908.07 344.9,827 494.2,675.44 643.2,691.44" stroke="#4301ff"/><polyline points="196.2,894.62 344.9,849.56 494.2,672.84 643.2,694.68" stroke="#4400ff"/><polyline points="196.2,906.87 344.9,826.32 494.2,681.4 643.2,685.98" stroke="#4400ff"/><polyline points="196.2,905.12 344.9,829.68 494.2,689.35 643.2,675.22" stroke="#4400ff"/><polyline points="196.2,916.9 344.9,810.87 494.2,689.22 643.2,678.83" stroke="#4500ff"/><polyline points="196.2,898.26 344.9,842.55 494.2,687.88 643.2,681.82" stroke="#4500ff"/><polyline points="196.2,908.19 344.9,823.86 494.2,672.53 643.2,694.09" stroke="#4700ff"/><polyline points="196.2,914.9 344.9,811.21 494.2,683.9 643.2,684.34" stroke="#4900ff"/><polyline points="196.2,911.59 344.9,817.89 494.2,679.05 643.2,688.17" stroke="#4b01ff"/><polyline points="196.2,897.6 344.9,842.5 494.2,677.28 643.2,689.86" stroke="#4e01ff"/><polyline points="196.2,899 344.9,841.83 494.2,676.65 643.2,689.65" stroke="#5002ff"/><polyline points="196.2,908.26 344.9,827.13 494.2,685.25 643.2,682.84" stroke="#5302ff"/><polyline points="196.2,906.07 344.9,829.08 494.2,683.26 643.2,687.93" stroke="#5503ff"/><polyline points="196.2,899.79 344.9,840.3 494.2,674.14 643.2,692.5" stroke="#5703ff"/><polyline points="196.2,905.72 344.9,828.94 494.2,671.55 643.2,695.77" stroke="#5a04ff"/><polyline points="196.2,914.08 344.9,815.96 494.2,681.25 643.2,684.98" stroke="#5c04ff"/><polyline points="196.2,914.78 344.9,814.49 494.2,685.11 643.2,683.31" stroke="#5f05ff"/><polyline points="196.2,908.39 344.9,825.67 494.2,681.94 643.2,688.01" stroke="#6105ff"/><polyline points="196.2,914.27 344.9,813.16 494.2,690.43 643.2,677.61" stroke="#6305ff"/><polyline points="196.2,896.5 344.9,848.78 494.2,668.88 643.2,700.56" stroke="#6606ff"/><polyline points="196.2,900.6 344.9,838.02 494.2,672.83 643.2,696.38" stroke="#6806ff"/><polyline points="196.2,913.11 344.9,814.23 494.2,680.6 643.2,685.58" stroke="#6a07ff"/><polyline points="196.2,914.16 344.9,813.87 494.2,688.5 643.2,679.22" stroke="#6d07ff"/><polyline points="196.2,911.41 344.9,818.32 494.2,678.61 643.2,690.23" stroke="#6f08ff"/><polyline points="196.2,909.51 344.9,824.64 494.2,675.29 643.2,694.47" stroke="#7208ff"/><polyline points="196.2,914.85 344.9,811.12 494.2,683.47 643.2,687.43" stroke="#7409ff"/><polyline points="196.2,903.77 344.9,833.94 494.2,677.03 643.2,692.39" stroke="#7609ff"/><polyline points="196.2,904.45 344.9,831.5 494.2,678 643.2,688.5" stroke="#790aff"/><polyline points="196.2,896.21 344.9,846.23 494.2,682.45 643.2,685.12" stroke="#7b0aff"/><polyline points="196.2,897.54 344.9,844.9 494.2,680.88 643.2,684.78" stroke="#7d0bff"/><polyline points="196.2,901.16 344.9,839.47 494.2,680.1 643.2,686.6" stroke="#800bff"/><polyline points="196.2,914.54 344.9,812.02 494.2,681.92 643.2,688.24" stroke="#820cff"/><polyline points="196.2,912.41 344.9,817.22 494.2,680.12 643.2,688.33" stroke="#850cff"/><polyline points="196.2,909.64 344.9,824.57 494.2,685.23 643.2,684.76" stroke="#870dff"/><polyline points="196.2,901.57 344.9,836.51 494.2,680.85 643.2,687.27" stroke="#890dff"/><polyline points="196.2,908.02 344.9,826.05 494.2,687.2 643.2,682.52" stroke="#8c0eff"/><polyline points="196.2,902.85 344.9,833.28 494.2,672.79 643.2,694.95" stroke="#8e0eff"/><polyline points="196.2,907.88 344.9,826.32 494.2,688.71 643.2,678.92" stroke="#900eff"/><polyline points="196.2,898.25 344.9,841.71 494.2,681.83 643.2,685.98" stroke="#930fff"/><polyline points="196.2,901.31 344.9,837.38 494.2,676.95 643.2,688.45" stroke="#950fff"/><polyline points="196.2,897.23 344.9,846.43 494.2,671.21 643.2,697.7" stroke="#9810ff"/><polyline points="196.2,901.81 344.9,836.88 494.2,685.41 643.2,684.52" stroke="#9a10ff"/><polyline points="196.2,901.88 344.9,835.81 494.2,681.79 643.2,686.17" stroke="#9c11ff"/><polyline points="196.2,913.52 344.9,817.22 494.2,684.71 643.2,684.19" stroke="#9f11ff"/><polyline points="196.2,902.6 344.9,835.64 494.2,678.72 643.2,687.85" stroke="#a112ff"/><polyline points="196.2,905.23 344.9,831.83 494.2,675.45 643.2,689.89" stroke="#a412ff"/><polyline points="196.2,900.2 344.9,840.77 494.2,672.05 643.2,696.26" stroke="#a613ff"/><polyline points="196.2,906.35 344.9,831.72 494.2,677.26 643.2,687.32" stroke="#a813ff"/><polyline points="196.2,909.19 344.9,823.73 494.2,687.95 643.2,678.88" stroke="#ab14ff"/><polyline points="196.2,905.72 344.9,829.18 494.2,678.77 643.2,687.04" stroke="#ad15ff"/><polyline points="196.2,903.75 344.9,833.55 494.2,675.1 643.2,691.42" stroke="#af15ff"/><polyline points="196.2,900.71 344.9,840.24 494.2,680.94 643.2,688.89" stroke="#b116ff"/><polyline points="196.2,912.92 344.9,815.47 494.2,679.21 643.2,688.45" stroke="#b317ff"/><polyline points="196.2,900.18 344.9,839.3 494.2,678.41 643.2,688.42" stroke="#b517ff"/><polyline points="196.2,899.9 344.9,841.26 494.2,676.54 643.2,689.84" stroke="#b718ff"/><polyline points="196.2,908.46 344.9,821.96 494.2,684.37 643.2,683.61" stroke="#b919ff"/><polyline points="196.2,904.86 344.9,831.32 494.2,681.72 643.2,686.7" stroke="#bb1aff"/><polyline points="196.2,907.74 344.9,826.09 494.2,684.55 643.2,682.26" stroke="#bd1aff"/><polyline points="196.2,913.77 344.9,817.44 494.2,681.51 643.2,685.55" stroke="#bf1bff"/><polyline points="196.2,900.68 344.9,835.59 494.2,679.52 643.2,686.41" stroke="#c11cff"/><polyline points="196.2,905.38 344.9,830.88 494.2,673.6 643.2,693.26" stroke="#c31cff"/><polyline points="196.2,907.01 344.9,826.95 494.2,681.2 643.2,689.32" stroke="#c51dff"/><polyline points="196.2,912.17 344.9,816.31 494.2,684.48 643.2,684" stroke="#c71eff"/><polyline points="196.2,902.52 344.9,833.48 494.2,679.72 643.2,688.37" stroke="#c91fff"/><polyline points="196.2,902.26 344.9,837.03 494.2,684.22 643.2,683.61" stroke="#cb1fff"/><polyline points="196.2,908.65 344.9,826.43 494.2,687.28 643.2,682.03" stroke="#cd20ff"/><polyline points="196.2,904.14 344.9,833.85 494.2,682.99 643.2,683.99" stroke="#cf21ff"/><polyline points="196.2,911.78 344.9,816.25 494.2,683.76 643.2,686.42" stroke="#d121ff"/><polyline points="196.2,901.78 344.9,836.69 494.2,678.05 643.2,688.87" stroke="#d322ff"/><polyline points="196.2,909.63 344.9,822.49 494.2,679.02 643.2,687.6" stroke="#d523ff"/><polyline points="196.2,907.75 344.9,825.16 494.2,685.3 643.2,682.16" stroke="#d724ff"/><polyline points="196.2,902.41 344.9,836.2 494.2,676.46 643.2,687.9" stroke="#d924ff"/><polyline points="196.2,906.81 344.9,829.56 494.2,676.43 643.2,693.16" stroke="#db25ff"/><polyline points="196.2,899.91 344.9,840.52 494.2,676.29 643.2,692.27" stroke="#dd26ff"/><polyline points="196.2,907.12 344.9,827.07 494.2,682.73 643.2,686.49" stroke="#df26ff"/><polyline points="196.2,910.42 344.9,821.34 494.2,684.09 643.2,683.13" stroke="#e127ff"/><polyline points="196.2,909.71 344.9,822.36 494.2,686.56 643.2,681.78" stroke="#e328ff"/><polyline points="196.2,909.69 344.9,823.86 494.2,686.24 643.2,680.9" stroke="#e529ff"/><polyline points="196.2,901.24 344.9,837.74 494.2,680.83 643.2,686.07" stroke="#e729ff"/><polyline points="196.2,911.52 344.9,816.89 494.2,684.06 643.2,682.39" stroke="#e92aff"/><polyline points="196.2,908.7 344.9,823.69 494.2,681.55 643.2,686.67" stroke="#eb2bff"/><polyline points="196.2,907.69 344.9,826.47 494.2,679.19 643.2,690.85" stroke="#ed2bff"/><polyline points="196.2,912.8 344.9,818.18 494.2,681.79 643.2,685.47" stroke="#ef2cff"/><polyline points="196.2,899.97 344.9,839.92 494.2,677.08 643.2,690.53" stroke="#f12dff"/><polyline points="196.2,911.75 344.9,817.11 494.2,684.03 643.2,682.58" stroke="#f32eff"/><polyline points="196.2,910.39 344.9,822.31 494.2,681.39 643.2,685.03" stroke="#f52eff"/><polyline points="196.2,908.6 344.9,820.87 494.2,685.94 643.2,681.1" stroke="#f72fff"/><polyline points="196.2,907.33 344.9,826.75 494.2,685.41 643.2,681.05" stroke="#f930ff"/><polyline points="196.2,900 344.9,840.43 494.2,683.13 643.2,684" stroke="#fb30ff"/><polyline points="196.2,911.4 344.9,817.83 494.2,686.49 643.2,682.35" stroke="#fd31ff"/><polyline points="196.2,905.28 344.9,831.77 494.2,674.57 643.2,692.18" stroke="#ff32ff"/><polyline points="196.2,911.75 344.9,818.74 494.2,678.91 643.2,687.96" stroke="#ff32ff"/><polyline points="196.2,904 344.9,832.79 494.2,680.22 643.2,687.04" stroke="#ff32ff"/><polyline points="196.2,910.32 344.9,822.56 494.2,684.21 643.2,686.22" stroke="#ff32ff"/><polyline points="196.2,906.34 344.9,828.79 494.2,682.49 643.2,687.07" stroke="#ff32ff"/><polyline points="196.2,907.2 344.9,827.7 494.2,675.55 643.2,690.31" stroke="#ff32ff"/><polyline points="196.2,909.73 344.9,822.13 494.2,686.19 643.2,681.18" stroke="#ff32ff"/><polyline points="196.2,908.56 344.9,824.49 494.2,679.13 643.2,688.76" stroke="#ff32ff"/><polyline points="196.2,906.28 344.9,827.24 494.2,675.67 643.2,689.74" stroke="#ff32ff"/><polyline points="196.2,907.55 344.9,827.03 494.2,676.19 643.2,692.4" stroke="#ff32ff"/><polyline points="196.2,909.19 344.9,820.32 494.2,681.29 643.2,685.47" stroke="#ff32ff"/><polyline points="196.2,908.93 344.9,823.14 494.2,683.23 643.2,683.43" stroke="#ff32ff"/><polyline points="196.2,907.44 344.9,825.95 494.2,681.68 643.2,686.22" stroke="#ff32ff"/><polyline points="196.2,906.34 344.9,828.13 494.2,684.1 643.2,682.93" stroke="#ff32ff"/><polyline points="196.2,906.28 344.9,829.68 494.2,676.44 643.2,691.31" stroke="#ff32ff"/><polyline points="196.2,901.34 344.9,837.94 494.2,678.82 643.2,688.3" stroke="#ff32ff"/><polyline points="196.2,910.63 344.9,820.41 494.2,685.98 643.2,681.54" stroke="#ff32ff"/><polyline points="196.2,904.85 344.9,831.43 494.2,679.06 643.2,689.34" stroke="#ff32ff"/><polyline points="196.2,902.43 344.9,834.95 494.2,679.6 643.2,688.82" stroke="#ff32ff"/><polyline points="196.2,907.22 344.9,826 494.2,683.83 643.2,685.43" stroke="#ff32ff"/><polyline points="196.2,908.91 344.9,824.65 494.2,682.54 643.2,685.73" stroke="#ff32ff"/><polyline points="196.2,902.35 344.9,836.89 494.2,682.21 643.2,686.1" stroke="#ff32ff"/><polyline points="196.2,908.98 344.9,821.73 494.2,684.48 643.2,683.55" stroke="#ff32ff"/><polyline points="196.2,910.8 344.9,818.34 494.2,684.71 643.2,683.6" stroke="#ff32ff"/><polyline points="196.2,907.84 344.9,823.73 494.2,678.08 643.2,688.53" stroke="#ff32ff"/><polyline points="196.2,904.92 344.9,830.18 494.2,682.03 643.2,686.42" stroke="#ff32ff"/><polyline points="196.2,910.33 344.9,820.53 494.2,680.02 643.2,686.83" stroke="#ff32ff"/><polyline points="196.2,903.44 344.9,834.43 494.2,682.03 643.2,687.22" stroke="#ff32ff"/><polyline points="196.2,905.75 344.9,829.55 494.2,683.11 643.2,683.22" stroke="#ff32ff"/><polyline points="196.2,908.36 344.9,824.83 494.2,680.42 643.2,684.71" stroke="#ff32ff"/><polyline points="196.2,905.87 344.9,831.12 494.2,676.68 643.2,690.76" stroke="#ff32ff"/><polyline points="196.2,910.4 344.9,819.9 494.2,679.88 643.2,685.85" stroke="#ff32ff"/><polyline points="196.2,904.93 344.9,830.07 494.2,679.85 643.2,687.8" stroke="#ff32ff"/><polyline points="196.2,902.19 344.9,837.34 494.2,681.83 643.2,685.13" stroke="#ff32ff"/><polyline points="196.2,910.1 344.9,823.36 494.2,684.89 643.2,683.81" stroke="#ff32ff"/><polyline points="196.2,904.74 344.9,830.59 494.2,683.28 643.2,683.52" stroke="#ff32ff"/><polyline points="196.2,909.27 344.9,823.71 494.2,680.28 643.2,686.57" stroke="#ff32ff"/><polyline points="196.2,903.92 344.9,833.84 494.2,682.24 643.2,682.49" stroke="#ff32ff"/><polyline points="196.2,902.73 344.9,837.21 494.2,681.2 643.2,688.61" stroke="#ff32ff"/><polyline points="196.2,901.51 344.9,837.74 494.2,674.97 643.2,692.06" stroke="#ff32ff"/><polyline points="196.2,903.26 344.9,832.34 494.2,678.04 643.2,688.63" stroke="#ff32ff"/><polyline points="196.2,903.11 344.9,834.31 494.2,682.35 643.2,682.82" stroke="#ff32ff"/><polyline points="196.2,905.95 344.9,828.35 494.2,681.31 643.2,684.68" stroke="#ff32ff"/><polyline points="196.2,902.31 344.9,837.68 494.2,681.49 643.2,685.67" stroke="#ff32ff"/><polyline points="196.2,904.23 344.9,833 494.2,680.02 643.2,685.07" stroke="#ff32ff"/><polyline points="196.2,907.67 344.9,823.89 494.2,678.34 643.2,687.73" stroke="#ff32ff"/><polyline points="196.2,906.9 344.9,827.02 494.2,681.13 643.2,686.86" stroke="#ff32ff"/><polyline points="196.2,904.18 344.9,835.33 494.2,678.64 643.2,688.11" stroke="#ff32ff"/><polyline points="196.2,909.94 344.9,823.28 494.2,679.48 643.2,686.95" stroke="#ff32ff"/><polyline points="196.2,906.29 344.9,827.47 494.2,677.44 643.2,690.49" stroke="#ff32ff"/><polyline points="196.2,903.95 344.9,832.11 494.2,678.87 643.2,688" stroke="#ff32ff"/><polyline points="196.2,907.54 344.9,827.45 494.2,680.4 643.2,686.59" stroke="#ff32ff"/><polyline points="196.2,903.88 344.9,834.26 494.2,680.7 643.2,686.82" stroke="#ff32ff"/><polyline points="196.2,904.8 344.9,831.46 494.2,679.08 643.2,688.65" stroke="#ff32ff"/><polyline points="196.2,902.2 344.9,837.42 494.2,680.18 643.2,687.92" stroke="#ff32ff"/><polyline points="196.2,903.81 344.9,833.39 494.2,680.96 643.2,685.64" stroke="#ff32ff"/><polyline points="196.2,909.53 344.9,823 494.2,681.02 643.2,683.45" stroke="#ff32ff"/><polyline points="196.2,906.34 344.9,828.11 494.2,681.44 643.2,688.19" stroke="#ff32ff"/><polyline points="196.2,907.46 344.9,825.22 494.2,680.7 643.2,685.4" stroke="#ff32ff"/><polyline points="196.2,906.52 344.9,826.79 494.2,681.31 643.2,686.18" stroke="#ff32ff"/><polyline points="196.2,905.26 344.9,829.17 494.2,681.23 643.2,686.29" stroke="#ff32ff"/><polyline points="196.2,902.68 344.9,832.8 494.2,679.73 643.2,688.1" stroke="#ff32ff"/><polyline points="196.2,906.77 344.9,827.61 494.2,680.72 643.2,685.56" stroke="#ff32ff"/><polyline points="196.2,905.16 344.9,832.54 494.2,681.78 643.2,687.49" stroke="#ff32ff"/><polyline points="196.2,903.34 344.9,832.95 494.2,681.92 643.2,684.51" stroke="#ff32ff"/><polyline points="196.2,902.97 344.9,835.75 494.2,676.71 643.2,690.85" stroke="#ff32ff"/><polyline points="196.2,906.75 344.9,829.07 494.2,682.18 643.2,686.16" stroke="#ff32ff"/><polyline points="196.2,903.94 344.9,832.39 494.2,679.86 643.2,688.93" stroke="#ff32ff"/><polyline points="196.2,905.65 344.9,832.53 494.2,680.79 643.2,687.99" stroke="#ff32ff"/><polyline points="196.2,906.68 344.9,828.32 494.2,682.58 643.2,685.26" stroke="#ff32ff"/><polyline points="196.2,907.24 344.9,825.17 494.2,680.93 643.2,684.88" stroke="#ff32ff"/><polyline points="196.2,907.45 344.9,825.25 494.2,678.66 643.2,688.39" stroke="#ff32ff"/><polyline points="196.2,906.12 344.9,830.2 494.2,680.7 643.2,687.63" stroke="#ff32ff"/><polyline points="196.2,906.95 344.9,827.31 494.2,681.85 643.2,685.26" stroke="#ff32ff"/><polyline points="196.2,906.08 344.9,828.44 494.2,681.35 643.2,685.79" stroke="#ff32ff"/><polyline points="196.2,907.44 344.9,826.74 494.2,679.75 643.2,687.69" stroke="#ff32ff"/><polyline points="196.2,908.42 344.9,826.28 494.2,682.32 643.2,684.52" stroke="#ff32ff"/><polyline points="196.2,905.28 344.9,831.78 494.2,678.73 643.2,689.79" stroke="#ff32ff"/><polyline points="196.2,904.5 344.9,832.63 494.2,679.3 643.2,688.91" stroke="#ff32ff"/><polyline points="196.2,904.98 344.9,831.21 494.2,678.9 643.2,688.91" stroke="#ff32ff"/><polyline points="196.2,907.54 344.9,825.05 494.2,679.27 643.2,688.38" stroke="#ff32ff"/><polyline points="196.2,903.67 344.9,835.03 494.2,677.61 643.2,689.49" stroke="#ff32ff"/><polyline points="196.2,906.62 344.9,826.79 494.2,679.01 643.2,689.41" stroke="#ff32ff"/><polyline points="196.2,906.61 344.9,828.21 494.2,679.77 643.2,689.64" stroke="#ff32ff"/><polyline points="196.2,906.09 344.9,830.3 494.2,679 643.2,689.79" stroke="#ff32ff"/><polyline points="196.2,908.03 344.9,825.39 494.2,680.58 643.2,684.92" stroke="#ff32ff"/><polyline points="196.2,906.79 344.9,828.63 494.2,678.83 643.2,689.5" stroke="#ff32ff"/><polyline points="196.2,906.82 344.9,827.43 494.2,680.41 643.2,688.64" stroke="#ff32ff"/><polyline points="196.2,905.27 344.9,831.77 494.2,679.03 643.2,686.67" stroke="#ff32ff"/><polyline points="196.2,906.46 344.9,828.04 494.2,679.35 643.2,689.58" stroke="#ff32ff"/><polyline points="196.2,907.48 344.9,825.95 494.2,681.27 643.2,688.4" stroke="#ff32ff"/><polyline points="196.2,904.23 344.9,833.58 494.2,679.17 643.2,687.94" stroke="#ff32ff"/><polyline points="196.2,906.27 344.9,831.2 494.2,681.21 643.2,683.68" stroke="#ff32ff"/><polyline points="196.2,905.97 344.9,830.22 494.2,679.45 643.2,687.57" stroke="#ff32ff"/><polyline points="196.2,904.25 344.9,831.21 494.2,678.59 643.2,688.65" stroke="#ff32ff"/><polyline points="196.2,907.07 344.9,827.55 494.2,679.53 643.2,686.39" stroke="#ff32ff"/><polyline points="196.2,905.51 344.9,829.13 494.2,679.22 643.2,687.13" stroke="#ff32ff"/><polyline points="196.2,904.9 344.9,831.59 494.2,680.67 643.2,689.45" stroke="#ff32ff"/><polyline points="196.2,907.23 344.9,825.57 494.2,679.5 643.2,687.37" stroke="#ff32ff"/><polyline points="196.2,905.66 344.9,831 494.2,679.25 643.2,687.54" stroke="#ff32ff"/><polyline points="196.2,904.6 344.9,832.53 494.2,679.59 643.2,687.1" stroke="#ff32ff"/><polyline points="196.2,905.43 344.9,830.07 494.2,678.87 643.2,687.9" stroke="#ff32ff"/><polyline points="196.2,906.38 344.9,827.9 494.2,680.88 643.2,686.11" stroke="#ff32ff"/><polyline points="196.2,906.31 344.9,829.58 494.2,679.38 643.2,688.04" stroke="#ff32ff"/><polyline points="196.2,906.86 344.9,829.56 494.2,680.67 643.2,688.27" stroke="#ff32ff"/><polyline points="196.2,905.27 344.9,827.85 494.2,679.24 643.2,687.25" stroke="#ff32ff"/><polyline points="196.2,905.87 344.9,827.95 494.2,679.6 643.2,686.36" stroke="#ff32ff"/><polyline points="196.2,905.08 344.9,831.53 494.2,679.11 643.2,687.11" stroke="#ff32ff"/><polyline points="196.2,906.52 344.9,827.59 494.2,679.58 643.2,685.76" stroke="#ff32ff"/><polyline points="196.2,906.16 344.9,828.54 494.2,680.04 643.2,687.15" stroke="#ff32ff"/><polyline points="196.2,905.51 344.9,828.11 494.2,679.49 643.2,687.43" stroke="#ff32ff"/><polyline points="196.2,905.61 344.9,829.69 494.2,680.54 643.2,686.77" stroke="#ff32ff"/><polyline points="196.2,905.47 344.9,830.72 494.2,679.96 643.2,686.05" stroke="#ff32ff"/><polyline points="196.2,906.59 344.9,828.61 494.2,680.1 643.2,686.28" stroke="#ff32ff"/><polyline points="196.2,906.36 344.9,829.01 494.2,680.65 643.2,685.16" stroke="#ff32ff"/><polyline points="196.2,905.48 344.9,830.6 494.2,680.12 643.2,686.57" stroke="#ff32ff"/><polyline points="196.2,906.22 344.9,829.85 494.2,679.81 643.2,690.13" stroke="#ff32ff"/><polyline points="196.2,906.12 344.9,830.63 494.2,679.8 643.2,687.8" stroke="#ff32ff"/><polyline points="196.2,906.16 344.9,826.62 494.2,680.34 643.2,687.16" stroke="#ff32ff"/><polyline points="196.2,905.84 344.9,827.2 494.2,680.27 643.2,686.95" stroke="#ff32ff"/><polyline points="196.2,905.77 344.9,829.45 494.2,680.19 643.2,687.63" stroke="#ff32ff"/><polyline points="196.2,906.16 344.9,829.36 494.2,680.26 643.2,684.5" stroke="#ff32ff"/><polyline points="196.2,905.94 344.9,830.73 494.2,680.16 643.2,687.46" stroke="#ff32ff"/><polyline points="196.2,905.81 344.9,829.11 494.2,680.01 643.2,687.52" stroke="#ff32ff"/><polyline points="196.2,905.89 344.9,828.17 494.2,680.01 643.2,686.97" stroke="#ff32ff"/><polyline points="196.2,905.92 344.9,828.6 494.2,680.07 643.2,689.72" stroke="#ff32ff"/></g>
<polyline points="196.2,902.57 344.9,829.34 494.2,687.92 643.2,694.41" fill="none" stroke="#000" stroke-width="1"/>
<text x="752.7" y="537.6" font-size="57" font-weight="bold" textLength="35.08" lengthAdjust="spacingAndGlyphs">d</text>
<rect x="1515.3" y="543.2" width="361.35" height="26" fill="#2b4b95"/>
<line x1="1491.8" y1="556.2" x2="1497" y2="556.2" stroke="#333" stroke-width="2.6"/>
<text x="1047.55" y="570" font-size="32.7">embryonic organ development</text>
<rect x="1515.3" y="595.55" width="206.09" height="26" fill="#c0dcec"/>
<line x1="1491.8" y1="608.55" x2="1497" y2="608.55" stroke="#333" stroke-width="2.6"/>
<text x="1188.97" y="617.7" font-size="32.7">cell fate commitment</text>
<rect x="1515.3" y="647.9" width="166.99" height="26" fill="#e9eff8"/>
<line x1="1491.8" y1="660.9" x2="1497" y2="660.9" stroke="#333" stroke-width="2.6"/>
<text x="1157.36" y="669.4" font-size="32.7">stem cell differentiation</text>
<rect x="1515.3" y="700.25" width="166.99" height="26" fill="#eaf0f9"/>
<line x1="1491.8" y1="713.25" x2="1497" y2="713.25" stroke="#333" stroke-width="2.6"/>
<text x="674.19" y="722.6" font-size="32.7" fill="#e8191e">adenylate cyclase−modulating GPCR signaling pathway</text>
<rect x="1515.3" y="752.6" width="161.97" height="26" fill="#3566aa"/>
<line x1="1491.8" y1="765.6" x2="1497" y2="765.6" stroke="#333" stroke-width="2.6"/>
<text x="1112.55" y="775.1" font-size="32.7">endothelium development</text>
<rect x="1515.3" y="804.95" width="122.31" height="26" fill="#93c5de"/>
<line x1="1491.8" y1="817.95" x2="1497" y2="817.95" stroke="#333" stroke-width="2.6"/>
<text x="1068.45" y="827.4" font-size="32.7">endothelial cell differentiation</text>
<rect x="1515.3" y="857.3" width="117.06" height="26" fill="#a8d1e5"/>
<line x1="1491.8" y1="870.3" x2="1497" y2="870.3" stroke="#333" stroke-width="2.6"/>
<text x="1181.27" y="879.4" font-size="32.7">stem cell proliferation</text>
<rect x="1515.3" y="909.65" width="94.94" height="26" fill="#c3d9ed"/>
<line x1="1491.8" y1="922.65" x2="1497" y2="922.65" stroke="#333" stroke-width="2.6"/>
<text x="815.99" y="932.6" font-size="32.7">hematopoietic or lymphoid organ development</text>
<rect x="1515.3" y="962" width="72.33" height="26" fill="#bddbed"/>
<line x1="1491.8" y1="975" x2="1497" y2="975" stroke="#333" stroke-width="2.6"/>
<text x="1076.25" y="985.1" font-size="32.7">endothelial cell development</text>
<rect x="1515.3" y="1014.35" width="44.12" height="26" fill="#e4edf8"/>
<line x1="1491.8" y1="1027.35" x2="1497" y2="1027.35" stroke="#333" stroke-width="2.6"/>
<text x="969.36" y="1037" font-size="32.7">hematopoietic stem cell proliferation</text>
<rect x="1497.3" y="524.4" width="398.9" height="534" fill="none" stroke="#140c0c" stroke-width="3.8"/>
<line x1="1515.3" y1="1058" x2="1515.3" y2="1063.5" stroke="#333" stroke-width="2.6"/>
<line x1="1627" y1="1058" x2="1627" y2="1063.5" stroke="#333" stroke-width="2.6"/>
<line x1="1738.7" y1="1058" x2="1738.7" y2="1063.5" stroke="#333" stroke-width="2.6"/>
<line x1="1850.4" y1="1058" x2="1850.4" y2="1063.5" stroke="#333" stroke-width="2.6"/>
<text x="1507.06" y="1089" font-size="33">0</text>
<text x="1609.74" y="1089" font-size="33">20</text>
<text x="1721.93" y="1089" font-size="33">40</text>
<text x="1833.14" y="1089" font-size="33">60</text>
<text x="1647.97" y="1135.5" font-size="32.57">Count</text>
<text transform="translate(1928.5,775) rotate(-90)" x="-25.74" y="0" font-size="33">GO</text>
<text x="1669.96" y="865.4" font-size="32.79">−log10(pvalue)</text>
<rect x="1756.7" y="877.9" width="28.5" height="143" fill="url(#gob)"/>
<line x1="1756.7" y1="897.3" x2="1762.5" y2="897.3" stroke="#fff" stroke-width="1.3"/>
<line x1="1779.4" y1="897.3" x2="1785.2" y2="897.3" stroke="#fff" stroke-width="1.3"/>
<text x="1793.74" y="907.1" font-size="25">6</text>
<line x1="1756.7" y1="929.7" x2="1762.5" y2="929.7" stroke="#fff" stroke-width="1.3"/>
<line x1="1779.4" y1="929.7" x2="1785.2" y2="929.7" stroke="#fff" stroke-width="1.3"/>
<text x="1793.86" y="939.5" font-size="25">5</text>
<line x1="1756.7" y1="962.2" x2="1762.5" y2="962.2" stroke="#fff" stroke-width="1.3"/>
<line x1="1779.4" y1="962.2" x2="1785.2" y2="962.2" stroke="#fff" stroke-width="1.3"/>
<text x="1793.99" y="972" font-size="25">4</text>
<line x1="1756.7" y1="994.9" x2="1762.5" y2="994.9" stroke="#fff" stroke-width="1.3"/>
<line x1="1779.4" y1="994.9" x2="1785.2" y2="994.9" stroke="#fff" stroke-width="1.3"/>
<text x="1793.86" y="1004.7" font-size="25">3</text>
<text x="0.88" y="1167" font-size="57" font-weight="bold" textLength="32.21" lengthAdjust="spacingAndGlyphs">e</text>
<text x="683.37" y="1170.1" font-size="32.88">Days of differentiation</text>
<rect x="226.3" y="1249.8" width="100" height="39.3" fill="#42fa07"/>
<rect x="329.55" y="1249.8" width="100" height="39.3" fill="#42fa07"/>
<rect x="432.8" y="1249.8" width="100" height="39.3" fill="#42fa07"/>
<rect x="536.05" y="1249.8" width="100" height="39.3" fill="#2c0304"/>
<rect x="639.3" y="1249.8" width="100" height="39.3" fill="#1a3b0d"/>
<rect x="742.55" y="1249.8" width="100" height="39.3" fill="#0e290b"/>
<rect x="845.8" y="1249.8" width="100" height="39.3" fill="#d42814"/>
<rect x="949.05" y="1249.8" width="100" height="39.3" fill="#d62815"/>
<rect x="1052.3" y="1249.8" width="100" height="39.3" fill="#e42414"/>
<rect x="1155.55" y="1249.8" width="100" height="39.3" fill="#e02414"/>
<rect x="1258.8" y="1249.8" width="100" height="39.3" fill="#e22414"/>
<rect x="1362.05" y="1249.8" width="100" height="39.3" fill="#c42614"/>
<rect x="226.3" y="1292.22" width="100" height="39.3" fill="#4af520"/>
<rect x="329.55" y="1292.22" width="100" height="39.3" fill="#4af520"/>
<rect x="432.8" y="1292.22" width="100" height="39.3" fill="#4af520"/>
<rect x="536.05" y="1292.22" width="100" height="39.3" fill="#4af520"/>
<rect x="639.3" y="1292.22" width="100" height="39.3" fill="#4af520"/>
<rect x="742.55" y="1292.22" width="100" height="39.3" fill="#4af520"/>
<rect x="845.8" y="1292.22" width="100" height="39.3" fill="#d82614"/>
<rect x="949.05" y="1292.22" width="100" height="39.3" fill="#ff1c0e"/>
<rect x="1052.3" y="1292.22" width="100" height="39.3" fill="#d22814"/>
<rect x="1155.55" y="1292.22" width="100" height="39.3" fill="#e02414"/>
<rect x="1258.8" y="1292.22" width="100" height="39.3" fill="#e42414"/>
<rect x="1362.05" y="1292.22" width="100" height="39.3" fill="#d42814"/>
<rect x="226.3" y="1334.64" width="100" height="39.3" fill="#45ee26"/>
<rect x="329.55" y="1334.64" width="100" height="39.3" fill="#45ee26"/>
<rect x="432.8" y="1334.64" width="100" height="39.3" fill="#45ee26"/>
<rect x="536.05" y="1334.64" width="100" height="39.3" fill="#4af520"/>
<rect x="639.3" y="1334.64" width="100" height="39.3" fill="#4af520"/>
<rect x="742.55" y="1334.64" width="100" height="39.3" fill="#4af520"/>
<rect x="845.8" y="1334.64" width="100" height="39.3" fill="#285a18"/>
<rect x="949.05" y="1334.64" width="100" height="39.3" fill="#100202"/>
<rect x="1052.3" y="1334.64" width="100" height="39.3" fill="#0a1608"/>
<rect x="1155.55" y="1334.64" width="100" height="39.3" fill="#ff1c0e"/>
<rect x="1258.8" y="1334.64" width="100" height="39.3" fill="#ff1c0e"/>
<rect x="1362.05" y="1334.64" width="100" height="39.3" fill="#ff1c0e"/>
<rect x="226.3" y="1377.06" width="100" height="39.3" fill="#44f318"/>
<rect x="329.55" y="1377.06" width="100" height="39.3" fill="#44f318"/>
<rect x="432.8" y="1377.06" width="100" height="39.3" fill="#44f318"/>
<rect x="536.05" y="1377.06" width="100" height="39.3" fill="#2c0304"/>
<rect x="639.3" y="1377.06" width="100" height="39.3" fill="#2e7a1f"/>
<rect x="742.55" y="1377.06" width="100" height="39.3" fill="#110203"/>
<rect x="845.8" y="1377.06" width="100" height="39.3" fill="#327f22"/>
<rect x="949.05" y="1377.06" width="100" height="39.3" fill="#020a02"/>
<rect x="1052.3" y="1377.06" width="100" height="39.3" fill="#1e4a12"/>
<rect x="1155.55" y="1377.06" width="100" height="39.3" fill="#ff1c0e"/>
<rect x="1258.8" y="1377.06" width="100" height="39.3" fill="#ff1c0e"/>
<rect x="1362.05" y="1377.06" width="100" height="39.3" fill="#ec2010"/>
<rect x="226.3" y="1419.48" width="100" height="39.3" fill="#48f622"/>
<rect x="329.55" y="1419.48" width="100" height="39.3" fill="#48f622"/>
<rect x="432.8" y="1419.48" width="100" height="39.3" fill="#48f622"/>
<rect x="536.05" y="1419.48" width="100" height="39.3" fill="#2d6d1f"/>
<rect x="639.3" y="1419.48" width="100" height="39.3" fill="#2d6d1f"/>
<rect x="742.55" y="1419.48" width="100" height="39.3" fill="#2d6d1f"/>
<rect x="845.8" y="1419.48" width="100" height="39.3" fill="#4bfa22"/>
<rect x="949.05" y="1419.48" width="100" height="39.3" fill="#ee1c0e"/>
<rect x="1052.3" y="1419.48" width="100" height="39.3" fill="#46c624"/>
<rect x="1155.55" y="1419.48" width="100" height="39.3" fill="#921a10"/>
<rect x="1258.8" y="1419.48" width="100" height="39.3" fill="#76100c"/>
<rect x="1362.05" y="1419.48" width="100" height="39.3" fill="#ff1c0e"/>
<rect x="226.3" y="1461.9" width="100" height="39.3" fill="#43a627"/>
<rect x="329.55" y="1461.9" width="100" height="39.3" fill="#43a627"/>
<rect x="432.8" y="1461.9" width="100" height="39.3" fill="#43a627"/>
<rect x="536.05" y="1461.9" width="100" height="39.3" fill="#43a627"/>
<rect x="639.3" y="1461.9" width="100" height="39.3" fill="#43a627"/>
<rect x="742.55" y="1461.9" width="100" height="39.3" fill="#43a627"/>
<rect x="845.8" y="1461.9" width="100" height="39.3" fill="#44aa28"/>
<rect x="949.05" y="1461.9" width="100" height="39.3" fill="#44aa28"/>
<rect x="1052.3" y="1461.9" width="100" height="39.3" fill="#44aa28"/>
<rect x="1155.55" y="1461.9" width="100" height="39.3" fill="#ff1c0e"/>
<rect x="1258.8" y="1461.9" width="100" height="39.3" fill="#44aa28"/>
<rect x="1362.05" y="1461.9" width="100" height="39.3" fill="#ff1c0e"/>
<text x="339.29" y="1223.2" font-size="32.63">Day 0</text>
<line x1="256.6" y1="1236.5" x2="507.1" y2="1236.5" stroke="#111" stroke-width="3.3"/>
<text x="647.79" y="1223.2" font-size="32.65">Day 3</text>
<line x1="564.8" y1="1236.5" x2="814.9" y2="1236.5" stroke="#111" stroke-width="3.3"/>
<text x="953.55" y="1223.2" font-size="33.17">Day 6</text>
<line x1="872.3" y1="1236.5" x2="1122.3" y2="1236.5" stroke="#111" stroke-width="3.3"/>
<text x="1265.81" y="1223.2" font-size="33.6">Day 9</text>
<line x1="1182.6" y1="1236.5" x2="1433.6" y2="1236.5" stroke="#111" stroke-width="3.3"/>
<text x="1473" y="1282.5" font-size="32.7">ADGRG1</text>
<text x="1470.38" y="1324.4" font-size="32.7" fill="#e8191e">ELTD1(ADGRL4)</text>
<text x="1473" y="1367.4" font-size="32.7">ADGRE2</text>
<text x="1473" y="1409.8" font-size="32.7">ADGRD1</text>
<text x="1473" y="1451.1" font-size="32.7">ADGRG7</text>
<text x="1473" y="1494.2" font-size="32.7">ADGRG4</text>
<path d="M222.8,1269.45 H150.2 V1311.87 H222.8 M222.8,1354.29 H145.4 V1396.71 H222.8 M222.8,1439.13 H112.5 V1481.55 H222.8 M145.4,1375.5 H104.5 V1460.34 H112.5 M150.2,1290.66 H64.7 V1417.92 H104.5" fill="none" stroke="#111" stroke-width="2.6" stroke-linejoin="miter" stroke-linecap="butt"/>
<rect x="1758.3" y="1251.3" width="21.3" height="248.8" fill="url(#rgb1)"/>
<text x="1793.56" y="1276.6" font-size="32.47">1.5</text>
<text x="1807.26" y="1383.9" font-size="33">0</text>
<text x="1783.87" y="1492.4" font-size="32.52">−1.5</text>
<text x="2.49" y="1588.3" font-size="57" font-weight="bold" textLength="20.19" lengthAdjust="spacingAndGlyphs">f</text>
<text x="337.97" y="1580.1" font-size="32.83">Days of differentiation</text>
<rect x="119.7" y="1658.3" width="59.5" height="56" fill="#4cfc1f"/>
<rect x="182.82" y="1658.3" width="59.5" height="56" fill="#4cfc1f"/>
<rect x="245.94" y="1658.3" width="59.5" height="56" fill="#4cfc1f"/>
<rect x="309.06" y="1658.3" width="59.5" height="56" fill="#4cfc1f"/>
<rect x="372.18" y="1658.3" width="59.5" height="56" fill="#4cfc1f"/>
<rect x="435.3" y="1658.3" width="59.5" height="56" fill="#4cfc1f"/>
<rect x="498.42" y="1658.3" width="59.5" height="56" fill="#b41e12"/>
<rect x="561.54" y="1658.3" width="59.5" height="56" fill="#ea2010"/>
<rect x="624.66" y="1658.3" width="59.5" height="56" fill="#9c1a10"/>
<rect x="687.78" y="1658.3" width="59.5" height="56" fill="#cc2214"/>
<rect x="750.9" y="1658.3" width="59.5" height="56" fill="#d82414"/>
<rect x="814.02" y="1658.3" width="59.5" height="56" fill="#a01c12"/>
<rect x="119.7" y="1717.84" width="59.5" height="56" fill="#4cfc1f"/>
<rect x="182.82" y="1717.84" width="59.5" height="56" fill="#4cfc1f"/>
<rect x="245.94" y="1717.84" width="59.5" height="56" fill="#4cfc1f"/>
<rect x="309.06" y="1717.84" width="59.5" height="56" fill="#4cfc1f"/>
<rect x="372.18" y="1717.84" width="59.5" height="56" fill="#4cfc1f"/>
<rect x="435.3" y="1717.84" width="59.5" height="56" fill="#4cfc1f"/>
<rect x="498.42" y="1717.84" width="59.5" height="56" fill="#a01a10"/>
<rect x="561.54" y="1717.84" width="59.5" height="56" fill="#bc2012"/>
<rect x="624.66" y="1717.84" width="59.5" height="56" fill="#6e0e08"/>
<rect x="687.78" y="1717.84" width="59.5" height="56" fill="#d62414"/>
<rect x="750.9" y="1717.84" width="59.5" height="56" fill="#dc2212"/>
<rect x="814.02" y="1717.84" width="59.5" height="56" fill="#e22212"/>
<rect x="119.7" y="1777.38" width="59.5" height="56" fill="#44fc0c"/>
<rect x="182.82" y="1777.38" width="59.5" height="56" fill="#44fc0c"/>
<rect x="245.94" y="1777.38" width="59.5" height="56" fill="#44fc0c"/>
<rect x="309.06" y="1777.38" width="59.5" height="56" fill="#2a6a1a"/>
<rect x="372.18" y="1777.38" width="59.5" height="56" fill="#22561a"/>
<rect x="435.3" y="1777.38" width="59.5" height="56" fill="#2a601a"/>
<rect x="498.42" y="1777.38" width="59.5" height="56" fill="#8a160c"/>
<rect x="561.54" y="1777.38" width="59.5" height="56" fill="#96180e"/>
<rect x="624.66" y="1777.38" width="59.5" height="56" fill="#78100a"/>
<rect x="687.78" y="1777.38" width="59.5" height="56" fill="#d42414"/>
<rect x="750.9" y="1777.38" width="59.5" height="56" fill="#d42414"/>
<rect x="814.02" y="1777.38" width="59.5" height="56" fill="#d62414"/>
<rect x="119.7" y="1836.92" width="59.5" height="56" fill="#48fc1c"/>
<rect x="182.82" y="1836.92" width="59.5" height="56" fill="#48fc1c"/>
<rect x="245.94" y="1836.92" width="59.5" height="56" fill="#48fc1c"/>
<rect x="309.06" y="1836.92" width="59.5" height="56" fill="#4cfc22"/>
<rect x="372.18" y="1836.92" width="59.5" height="56" fill="#4cfc22"/>
<rect x="435.3" y="1836.92" width="59.5" height="56" fill="#4ce820"/>
<rect x="498.42" y="1836.92" width="59.5" height="56" fill="#d02414"/>
<rect x="561.54" y="1836.92" width="59.5" height="56" fill="#d42414"/>
<rect x="624.66" y="1836.92" width="59.5" height="56" fill="#d22414"/>
<rect x="687.78" y="1836.92" width="59.5" height="56" fill="#c22214"/>
<rect x="750.9" y="1836.92" width="59.5" height="56" fill="#c02214"/>
<rect x="814.02" y="1836.92" width="59.5" height="56" fill="#a81c12"/>
<rect x="119.7" y="1896.46" width="59.5" height="56" fill="#44fc0c"/>
<rect x="182.82" y="1896.46" width="59.5" height="56" fill="#44fc0c"/>
<rect x="245.94" y="1896.46" width="59.5" height="56" fill="#44fc0c"/>
<rect x="309.06" y="1896.46" width="59.5" height="56" fill="#225a14"/>
<rect x="372.18" y="1896.46" width="59.5" height="56" fill="#2e721e"/>
<rect x="435.3" y="1896.46" width="59.5" height="56" fill="#2a6a1c"/>
<rect x="498.42" y="1896.46" width="59.5" height="56" fill="#e22010"/>
<rect x="561.54" y="1896.46" width="59.5" height="56" fill="#d82414"/>
<rect x="624.66" y="1896.46" width="59.5" height="56" fill="#e02012"/>
<rect x="687.78" y="1896.46" width="59.5" height="56" fill="#780e0a"/>
<rect x="750.9" y="1896.46" width="59.5" height="56" fill="#320a04"/>
<rect x="814.02" y="1896.46" width="59.5" height="56" fill="#380606"/>
<rect x="119.7" y="1956" width="59.5" height="56" fill="#4cfc1f"/>
<rect x="182.82" y="1956" width="59.5" height="56" fill="#4cfc1f"/>
<rect x="245.94" y="1956" width="59.5" height="56" fill="#4cfc1f"/>
<rect x="309.06" y="1956" width="59.5" height="56" fill="#4cfc1f"/>
<rect x="372.18" y="1956" width="59.5" height="56" fill="#4cfc1f"/>
<rect x="435.3" y="1956" width="59.5" height="56" fill="#4cfc1f"/>
<rect x="498.42" y="1956" width="59.5" height="56" fill="#2e7e1c"/>
<rect x="561.54" y="1956" width="59.5" height="56" fill="#358a20"/>
<rect x="624.66" y="1956" width="59.5" height="56" fill="#3a9a22"/>
<rect x="687.78" y="1956" width="59.5" height="56" fill="#f61e0e"/>
<rect x="750.9" y="1956" width="59.5" height="56" fill="#f61e0e"/>
<rect x="814.02" y="1956" width="59.5" height="56" fill="#f41e10"/>
<rect x="119.7" y="2015.54" width="59.5" height="56" fill="#44fc0c"/>
<rect x="182.82" y="2015.54" width="59.5" height="56" fill="#44fc0c"/>
<rect x="245.94" y="2015.54" width="59.5" height="56" fill="#44fc0c"/>
<rect x="309.06" y="2015.54" width="59.5" height="56" fill="#400606"/>
<rect x="372.18" y="2015.54" width="59.5" height="56" fill="#300c06"/>
<rect x="435.3" y="2015.54" width="59.5" height="56" fill="#2e0e08"/>
<rect x="498.42" y="2015.54" width="59.5" height="56" fill="#9c1a10"/>
<rect x="561.54" y="2015.54" width="59.5" height="56" fill="#a81c12"/>
<rect x="624.66" y="2015.54" width="59.5" height="56" fill="#d42414"/>
<rect x="687.78" y="2015.54" width="59.5" height="56" fill="#9c1a10"/>
<rect x="750.9" y="2015.54" width="59.5" height="56" fill="#640c08"/>
<rect x="814.02" y="2015.54" width="59.5" height="56" fill="#360606"/>
<rect x="119.7" y="2075.08" width="59.5" height="56" fill="#44fc0c"/>
<rect x="182.82" y="2075.08" width="59.5" height="56" fill="#44fc0c"/>
<rect x="245.94" y="2075.08" width="59.5" height="56" fill="#44fc0c"/>
<rect x="309.06" y="2075.08" width="59.5" height="56" fill="#281808"/>
<rect x="372.18" y="2075.08" width="59.5" height="56" fill="#261808"/>
<rect x="435.3" y="2075.08" width="59.5" height="56" fill="#300e0a"/>
<rect x="498.42" y="2075.08" width="59.5" height="56" fill="#961a0e"/>
<rect x="561.54" y="2075.08" width="59.5" height="56" fill="#bc2014"/>
<rect x="624.66" y="2075.08" width="59.5" height="56" fill="#380606"/>
<rect x="687.78" y="2075.08" width="59.5" height="56" fill="#961a0e"/>
<rect x="750.9" y="2075.08" width="59.5" height="56" fill="#b41e12"/>
<rect x="814.02" y="2075.08" width="59.5" height="56" fill="#ae1e12"/>
<rect x="119.7" y="2134.62" width="59.5" height="56" fill="#44fc0c"/>
<rect x="182.82" y="2134.62" width="59.5" height="56" fill="#44fc0c"/>
<rect x="245.94" y="2134.62" width="59.5" height="56" fill="#44fc0c"/>
<rect x="309.06" y="2134.62" width="59.5" height="56" fill="#327a20"/>
<rect x="372.18" y="2134.62" width="59.5" height="56" fill="#1a3e10"/>
<rect x="435.3" y="2134.62" width="59.5" height="56" fill="#4a0c0c"/>
<rect x="498.42" y="2134.62" width="59.5" height="56" fill="#d42414"/>
<rect x="561.54" y="2134.62" width="59.5" height="56" fill="#dc2212"/>
<rect x="624.66" y="2134.62" width="59.5" height="56" fill="#76100a"/>
<rect x="687.78" y="2134.62" width="59.5" height="56" fill="#8c160e"/>
<rect x="750.9" y="2134.62" width="59.5" height="56" fill="#761008"/>
<rect x="814.02" y="2134.62" width="59.5" height="56" fill="#901a0e"/>
<rect x="119.7" y="2194.16" width="59.5" height="56" fill="#48fc1c"/>
<rect x="182.82" y="2194.16" width="59.5" height="56" fill="#4cfc1f"/>
<rect x="245.94" y="2194.16" width="59.5" height="56" fill="#4cfc1f"/>
<rect x="309.06" y="2194.16" width="59.5" height="56" fill="#4cfc1f"/>
<rect x="372.18" y="2194.16" width="59.5" height="56" fill="#4cfc1f"/>
<rect x="435.3" y="2194.16" width="59.5" height="56" fill="#4cfc1f"/>
<rect x="498.42" y="2194.16" width="59.5" height="56" fill="#a01a10"/>
<rect x="561.54" y="2194.16" width="59.5" height="56" fill="#961a0e"/>
<rect x="624.66" y="2194.16" width="59.5" height="56" fill="#bc2014"/>
<rect x="687.78" y="2194.16" width="59.5" height="56" fill="#f02010"/>
<rect x="750.9" y="2194.16" width="59.5" height="56" fill="#cc2414"/>
<rect x="814.02" y="2194.16" width="59.5" height="56" fill="#bc2012"/>
<rect x="119.7" y="2253.7" width="59.5" height="56" fill="#48fc1c"/>
<rect x="182.82" y="2253.7" width="59.5" height="56" fill="#48fc1c"/>
<rect x="245.94" y="2253.7" width="59.5" height="56" fill="#48fc1c"/>
<rect x="309.06" y="2253.7" width="59.5" height="56" fill="#46b426"/>
<rect x="372.18" y="2253.7" width="59.5" height="56" fill="#4ce024"/>
<rect x="435.3" y="2253.7" width="59.5" height="56" fill="#48c026"/>
<rect x="498.42" y="2253.7" width="59.5" height="56" fill="#6e0e08"/>
<rect x="561.54" y="2253.7" width="59.5" height="56" fill="#18340a"/>
<rect x="624.66" y="2253.7" width="59.5" height="56" fill="#1c2808"/>
<rect x="687.78" y="2253.7" width="59.5" height="56" fill="#fe1c0e"/>
<rect x="750.9" y="2253.7" width="59.5" height="56" fill="#cc2414"/>
<rect x="814.02" y="2253.7" width="59.5" height="56" fill="#e22212"/>
<rect x="119.7" y="2313.24" width="59.5" height="56" fill="#46fc12"/>
<rect x="182.82" y="2313.24" width="59.5" height="56" fill="#46fc12"/>
<rect x="245.94" y="2313.24" width="59.5" height="56" fill="#46fc12"/>
<rect x="309.06" y="2313.24" width="59.5" height="56" fill="#388a22"/>
<rect x="372.18" y="2313.24" width="59.5" height="56" fill="#44b42a"/>
<rect x="435.3" y="2313.24" width="59.5" height="56" fill="#46a82a"/>
<rect x="498.42" y="2313.24" width="59.5" height="56" fill="#8c160c"/>
<rect x="561.54" y="2313.24" width="59.5" height="56" fill="#d42414"/>
<rect x="624.66" y="2313.24" width="59.5" height="56" fill="#d42414"/>
<rect x="687.78" y="2313.24" width="59.5" height="56" fill="#c82414"/>
<rect x="750.9" y="2313.24" width="59.5" height="56" fill="#a01a10"/>
<rect x="814.02" y="2313.24" width="59.5" height="56" fill="#c82414"/>
<rect x="119.7" y="2372.78" width="59.5" height="56" fill="#46fc12"/>
<rect x="182.82" y="2372.78" width="59.5" height="56" fill="#46fc12"/>
<rect x="245.94" y="2372.78" width="59.5" height="56" fill="#46fc12"/>
<rect x="309.06" y="2372.78" width="59.5" height="56" fill="#44aa28"/>
<rect x="372.18" y="2372.78" width="59.5" height="56" fill="#44a828"/>
<rect x="435.3" y="2372.78" width="59.5" height="56" fill="#46b42a"/>
<rect x="498.42" y="2372.78" width="59.5" height="56" fill="#d42414"/>
<rect x="561.54" y="2372.78" width="59.5" height="56" fill="#d42414"/>
<rect x="624.66" y="2372.78" width="59.5" height="56" fill="#c82414"/>
<rect x="687.78" y="2372.78" width="59.5" height="56" fill="#d02414"/>
<rect x="750.9" y="2372.78" width="59.5" height="56" fill="#9c1a10"/>
<rect x="814.02" y="2372.78" width="59.5" height="56" fill="#9c1a10"/>
<rect x="119.7" y="2432.32" width="59.5" height="56" fill="#4cfc1f"/>
<rect x="182.82" y="2432.32" width="59.5" height="56" fill="#4cfc1f"/>
<rect x="245.94" y="2432.32" width="59.5" height="56" fill="#4cfc1f"/>
<rect x="309.06" y="2432.32" width="59.5" height="56" fill="#4cfc1f"/>
<rect x="372.18" y="2432.32" width="59.5" height="56" fill="#4cfc1f"/>
<rect x="435.3" y="2432.32" width="59.5" height="56" fill="#4cfc1f"/>
<rect x="498.42" y="2432.32" width="59.5" height="56" fill="#1e5010"/>
<rect x="561.54" y="2432.32" width="59.5" height="56" fill="#2e721e"/>
<rect x="624.66" y="2432.32" width="59.5" height="56" fill="#1e5010"/>
<rect x="687.78" y="2432.32" width="59.5" height="56" fill="#f41e0e"/>
<rect x="750.9" y="2432.32" width="59.5" height="56" fill="#f41e0e"/>
<rect x="814.02" y="2432.32" width="59.5" height="56" fill="#f41e0e"/>
<text x="170.45" y="1629.6" font-size="33.11">Day 0</text>
<line x1="135.4" y1="1643" x2="291" y2="1643" stroke="#111" stroke-width="3.3"/>
<text x="363.85" y="1629.6" font-size="33.13">Day 3</text>
<line x1="324.5" y1="1643" x2="480.7" y2="1643" stroke="#111" stroke-width="3.3"/>
<text x="548.73" y="1629.6" font-size="33.33">Day 6</text>
<line x1="511.3" y1="1643" x2="667.5" y2="1643" stroke="#111" stroke-width="3.3"/>
<text x="737.43" y="1629.6" font-size="33.4">Day 9</text>
<line x1="703.8" y1="1643" x2="859.4" y2="1643" stroke="#111" stroke-width="3.3"/>
<text x="883.98" y="1700.5" font-size="32.7" fill="#e8191e">ELTD1</text>
<text x="883.98" y="1760.04" font-size="32.7">PECAM1</text>
<text x="884.97" y="1819.58" font-size="32.7">CD34</text>
<text x="884.97" y="1879.12" font-size="32.7">CDH5</text>
<text x="885.13" y="1938.66" font-size="32.7">SOX7</text>
<text x="883.66" y="1998.2" font-size="32.7">ITGB3</text>
<text x="884.97" y="2057.74" font-size="32.7">GATA2</text>
<text x="883.98" y="2117.28" font-size="32.7">MEIS1</text>
<text x="883.98" y="2176.82" font-size="32.7">MEIS2</text>
<text x="883.98" y="2236.36" font-size="32.7">RUNX1</text>
<text x="883.98" y="2295.9" font-size="32.7">HOXA3</text>
<text x="883.98" y="2355.44" font-size="32.7">HOXA9</text>
<text x="883.98" y="2414.98" font-size="32.7">HOXB4</text>
<text x="884.97" y="2474.52" font-size="32.7">GFI1B</text>
<line x1="102.5" y1="1733.7" x2="102.5" y2="1999.8" stroke="#111" stroke-width="3.3"/>
<line x1="102.5" y1="2031.8" x2="102.5" y2="2458.2" stroke="#111" stroke-width="3.3"/>
<text transform="translate(78.5,1865) rotate(-90)" x="-34.4" y="0" font-size="33">HEP</text>
<text transform="translate(78.5,2223.9) rotate(-90)" x="-113.48" y="0" font-size="33" textLength="225.4" lengthAdjust="spacingAndGlyphs">Hematopoiesis</text>
<rect x="1020.5" y="2029.9" width="30.8" height="461.5" fill="url(#rgb2)"/>
<text x="1064.24" y="2092.5" font-size="32.78">1.5</text>
<text x="1079.05" y="2158.5" font-size="33">1</text>
<text x="1064.29" y="2224.4" font-size="32.75">0.5</text>
<text x="1078.01" y="2290.3" font-size="33">0</text>
<text x="1055.18" y="2356.3" font-size="32.41">−0.5</text>
<text x="1066.51" y="2422.2" font-size="33">−1</text>
<text x="1055.18" y="2488.1" font-size="32.41">−1.5</text>
<text x="1144.81" y="1590.7" font-size="57" font-weight="bold">g</text>
<line x1="1319.6" y1="1648" x2="1319.6" y2="1971.8" stroke="#111" stroke-width="3.8"/>
<line x1="1311" y1="1970.2" x2="1781" y2="1970.2" stroke="#111" stroke-width="4.2"/>
<line x1="1311" y1="1889.8" x2="1319.6" y2="1889.8" stroke="#111" stroke-width="3.6"/>
<line x1="1311" y1="1809.8" x2="1319.6" y2="1809.8" stroke="#111" stroke-width="3.6"/>
<line x1="1311" y1="1729.8" x2="1319.6" y2="1729.8" stroke="#111" stroke-width="3.6"/>
<line x1="1311" y1="1649.8" x2="1319.6" y2="1649.8" stroke="#111" stroke-width="3.6"/>
<text x="1253.11" y="1658" font-size="33">400</text>
<text x="1253.11" y="1738" font-size="33">300</text>
<text x="1253.11" y="1818" font-size="33">200</text>
<text x="1253.11" y="1898.7" font-size="33">100</text>
<text x="1279.04" y="1979" font-size="33">0</text>
<line x1="1602.7" y1="1970.2" x2="1602.7" y2="1979.3" stroke="#111" stroke-width="3.6"/>
<line x1="1708" y1="1970.2" x2="1708" y2="1979.3" stroke="#111" stroke-width="3.6"/>
<text x="1355.36" y="2010.3" font-size="32.99">Day 0</text>
<text x="1464.18" y="2010.3" font-size="32.73">Day 3</text>
<text x="1568.97" y="2010.3" font-size="32.93">Day 6</text>
<text x="1674.35" y="2010.3" font-size="33.08">Day 9</text>
<text transform="translate(1213,1810.5) rotate(-90)" x="-142.77" y="0" font-size="33" textLength="285.03" lengthAdjust="spacingAndGlyphs">ELTD1 mRNA level</text>
<path d="M1390.4,1969.32 L1496.5,1969.32 L1602.7,1749.8 L1708,1893" fill="none" stroke="#000" stroke-width="4.2" stroke-linejoin="round"/>
<line x1="1602.7" y1="1702.6" x2="1602.7" y2="1796" stroke="#222" stroke-width="3"/>
<line x1="1596" y1="1702.6" x2="1609.3" y2="1702.6" stroke="#222" stroke-width="3"/>
<line x1="1596" y1="1796" x2="1609.3" y2="1796" stroke="#222" stroke-width="3"/>
<line x1="1708.3" y1="1887.5" x2="1708.3" y2="1900" stroke="#222" stroke-width="3"/>
<line x1="1704" y1="1900" x2="1712.6" y2="1900" stroke="#222" stroke-width="3"/>
<circle cx="1390.4" cy="1969.7" r="8" fill="#000"/>
<rect x="1488" y="1962" width="16" height="16" fill="#000"/>
<path d="M1602.7,1740.0 L1611.2,1754.5 L1594.2,1754.5 Z" fill="#000"/>
<path d="M1708.3,1900.0 L1716.5,1886.5 L1700.1,1886.5 Z" fill="#000"/>
<text x="1584.94" y="1709" font-size="30.96">***</text>
<text x="1691.93" y="1881" font-size="31.14">***</text>
<text x="1465.21" y="1922.8" font-size="33.68">n.s.</text>
<text x="1145.3" y="2109.8" font-size="57" font-weight="bold">h</text>
<line x1="1316.4" y1="2157" x2="1316.4" y2="2311" stroke="#111" stroke-width="3.6"/>
<line x1="1316.4" y1="2333.2" x2="1316.4" y2="2485" stroke="#111" stroke-width="3.6"/>
<line x1="1307.9" y1="2483.2" x2="1774.6" y2="2483.2" stroke="#111" stroke-width="4.2"/>
<line x1="1307.9" y1="2158.8" x2="1316.4" y2="2158.8" stroke="#111" stroke-width="3.6"/>
<line x1="1307.9" y1="2209.03" x2="1316.4" y2="2209.03" stroke="#111" stroke-width="3.6"/>
<line x1="1307.9" y1="2259.27" x2="1316.4" y2="2259.27" stroke="#111" stroke-width="3.6"/>
<line x1="1307.9" y1="2309.5" x2="1323.6" y2="2309.5" stroke="#111" stroke-width="3.6"/>
<line x1="1307.9" y1="2335" x2="1323.6" y2="2335" stroke="#111" stroke-width="3.6"/>
<line x1="1307.9" y1="2364.64" x2="1316.4" y2="2364.64" stroke="#111" stroke-width="3.6"/>
<line x1="1307.9" y1="2394.28" x2="1316.4" y2="2394.28" stroke="#111" stroke-width="3.6"/>
<line x1="1307.9" y1="2423.92" x2="1316.4" y2="2423.92" stroke="#111" stroke-width="3.6"/>
<line x1="1307.9" y1="2453.56" x2="1316.4" y2="2453.56" stroke="#111" stroke-width="3.6"/>
<text x="1233.03" y="2166.4" font-size="33">3000</text>
<text x="1233.03" y="2217.2" font-size="33">2500</text>
<text x="1233.03" y="2267.2" font-size="33">2000</text>
<text x="1233.03" y="2317.2" font-size="33">1500</text>
<text x="1284.61" y="2345.1" font-size="33">5</text>
<text x="1284.27" y="2375.6" font-size="33">4</text>
<text x="1284.61" y="2406.9" font-size="33">3</text>
<text x="1284.93" y="2436.6" font-size="33">2</text>
<text x="1284.77" y="2466.2" font-size="33">1</text>
<text x="1284.44" y="2497.5" font-size="33">0</text>
<text transform="translate(1213,2320.1) rotate(-90)" x="-141.95" y="0" font-size="33" textLength="283.41" lengthAdjust="spacingAndGlyphs">ELTD1 mRNA level</text>
<rect x="1351.1" y="2455.5" width="70.1" height="27.7" fill="#231815"/>
<line x1="1386.15" y1="2455.5" x2="1386.15" y2="2453.9" stroke="#111" stroke-width="4"/>
<line x1="1368.7" y1="2453.9" x2="1403.7" y2="2453.9" stroke="#111" stroke-width="4.2"/>
<rect x="1456.7" y="2433.5" width="69.8" height="49.7" fill="#45e21e"/>
<line x1="1491.6" y1="2433.5" x2="1491.6" y2="2424.2" stroke="#111" stroke-width="4"/>
<line x1="1474" y1="2424.2" x2="1509" y2="2424.2" stroke="#111" stroke-width="4.2"/>
<rect x="1667.2" y="2459.2" width="70" height="24" fill="#1c10f2"/>
<line x1="1702.2" y1="2459.2" x2="1702.2" y2="2443.8" stroke="#111" stroke-width="4"/>
<line x1="1685" y1="2443.8" x2="1720" y2="2443.8" stroke="#111" stroke-width="4.2"/>
<rect x="1562.1" y="2335" width="69.8" height="148.2" fill="#68a6f8"/>
<rect x="1562.1" y="2224.4" width="69.8" height="84.9" fill="#68a6f8"/>
<line x1="1597" y1="2224.4" x2="1597" y2="2205.3" stroke="#111" stroke-width="4"/>
<line x1="1579.6" y1="2205.3" x2="1614.6" y2="2205.3" stroke="#111" stroke-width="4.2"/>
<text x="1578.33" y="2209.7" font-size="31.4">***</text>
<text x="1472.64" y="2415.4" font-size="33.2">n.s.</text>
<text x="1683.52" y="2434.8" font-size="33.54">n.s.</text>
<rect x="1668.5" y="2154.9" width="39.8" height="8.6" fill="#080808"/>
<rect x="1668.5" y="2193.5" width="39.8" height="8.6" fill="#40dc24"/>
<rect x="1668.5" y="2231.2" width="39.8" height="8.1" fill="#66a8f8"/>
<rect x="1668.5" y="2266" width="39.8" height="8.6" fill="#1410f0"/>
<text x="1708.43" y="2166.9" font-size="32.96">Undifferentiated</text>
<text x="1709.26" y="2208.1" font-size="32.74">CD309</text>
<text x="1812.12" y="2196.77" font-size="17.5">+</text>
<text x="1710.14" y="2245.8" font-size="33.13">CD31</text>
<text x="1794.12" y="2234.57" font-size="17.5">+</text>
<text x="1804.47" y="2245.8" font-size="32.61">CD34</text>
<text x="1888.53" y="2234.57" font-size="17.5">+</text>
<text x="1710.17" y="2282.7" font-size="32.7">CD43</text>
<text x="1794.62" y="2272.27" font-size="17.5">+</text>
</svg>
</body></html>
